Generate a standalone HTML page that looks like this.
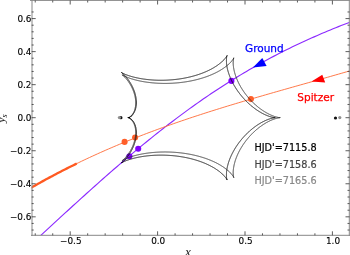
<!DOCTYPE html>
<html><head><meta charset="utf-8"><style>
html,body{margin:0;padding:0;background:#fff;width:350px;height:255px;overflow:hidden}
svg{display:block}
.tl{font-family:"DejaVu Sans","Liberation Sans",sans-serif;font-size:8.9px;fill:#000;stroke:#000;stroke-width:0.12px}
.lg{font-family:"DejaVu Sans","Liberation Sans",sans-serif;font-size:10.5px;stroke-width:0.25px}
.hj{font-family:"DejaVu Sans","Liberation Sans",sans-serif;font-size:9.7px;stroke-width:0.2px}
.ax{font-family:"Liberation Serif","DejaVu Serif",serif;font-style:italic;fill:#222;stroke:#222;stroke-width:0.05px}
</style></head><body>
<svg width="350" height="255" viewBox="0 0 350 255">
<defs><clipPath id="c"><rect x="31.7" y="0.5" width="317.8" height="234.8"/></clipPath></defs>
<g clip-path="url(#c)">
<path d="M30.00 245.26 L32.71 242.78 L35.41 240.29 L38.12 237.81 L40.82 235.32 L43.53 232.83 L46.24 230.34 L48.94 227.85 L51.65 225.36 L54.35 222.87 L57.06 220.39 L59.76 217.90 L62.47 215.42 L65.18 212.94 L67.88 210.46 L70.59 207.99 L73.29 205.52 L76.00 203.06 L78.71 200.60 L81.41 198.15 L84.12 195.70 L86.82 193.26 L89.53 190.83 L92.24 188.40 L94.94 185.99 L97.65 183.57 L100.35 181.17 L103.06 178.78 L105.76 176.40 L108.47 174.02 L111.18 171.66 L113.88 169.30 L116.59 166.96 L119.29 164.62 L122.00 162.30 L124.71 159.99 L127.41 157.69 L130.12 155.41 L132.82 153.13 L135.53 150.87 L138.24 148.62 L140.94 146.39 L143.65 144.16 L146.35 141.96 L149.06 139.76 L151.76 137.58 L154.47 135.41 L157.18 133.26 L159.88 131.13 L162.59 129.00 L165.29 126.90 L168.00 124.81 L170.71 122.73 L173.41 120.67 L176.12 118.63 L178.82 116.60 L181.53 114.59 L184.24 112.59 L186.94 110.61 L189.65 108.65 L192.35 106.71 L195.06 104.78 L197.76 102.87 L200.47 100.97 L203.18 99.09 L205.88 97.23 L208.59 95.39 L211.29 93.56 L214.00 91.76 L216.71 89.96 L219.41 88.19 L222.12 86.43 L224.82 84.70 L227.53 82.97 L230.24 81.27 L232.94 79.58 L235.65 77.92 L238.35 76.27 L241.06 74.63 L243.76 73.02 L246.47 71.42 L249.18 69.84 L251.88 68.27 L254.59 66.73 L257.29 65.20 L260.00 63.68 L262.71 62.19 L265.41 60.71 L268.12 59.25 L270.82 57.80 L273.53 56.38 L276.24 54.96 L278.94 53.57 L281.65 52.19 L284.35 50.83 L287.06 49.48 L289.76 48.15 L292.47 46.83 L295.18 45.53 L297.88 44.25 L300.59 42.98 L303.29 41.72 L306.00 40.48 L308.71 39.26 L311.41 38.04 L314.12 36.85 L316.82 35.66 L319.53 34.49 L322.24 33.33 L324.94 32.19 L327.65 31.06 L330.35 29.94 L333.06 28.83 L335.76 27.74 L338.47 26.65 L341.18 25.58 L343.88 24.52 L346.59 23.47 L349.29 22.43 L352.00 21.40" fill="none" stroke="#8c2aff" stroke-width="1.15"/><path d="M30.00 188.42 L32.71 186.86 L35.41 185.31 L38.12 183.79 L40.82 182.27 L43.53 180.78 L46.24 179.29 L48.94 177.82 L51.65 176.37 L54.35 174.93 L57.06 173.51 L59.76 172.10 L62.47 170.70 L65.18 169.32 L67.88 167.95 L70.59 166.60 L73.29 165.26 L76.00 163.93 L78.71 162.62 L81.41 161.32 L84.12 160.03 L86.82 158.75 L89.53 157.49 L92.24 156.24 L94.94 155.00 L97.65 153.78 L100.35 152.56 L103.06 151.36 L105.76 150.17 L108.47 148.99 L111.18 147.82 L113.88 146.67 L116.59 145.52 L119.29 144.38 L122.00 143.26 L124.71 142.15 L127.41 141.04 L130.12 139.95 L132.82 138.87 L135.53 137.80 L138.24 136.73 L140.94 135.68 L143.65 134.64 L146.35 133.60 L149.06 132.57 L151.76 131.56 L154.47 130.55 L157.18 129.55 L159.88 128.56 L162.59 127.58 L165.29 126.60 L168.00 125.64 L170.71 124.68 L173.41 123.73 L176.12 122.79 L178.82 121.85 L181.53 120.92 L184.24 120.00 L186.94 119.09 L189.65 118.18 L192.35 117.28 L195.06 116.39 L197.76 115.50 L200.47 114.62 L203.18 113.74 L205.88 112.87 L208.59 112.01 L211.29 111.15 L214.00 110.29 L216.71 109.45 L219.41 108.60 L222.12 107.76 L224.82 106.93 L227.53 106.10 L230.24 105.28 L232.94 104.46 L235.65 103.64 L238.35 102.83 L241.06 102.02 L243.76 101.22 L246.47 100.42 L249.18 99.62 L251.88 98.82 L254.59 98.03 L257.29 97.24 L260.00 96.46 L262.71 95.68 L265.41 94.89 L268.12 94.12 L270.82 93.34 L273.53 92.56 L276.24 91.79 L278.94 91.02 L281.65 90.25 L284.35 89.48 L287.06 88.72 L289.76 87.95 L292.47 87.18 L295.18 86.42 L297.88 85.65 L300.59 84.89 L303.29 84.13 L306.00 83.36 L308.71 82.60 L311.41 81.84 L314.12 81.07 L316.82 80.31 L319.53 79.54 L322.24 78.77 L324.94 78.01 L327.65 77.24 L330.35 76.47 L333.06 75.70 L335.76 74.92 L338.47 74.15 L341.18 73.37 L343.88 72.59 L346.59 71.81 L349.29 71.03 L352.00 70.24" fill="none" stroke="#ff6a35" stroke-width="0.9"/><path d="M30.00 188.42 L31.61 187.49 L33.22 186.56 L34.83 185.65 L36.44 184.73 L38.05 183.82 L39.66 182.92 L41.27 182.02 L42.88 181.13 L44.49 180.25 L46.10 179.36 L47.71 178.49 L49.32 177.62 L50.93 176.75 L52.54 175.89 L54.16 175.04 L55.77 174.19 L57.38 173.34 L58.99 172.50 L60.60 171.67 L62.21 170.84 L63.82 170.01 L65.43 169.19 L67.04 168.38 L68.65 167.57 L70.26 166.76 L71.87 165.96 L73.48 165.17 L75.09 164.38 L76.70 163.59" fill="none" stroke="#ff5a22" stroke-width="2.3"/>
<circle cx="124.6" cy="141.9" r="3.05" fill="#ff5f2a"/><circle cx="135.1" cy="137.5" r="3.05" fill="#ff5f2a"/><circle cx="250.9" cy="99.1" r="3.05" fill="#ff5f2a"/><circle cx="129.4" cy="156.3" r="3.05" fill="#8000ff"/><circle cx="138.2" cy="148.7" r="3.05" fill="#8000ff"/><circle cx="231.4" cy="80.9" r="3.05" fill="#8000ff"/>
<path d="M128.31 117.70 L128.31 117.70 L128.31 117.70 L128.31 117.70 L128.31 117.70 L128.31 117.70 L128.31 117.70 L128.31 117.70 L128.31 117.70 L128.31 117.70 L128.31 117.70 L128.31 117.70 L128.31 117.70 L128.31 117.70 L128.31 117.70 L128.31 117.70 L128.32 117.70 L128.32 117.70 L128.32 117.70 L128.32 117.70 L128.32 117.70 L128.32 117.70 L128.32 117.70 L128.32 117.70 L128.32 117.70 L128.33 117.70 L128.33 117.70 L128.33 117.70 L128.33 117.70 L128.33 117.70 L128.33 117.70 L128.33 117.70 L128.34 117.70 L128.34 117.70 L128.34 117.70 L128.34 117.70 L128.34 117.70 L128.35 117.70 L128.35 117.70 L128.35 117.70 L128.35 117.70 L128.35 117.70 L128.36 117.70 L128.36 117.70 L128.36 117.70 L128.36 117.70 L128.36 117.70 L128.37 117.70 L128.37 117.70 L128.37 117.70 L128.38 117.70 L128.38 117.70 L128.38 117.70 L128.38 117.71 L128.39 117.71 L128.39 117.71 L128.39 117.71 L128.39 117.71 L128.40 117.71 L128.40 117.71 L128.40 117.71 L128.41 117.71 L128.41 117.71 L128.41 117.71 L128.42 117.71 L128.42 117.71 L128.42 117.71 L128.43 117.71 L128.43 117.71 L128.43 117.71 L128.44 117.71 L128.44 117.71 L128.45 117.71 L128.45 117.71 L128.45 117.71 L128.46 117.71 L128.46 117.72 L128.47 117.72 L128.47 117.72 L128.47 117.72 L128.48 117.72 L128.48 117.72 L128.49 117.72 L128.49 117.72 L128.50 117.72 L128.50 117.72 L128.50 117.72 L128.51 117.72 L128.51 117.72 L128.52 117.72 L128.52 117.73 L128.53 117.73 L128.53 117.73 L128.54 117.73 L128.54 117.73 L128.55 117.73 L128.55 117.73 L128.56 117.73 L128.56 117.73 L128.57 117.73 L128.57 117.74 L128.58 117.74 L128.58 117.74 L128.59 117.74 L128.59 117.74 L128.60 117.74 L128.60 117.74 L128.61 117.74 L128.62 117.74 L128.62 117.75 L128.63 117.75 L128.63 117.75 L128.64 117.75 L128.64 117.75 L128.65 117.75 L128.66 117.75 L128.66 117.75 L128.67 117.76 L128.67 117.76 L128.68 117.76 L128.69 117.76 L128.69 117.76 L128.70 117.76 L128.71 117.77 L128.71 117.77 L128.72 117.77 L128.73 117.77 L128.73 117.77 L128.74 117.77 L128.75 117.78 L128.75 117.78 L128.76 117.78 L128.77 117.78 L128.77 117.78 L128.78 117.78 L128.79 117.79 L128.79 117.79 L128.80 117.79 L128.81 117.79 L128.81 117.79 L128.82 117.80 L128.83 117.80 L128.84 117.80 L128.84 117.80 L128.85 117.80 L128.86 117.81 L128.87 117.81 L128.87 117.81 L128.88 117.81 L128.89 117.82 L128.90 117.82 L128.90 117.82 L128.91 117.82 L128.92 117.83 L128.93 117.83 L128.94 117.83 L128.94 117.83 L128.95 117.84 L128.96 117.84 L128.97 117.84 L128.98 117.84 L128.98 117.85 L128.99 117.85 L129.00 117.85 L129.01 117.85 L129.02 117.86 L129.03 117.86 L129.03 117.86 L129.04 117.87 L129.05 117.87 L129.06 117.87 L129.07 117.88 L129.08 117.88 L129.09 117.88 L129.10 117.88 L129.10 117.89 L129.11 117.89 L129.12 117.89 L129.13 117.90 L129.14 117.90 L129.15 117.90 L129.16 117.91 L129.17 117.91 L129.18 117.91 L129.19 117.92 L129.20 117.92 L129.20 117.93 L129.21 117.93 L129.22 117.93 L129.23 117.94 L129.24 117.94 L129.25 117.94 L129.26 117.95 L129.27 117.95 L129.28 117.96 L129.29 117.96 L129.30 117.96 L129.31 117.97 L129.32 117.97 L129.33 117.98 L129.34 117.98 L129.35 117.98 L129.36 117.99 L129.37 117.99 L129.38 118.00 L129.39 118.00 L129.40 118.01 L129.41 118.01 L129.42 118.02 L129.43 118.02 L129.44 118.02 L129.45 118.03 L129.46 118.03 L129.47 118.04 L129.48 118.04 L129.50 118.05 L129.51 118.05 L129.52 118.06 L129.53 118.06 L129.54 118.07 L129.55 118.07 L129.56 118.08 L129.57 118.08 L129.58 118.09 L129.59 118.09 L129.60 118.10 L129.62 118.10 L129.63 118.11 L129.64 118.12 L129.65 118.12 L129.66 118.13 L129.67 118.13 L129.68 118.14 L129.69 118.14 L129.71 118.15 L129.72 118.16 L129.73 118.16 L129.74 118.17 L129.75 118.17 L129.76 118.18 L129.77 118.18 L129.79 118.19 L129.80 118.20 L129.81 118.20 L129.82 118.21 L129.83 118.22 L129.85 118.22 L129.86 118.23 L129.87 118.24 L129.88 118.24 L129.89 118.25 L129.91 118.25 L129.92 118.26 L129.93 118.27 L129.94 118.27 L129.95 118.28 L129.97 118.29 L129.98 118.30 L129.99 118.30 L130.00 118.31 L130.02 118.32 L130.03 118.32 L130.04 118.33 L130.05 118.34 L130.07 118.35 L130.08 118.35 L130.09 118.36 L130.10 118.37 L130.12 118.38 L130.13 118.38 L130.14 118.39 L130.15 118.40 L130.17 118.41 L130.18 118.41 L130.19 118.42 L130.21 118.43 L130.22 118.44 L130.23 118.45 L130.25 118.45 L130.26 118.46 L130.27 118.47 L130.29 118.48 L130.30 118.49 L130.31 118.50 L130.32 118.50 L130.34 118.51 L130.35 118.52 L130.36 118.53 L130.38 118.54 L130.39 118.55 L130.41 118.56 L130.42 118.56 L130.43 118.57 L130.45 118.58 L130.46 118.59 L130.47 118.60 L130.49 118.61 L130.50 118.62 L130.51 118.63 L130.53 118.64 L130.54 118.65 L130.56 118.66 L130.57 118.67 L130.58 118.68 L130.60 118.69 L130.61 118.70 L130.63 118.71 L130.64 118.72 L130.65 118.73 L130.67 118.74 L130.68 118.75 L130.70 118.76 L130.71 118.77 L130.72 118.78 L130.74 118.79 L130.75 118.80 L130.77 118.81 L130.78 118.82 L130.80 118.83 L130.81 118.84 L130.82 118.85 L130.84 118.86 L130.85 118.87 L130.87 118.88 L130.88 118.89 L130.90 118.91 L130.91 118.92 L130.93 118.93 L130.94 118.94 L130.96 118.95 L130.97 118.96 L130.98 118.97 L131.00 118.98 L131.01 119.00 L131.03 119.01 L131.04 119.02 L131.06 119.03 L131.07 119.04 L131.09 119.06 L131.10 119.07 L131.12 119.08 L131.13 119.09 L131.15 119.10 L131.16 119.12 L131.18 119.13 L131.19 119.14 L131.21 119.15 L131.22 119.17 L131.24 119.18 L131.25 119.19 L131.27 119.21 L131.28 119.22 L131.30 119.23 L131.31 119.24 L131.33 119.26 L131.34 119.27 L131.36 119.28 L131.38 119.30 L131.39 119.31 L131.41 119.33 L131.42 119.34 L131.44 119.35 L131.45 119.37 L131.47 119.38 L131.48 119.39 L131.50 119.41 L131.51 119.42 L131.53 119.44 L131.55 119.45 L131.56 119.47 L131.58 119.48 L131.59 119.49 L131.61 119.51 L131.62 119.52 L131.64 119.54 L131.66 119.55 L131.67 119.57 L131.69 119.58 L131.70 119.60 L131.72 119.61 L131.73 119.63 L131.75 119.64 L131.77 119.66 L131.78 119.67 L131.80 119.69 L131.81 119.71 L131.83 119.72 L131.85 119.74 L131.86 119.75 L131.88 119.77 L131.89 119.78 L131.91 119.80 L131.93 119.82 L131.94 119.83 L131.96 119.85 L131.97 119.87 L131.99 119.88 L132.01 119.90 L132.02 119.92 L132.04 119.93 L132.05 119.95 L132.07 119.97 L132.09 119.98 L132.10 120.00 L132.12 120.02 L132.13 120.04 L132.15 120.05 L132.17 120.07 L132.18 120.09 L132.20 120.11 L132.22 120.12 L132.23 120.14 L132.25 120.16 L132.26 120.18 L132.28 120.20 L132.30 120.21 L132.31 120.23 L132.33 120.25 L132.35 120.27 L132.36 120.29 L132.38 120.31 L132.40 120.32 L132.41 120.34 L132.43 120.36 L132.44 120.38 L132.46 120.40 L132.48 120.42 L132.49 120.44 L132.51 120.46 L132.53 120.48 L132.54 120.50 L132.56 120.52 L132.58 120.54 L132.59 120.56 L132.61 120.58 L132.62 120.60 L132.64 120.62 L132.66 120.64 L132.67 120.66 L132.69 120.68 L132.71 120.70 L132.72 120.72 L132.74 120.74 L132.76 120.76 L132.77 120.78 L132.79 120.80 L132.81 120.82 L132.82 120.84 L132.84 120.86 L132.86 120.89 L132.87 120.91 L132.89 120.93 L132.91 120.95 L132.92 120.97 L132.94 120.99 L132.95 121.02 L132.97 121.04 L132.99 121.06 L133.00 121.08 L133.02 121.10 L133.04 121.13 L133.05 121.15 L133.07 121.17 L133.09 121.20 L133.10 121.22 L133.12 121.24 L133.14 121.26 L133.15 121.29 L133.17 121.31 L133.19 121.33 L133.20 121.36 L133.22 121.38 L133.24 121.40 L133.25 121.43 L133.27 121.45 L133.28 121.48 L133.30 121.50 L133.32 121.52 L133.33 121.55 L133.35 121.57 L133.37 121.60 L133.38 121.62 L133.40 121.65 L133.42 121.67 L133.43 121.70 L133.45 121.72 L133.47 121.75 L133.48 121.77 L133.50 121.80 L133.51 121.82 L133.53 121.85 L133.55 121.87 L133.56 121.90 L133.58 121.92 L133.60 121.95 L133.61 121.98 L133.63 122.00 L133.65 122.03 L133.66 122.05 L133.68 122.08 L133.69 122.11 L133.71 122.13 L133.73 122.16 L133.74 122.19 L133.76 122.22 L133.78 122.24 L133.79 122.27 L133.81 122.30 L133.82 122.32 L133.84 122.35 L133.86 122.38 L133.87 122.41 L133.89 122.44 L133.90 122.46 L133.92 122.49 L133.94 122.52 L133.95 122.55 L133.97 122.58 L133.98 122.60 L134.00 122.63 L134.02 122.66 L134.03 122.69 L134.05 122.72 L134.06 122.75 L134.08 122.78 L134.10 122.81 L134.11 122.84 L134.13 122.87 L134.14 122.90 L134.16 122.93 L134.18 122.96 L134.19 122.99 L134.21 123.02 L134.22 123.05 L134.24 123.08 L134.25 123.11 L134.27 123.14 L134.29 123.17 L134.30 123.20 L134.32 123.23 L134.33 123.26 L134.35 123.29 L134.36 123.32 L134.38 123.36 L134.39 123.39 L134.41 123.42 L134.42 123.45 L134.44 123.48 L134.46 123.52 L134.47 123.55 L134.49 123.58 L134.50 123.61 L134.52 123.64 L134.53 123.68 L134.55 123.71 L134.56 123.74 L134.58 123.78 L134.59 123.81 L134.61 123.84 L134.62 123.88 L134.64 123.91 L134.65 123.94 L134.67 123.98 L134.68 124.01 L134.70 124.04 L134.71 124.08 L134.73 124.11 L134.74 124.15 L134.76 124.18 L134.77 124.22 L134.78 124.25 L134.80 124.29 L134.81 124.32 L134.83 124.36 L134.84 124.39 L134.86 124.43 L134.87 124.46 L134.89 124.50 L134.90 124.53 L134.91 124.57 L134.93 124.61 L134.94 124.64 L134.96 124.68 L134.97 124.72 L134.98 124.75 L135.00 124.79 L135.01 124.83 L135.03 124.86 L135.04 124.90 L135.05 124.94 L135.07 124.97 L135.08 125.01 L135.10 125.05 L135.11 125.09 L135.12 125.12 L135.14 125.16 L135.15 125.20 L135.16 125.24 L135.18 125.28 L135.19 125.32 L135.20 125.35 L135.22 125.39 L135.23 125.43 L135.24 125.47 L135.26 125.51 L135.27 125.55 L135.28 125.59 L135.30 125.63 L135.31 125.67 L135.32 125.71 L135.33 125.75 L135.35 125.79 L135.36 125.83 L135.37 125.87 L135.39 125.91 L135.40 125.95 L135.41 125.99 L135.42 126.03 L135.44 126.07 L135.45 126.12 L135.46 126.16 L135.47 126.20 L135.48 126.24 L135.50 126.28 L135.51 126.32 L135.52 126.37 L135.53 126.41 L135.54 126.45 L135.56 126.49 L135.57 126.54 L135.58 126.58 L135.59 126.62 L135.60 126.66 L135.61 126.71 L135.63 126.75 L135.64 126.79 L135.65 126.84 L135.66 126.88 L135.67 126.93 L135.68 126.97 L135.69 127.01 L135.70 127.06 L135.71 127.10 L135.73 127.15 L135.74 127.19 L135.75 127.24 L135.76 127.28 L135.77 127.33 L135.78 127.37 L135.79 127.42 L135.80 127.46 L135.81 127.51 L135.82 127.56 L135.83 127.60 L135.84 127.65 L135.85 127.70 L135.86 127.74 L135.87 127.79 L135.88 127.84 L135.89 127.88 L135.90 127.93 L135.91 127.98 L135.92 128.02 L135.93 128.07 L135.94 128.12 L135.95 128.17 L135.95 128.22 L135.96 128.26 L135.97 128.31 L135.98 128.36 L135.99 128.41 L136.00 128.46 L136.01 128.51 L136.02 128.56 L136.02 128.61 L136.03 128.66 L136.04 128.70 L136.05 128.75 L136.06 128.80 L136.06 128.85 L136.07 128.90 L136.08 128.96 L136.09 129.01 L136.10 129.06 L136.10 129.11 L136.11 129.16 L136.12 129.21 L136.13 129.26 L136.13 129.31 L136.14 129.36 L136.15 129.42 L136.15 129.47 L136.16 129.52 L136.17 129.57 L136.17 129.62 L136.18 129.68 L136.19 129.73 L136.19 129.78 L136.20 129.84 L136.21 129.89 L136.21 129.94 L136.22 130.00 L136.22 130.05 L136.23 130.10 L136.23 130.16 L136.24 130.21 L136.24 130.27 L136.25 130.32 L136.26 130.37 L136.26 130.43 L136.27 130.48 L136.27 130.54 L136.27 130.59 L136.28 130.65 L136.28 130.71 L136.29 130.76 L136.29 130.82 L136.30 130.87 L136.30 130.93 L136.30 130.99 L136.31 131.04 L136.31 131.10 L136.32 131.16 L136.32 131.21 L136.32 131.27 L136.33 131.33 L136.33 131.39 L136.33 131.44 L136.34 131.50 L136.34 131.56 L136.34 131.62 L136.34 131.68 L136.35 131.73 L136.35 131.79 L136.35 131.85 L136.35 131.91 L136.35 131.97 L136.36 132.03 L136.36 132.09 L136.36 132.15 L136.36 132.21 L136.36 132.27 L136.36 132.33 L136.36 132.39 L136.36 132.45 L136.37 132.51 L136.37 132.57 L136.37 132.63 L136.37 132.69 L136.37 132.75 L136.37 132.82 L136.37 132.88 L136.37 132.94 L136.37 133.00 L136.37 133.06 L136.37 133.13 L136.36 133.19 L136.36 133.25 L136.36 133.31 L136.36 133.38 L136.36 133.44 L136.36 133.50 L136.36 133.57 L136.36 133.63 L136.35 133.70 L136.35 133.76 L136.35 133.82 L136.35 133.89 L136.34 133.95 L136.34 134.02 L136.34 134.08 L136.34 134.15 L136.33 134.21 L136.33 134.28 L136.33 134.34 L136.32 134.41 L136.32 134.48 L136.31 134.54 L136.31 134.61 L136.31 134.67 L136.30 134.74 L136.30 134.81 L136.29 134.87 L136.29 134.94 L136.28 135.01 L136.28 135.08 L136.27 135.14 L136.27 135.21 L136.26 135.28 L136.26 135.35 L136.25 135.42 L136.24 135.49 L136.24 135.55 L136.23 135.62 L136.22 135.69 L136.22 135.76 L136.21 135.83 L136.20 135.90 L136.20 135.97 L136.19 136.04 L136.18 136.11 L136.17 136.18 L136.16 136.25 L136.16 136.32 L136.15 136.39 L136.14 136.46 L136.13 136.53 L136.12 136.60 L136.11 136.68 L136.10 136.75 L136.09 136.82 L136.08 136.89 L136.07 136.96 L136.06 137.04 L136.05 137.11 L136.04 137.18 L136.03 137.25 L136.02 137.33 L136.01 137.40 L136.00 137.47 L135.99 137.55 L135.98 137.62 L135.96 137.69 L135.95 137.77 L135.94 137.84 L135.93 137.92 L135.92 137.99 L135.90 138.06 L135.89 138.14 L135.88 138.21 L135.86 138.29 L135.85 138.36 L135.84 138.44 L135.82 138.52 L135.81 138.59 L135.79 138.67 L135.78 138.74 L135.76 138.82 L135.75 138.90 L135.73 138.97 L135.72 139.05 L135.70 139.13 L135.69 139.20 L135.67 139.28 L135.65 139.36 L135.64 139.43 L135.62 139.51 L135.61 139.59 L135.59 139.67 L135.57 139.75 L135.55 139.82 L135.54 139.90 L135.52 139.98 L135.50 140.06 L135.48 140.14 L135.46 140.22 L135.44 140.30 L135.42 140.38 L135.41 140.46 L135.39 140.54 L135.37 140.62 L135.35 140.70 L135.33 140.78 L135.31 140.86 L135.28 140.94 L135.26 141.02 L135.24 141.10 L135.22 141.18 L135.20 141.26 L135.18 141.34 L135.16 141.42 L135.13 141.50 L135.11 141.58 L135.09 141.67 L135.07 141.75 L135.04 141.83 L135.02 141.91 L135.00 141.99 L134.97 142.08 L134.95 142.16 L134.92 142.24 L134.90 142.32 L134.87 142.41 L134.85 142.49 L134.82 142.57 L134.80 142.66 L134.77 142.74 L134.75 142.82 L134.72 142.91 L134.69 142.99 L134.67 143.07 L134.64 143.16 L134.61 143.24 L134.59 143.33 L134.56 143.41 L134.53 143.50 L134.50 143.58 L134.47 143.66 L134.45 143.75 L134.42 143.83 L134.39 143.92 L134.36 144.00 L134.33 144.09 L134.30 144.17 L134.27 144.26 L134.24 144.35 L134.21 144.43 L134.18 144.52 L134.15 144.60 L134.11 144.69 L134.08 144.77 L134.05 144.86 L134.02 144.95 L133.99 145.03 L133.95 145.12 L133.92 145.21 L133.89 145.29 L133.85 145.38 L133.82 145.47 L133.79 145.55 L133.75 145.64 L133.72 145.73 L133.68 145.81 L133.65 145.90 L133.61 145.99 L133.58 146.08 L133.54 146.16 L133.51 146.25 L133.47 146.34 L133.44 146.42 L133.40 146.51 L133.36 146.60 L133.33 146.69 L133.29 146.78 L133.25 146.86 L133.21 146.95 L133.17 147.04 L133.14 147.13 L133.10 147.21 L133.06 147.30 L133.02 147.39 L132.98 147.48 L132.94 147.57 L132.90 147.66 L132.86 147.74 L132.82 147.83 L132.78 147.92 L132.74 148.01 L132.70 148.10 L132.66 148.18 L132.62 148.27 L132.57 148.36 L132.53 148.45 L132.49 148.54 L132.45 148.63 L132.40 148.71 L132.36 148.80 L132.32 148.89 L132.28 148.98 L132.23 149.07 L132.19 149.16 L132.14 149.24 L132.10 149.33 L132.06 149.42 L132.01 149.51 L131.97 149.60 L131.92 149.69 L131.87 149.77 L131.83 149.86 L131.78 149.95 L131.74 150.04 L131.69 150.13 L131.64 150.21 L131.60 150.30 L131.55 150.39 L131.50 150.48 L131.46 150.56 L131.41 150.65 L131.36 150.74 L131.31 150.83 L131.26 150.91 L131.22 151.00 L131.17 151.09 L131.12 151.18 L131.07 151.26 L131.02 151.35 L130.97 151.44 L130.92 151.52 L130.87 151.61 L130.82 151.70 L130.77 151.79 L130.72 151.87 L130.67 151.96 L130.62 152.04 L130.57 152.13 L130.52 152.22 L130.46 152.30 L130.41 152.39 L130.36 152.47 L130.31 152.56 L130.26 152.64 L130.21 152.73 L130.15 152.82 L130.10 152.90 L130.05 152.99 L129.99 153.07 L129.94 153.15 L129.89 153.24 L129.84 153.32 L129.78 153.41 L129.73 153.49 L129.67 153.57 L129.62 153.66 L129.57 153.74 L129.51 153.82 L129.46 153.91 L129.40 153.99 L129.35 154.07 L129.29 154.16 L129.24 154.24 L129.18 154.32 L129.13 154.40 L129.07 154.48 L129.02 154.56 L128.96 154.65 L128.91 154.73 L128.85 154.81 L128.80 154.89 L128.74 154.97 L128.69 155.05 L128.63 155.13 L128.57 155.21 L128.52 155.29 L128.46 155.37 L128.40 155.44 L128.35 155.52 L128.29 155.60 L128.24 155.68 L128.18 155.76 L128.12 155.83 L128.07 155.91 L128.01 155.99 L127.95 156.07 L127.90 156.14 L127.84 156.22 L127.78 156.29 L127.73 156.37 L127.67 156.44 L127.61 156.52 L127.55 156.59 L127.50 156.67 L127.44 156.74 L127.38 156.82 L127.33 156.89 L127.27 156.96 L127.21 157.03 L127.16 157.11 L127.10 157.18 L127.04 157.25 L126.98 157.32 L126.93 157.39 L126.87 157.46 L126.81 157.53 L126.76 157.60 L126.70 157.67 L126.64 157.74 L126.59 157.81 L126.53 157.88 L126.47 157.95 L126.42 158.01 L126.36 158.08 L126.31 158.15 L126.25 158.22 L126.19 158.28 L126.14 158.35 L126.08 158.41 L126.03 158.48 L125.97 158.54 L125.91 158.61 L125.86 158.67 L125.80 158.73 L125.75 158.80 L125.69 158.86 L125.64 158.92 L125.58 158.98 L125.53 159.05 L125.47 159.11 L125.42 159.17 L125.36 159.23 L125.31 159.29 L125.26 159.35 L125.20 159.40 L125.15 159.46 L125.10 159.52 L125.04 159.58 L124.99 159.64 L124.94 159.69 L124.88 159.75 L124.83 159.80 L124.78 159.86 L124.73 159.91 L124.67 159.97 L124.62 160.02 L124.57 160.08 L124.52 160.13 L124.47 160.18 L124.42 160.23 L124.37 160.28 L124.32 160.34 L124.27 160.39 L124.22 160.44 L124.17 160.49 L124.12 160.54 L124.07 160.58 L124.02 160.63 L123.97 160.68 L123.93 160.73 L123.88 160.77 L123.83 160.82 L123.78 160.87 L123.74 160.91 L123.69 160.96 L123.64 161.00 L123.60 161.04 L123.55 161.09 L123.51 161.13 L123.46 161.17 L123.42 161.21 L123.37 161.26 L123.33 161.30 L123.29 161.34 L123.24 161.38 L123.20 161.42 L123.16 161.46 L123.12 161.49 L123.07 161.53 L123.03 161.57 L122.99 161.61 L122.95 161.64 L122.91 161.68 L122.87 161.71 L122.83 161.75 L122.79 161.78 L122.76 161.82 L122.72 161.85 L122.68 161.88 L122.64 161.91 L122.61 161.95 L122.57 161.98 L122.53 162.01 L122.50 162.04 L122.46 162.07 L122.43 162.10 L122.40 162.12 L122.36 162.15 L122.33 162.18 L122.30 162.21 L122.26 162.23 L122.23 162.26 L122.20 162.28 L122.17 162.31 L122.14 162.33 L122.11 162.36 L122.08 162.38 L122.05 162.40 L122.03 162.43 L122.00 162.45 L121.97 162.47 L121.95 162.49 L121.92 162.51 L121.90 162.53 L121.87 162.55 L121.85 162.57 L121.82 162.59 L121.80 162.60 L121.78 162.62 L121.76 162.64 L121.73 162.65 L121.71 162.67 L121.69 162.69 L121.67 162.70 L121.66 162.71 L121.64 162.73 L121.62 162.74 L121.60 162.75 L121.59 162.77 L121.57 162.78 L121.55 162.79 L121.54 162.80 L121.53 162.81 L121.51 162.82 L121.50 162.83 L121.49 162.84 L121.48 162.84 L121.47 162.85 L121.46 162.86 L121.45 162.87 L121.44 162.87 L121.43 162.88 L121.42 162.88 L121.42 162.89 L121.41 162.89 L121.40 162.89 L121.40 162.90 L121.40 162.90 L121.39 162.90 L121.39 162.90 L121.39 162.90 L121.39 162.91 L121.39 162.91 L121.39 162.91 L121.39 162.90 L121.39 162.90 L121.39 162.90 L121.40 162.90 L121.40 162.90 L121.41 162.89 L121.41 162.89 L121.42 162.89 L121.42 162.88 L121.43 162.88 L121.44 162.87 L121.45 162.87 L121.46 162.86 L121.47 162.85 L121.48 162.85 L121.49 162.84 L121.51 162.83 L121.52 162.82 L121.54 162.81 L121.55 162.80 L121.57 162.79 L121.59 162.78 L121.60 162.77 L121.62 162.76 L121.64 162.75 L121.66 162.74 L121.68 162.73 L121.71 162.71 L121.73 162.70 L121.75 162.69 L121.78 162.67 L121.80 162.66 L121.83 162.64 L121.86 162.63 L121.88 162.61 L121.91 162.60 L121.94 162.58 L121.97 162.56 L122.01 162.55 L122.04 162.53 L122.07 162.51 L122.11 162.49 L122.14 162.47 L122.18 162.45 L122.21 162.43 L122.25 162.41 L122.29 162.39 L122.33 162.37 L122.37 162.35 L122.41 162.33 L122.45 162.31 L122.50 162.29 L122.54 162.26 L122.58 162.24 L122.63 162.22 L122.68 162.19 L122.72 162.17 L122.77 162.14 L122.82 162.12 L122.87 162.10 L122.92 162.07 L122.98 162.04 L123.03 162.02 L123.08 161.99 L123.14 161.97 L123.19 161.94 L123.25 161.91 L123.31 161.88 L123.37 161.86 L123.43 161.83 L123.49 161.80 L123.55 161.77 L123.61 161.74 L123.68 161.71 L123.74 161.68 L123.81 161.65 L123.88 161.62 L123.94 161.59 L124.01 161.56 L124.08 161.53 L124.15 161.50 L124.22 161.47 L124.30 161.43 L124.37 161.40 L124.44 161.37 L124.52 161.34 L124.60 161.30 L124.67 161.27 L124.75 161.24 L124.83 161.20 L124.91 161.17 L125.00 161.14 L125.08 161.10 L125.16 161.07 L125.25 161.03 L125.33 161.00 L125.42 160.96 L125.51 160.93 L125.60 160.89 L125.69 160.86 L125.78 160.82 L125.87 160.78 L125.96 160.75 L126.06 160.71 L126.15 160.67 L126.25 160.64 L126.35 160.60 L126.44 160.56 L126.54 160.52 L126.64 160.49 L126.75 160.45 L126.85 160.41 L126.95 160.37 L127.06 160.33 L127.16 160.30 L127.27 160.26 L127.38 160.22 L127.49 160.18 L127.60 160.14 L127.71 160.10 L127.82 160.06 L127.93 160.02 L128.05 159.98 L128.16 159.94 L128.28 159.90 L128.40 159.86 L128.52 159.82 L128.64 159.78 L128.76 159.74 L128.88 159.70 L129.00 159.66 L129.13 159.62 L129.25 159.58 L129.38 159.54 L129.50 159.50 L129.63 159.46 L129.76 159.42 L129.89 159.38 L130.02 159.34 L130.16 159.30 L130.29 159.25 L130.43 159.21 L130.56 159.17 L130.70 159.13 L130.84 159.09 L130.98 159.05 L131.12 159.01 L131.26 158.97 L131.40 158.93 L131.55 158.89 L131.69 158.84 L131.84 158.80 L131.98 158.76 L132.13 158.72 L132.28 158.68 L132.43 158.64 L132.58 158.60 L132.73 158.56 L132.89 158.52 L133.04 158.47 L133.20 158.43 L133.36 158.39 L133.51 158.35 L133.67 158.31 L133.83 158.27 L133.99 158.23 L134.16 158.19 L134.32 158.15 L134.48 158.11 L134.65 158.07 L134.81 158.03 L134.98 157.99 L135.15 157.95 L135.32 157.91 L135.49 157.87 L135.66 157.83 L135.84 157.79 L136.01 157.75 L136.19 157.71 L136.36 157.67 L136.54 157.63 L136.72 157.59 L136.90 157.55 L137.08 157.51 L137.26 157.48 L137.44 157.44 L137.62 157.40 L137.81 157.36 L137.99 157.32 L138.18 157.29 L138.37 157.25 L138.56 157.21 L138.74 157.17 L138.94 157.14 L139.13 157.10 L139.32 157.06 L139.51 157.03 L139.71 156.99 L139.90 156.96 L140.10 156.92 L140.30 156.89 L140.50 156.85 L140.70 156.82 L140.90 156.78 L141.10 156.75 L141.30 156.71 L141.50 156.68 L141.71 156.64 L141.91 156.61 L142.12 156.58 L142.33 156.54 L142.53 156.51 L142.74 156.48 L142.95 156.45 L143.16 156.42 L143.37 156.38 L143.59 156.35 L143.80 156.32 L144.02 156.29 L144.23 156.26 L144.45 156.23 L144.66 156.20 L144.88 156.17 L145.10 156.14 L145.32 156.12 L145.54 156.09 L145.76 156.06 L145.98 156.03 L146.21 156.00 L146.43 155.98 L146.65 155.95 L146.88 155.92 L147.11 155.90 L147.33 155.87 L147.56 155.85 L147.79 155.82 L148.02 155.80 L148.25 155.77 L148.48 155.75 L148.71 155.73 L148.94 155.70 L149.17 155.68 L149.41 155.66 L149.64 155.64 L149.88 155.62 L150.11 155.60 L150.35 155.58 L150.59 155.56 L150.82 155.54 L151.06 155.52 L151.30 155.50 L151.54 155.48 L151.78 155.46 L152.02 155.45 L152.26 155.43 L152.50 155.41 L152.75 155.40 L152.99 155.38 L153.23 155.36 L153.48 155.35 L153.72 155.34 L153.97 155.32 L154.21 155.31 L154.46 155.30 L154.70 155.28 L154.95 155.27 L155.20 155.26 L155.45 155.25 L155.70 155.24 L155.95 155.23 L156.19 155.22 L156.44 155.21 L156.69 155.20 L156.95 155.19 L157.20 155.18 L157.45 155.18 L157.70 155.17 L157.95 155.16 L158.20 155.16 L158.46 155.15 L158.71 155.15 L158.96 155.14 L159.22 155.14 L159.47 155.14 L159.72 155.13 L159.98 155.13 L160.23 155.13 L160.49 155.13 L160.74 155.13 L161.00 155.13 M275.27 117.70 L275.27 117.70 L275.27 117.70 L275.27 117.70 L275.27 117.70 L275.27 117.70 L275.27 117.70 L275.26 117.70 L275.26 117.70 L275.26 117.70 L275.25 117.70 L275.25 117.70 L275.24 117.70 L275.24 117.70 L275.23 117.70 L275.22 117.70 L275.22 117.70 L275.21 117.70 L275.20 117.70 L275.19 117.70 L275.18 117.70 L275.17 117.70 L275.16 117.70 L275.15 117.70 L275.14 117.70 L275.13 117.70 L275.12 117.69 L275.11 117.69 L275.10 117.69 L275.08 117.69 L275.07 117.69 L275.06 117.69 L275.04 117.69 L275.03 117.69 L275.01 117.69 L275.00 117.69 L274.98 117.69 L274.96 117.68 L274.95 117.68 L274.93 117.68 L274.91 117.68 L274.89 117.68 L274.87 117.68 L274.86 117.68 L274.84 117.67 L274.82 117.67 L274.80 117.67 L274.77 117.67 L274.75 117.67 L274.73 117.66 L274.71 117.66 L274.69 117.66 L274.66 117.66 L274.64 117.66 L274.62 117.65 L274.59 117.65 L274.57 117.65 L274.54 117.64 L274.51 117.64 L274.49 117.64 L274.46 117.64 L274.43 117.63 L274.41 117.63 L274.38 117.63 L274.35 117.62 L274.32 117.62 L274.29 117.61 L274.26 117.61 L274.23 117.61 L274.20 117.60 L274.17 117.60 L274.14 117.59 L274.11 117.59 L274.07 117.58 L274.04 117.58 L274.01 117.57 L273.97 117.57 L273.94 117.56 L273.90 117.56 L273.87 117.55 L273.83 117.55 L273.80 117.54 L273.76 117.54 L273.72 117.53 L273.69 117.52 L273.65 117.52 L273.61 117.51 L273.57 117.50 L273.53 117.50 L273.49 117.49 L273.45 117.48 L273.41 117.48 L273.37 117.47 L273.33 117.46 L273.29 117.45 L273.25 117.44 L273.20 117.44 L273.16 117.43 L273.12 117.42 L273.07 117.41 L273.03 117.40 L272.98 117.39 L272.94 117.38 L272.89 117.37 L272.85 117.36 L272.80 117.35 L272.75 117.34 L272.71 117.33 L272.66 117.32 L272.61 117.31 L272.56 117.30 L272.51 117.29 L272.46 117.28 L272.41 117.27 L272.36 117.26 L272.31 117.25 L272.26 117.23 L272.21 117.22 L272.16 117.21 L272.10 117.20 L272.05 117.18 L272.00 117.17 L271.94 117.16 L271.89 117.14 L271.84 117.13 L271.78 117.12 L271.73 117.10 L271.67 117.09 L271.61 117.07 L271.56 117.06 L271.50 117.04 L271.44 117.03 L271.38 117.01 L271.33 117.00 L271.27 116.98 L271.21 116.97 L271.15 116.95 L271.09 116.93 L271.03 116.92 L270.97 116.90 L270.91 116.88 L270.85 116.86 L270.78 116.85 L270.72 116.83 L270.66 116.81 L270.59 116.79 L270.53 116.77 L270.47 116.75 L270.40 116.73 L270.34 116.71 L270.27 116.69 L270.21 116.67 L270.14 116.65 L270.07 116.63 L270.01 116.61 L269.94 116.59 L269.87 116.57 L269.80 116.55 L269.74 116.52 L269.67 116.50 L269.60 116.48 L269.53 116.46 L269.46 116.43 L269.39 116.41 L269.32 116.39 L269.25 116.36 L269.18 116.34 L269.10 116.31 L269.03 116.29 L268.96 116.26 L268.89 116.24 L268.81 116.21 L268.74 116.18 L268.66 116.16 L268.59 116.13 L268.51 116.10 L268.44 116.08 L268.36 116.05 L268.29 116.02 L268.21 115.99 L268.13 115.96 L268.06 115.93 L267.98 115.91 L267.90 115.88 L267.82 115.85 L267.74 115.82 L267.66 115.78 L267.58 115.75 L267.50 115.72 L267.42 115.69 L267.34 115.66 L267.26 115.63 L267.18 115.59 L267.10 115.56 L267.02 115.53 L266.94 115.49 L266.85 115.46 L266.77 115.43 L266.69 115.39 L266.60 115.36 L266.52 115.32 L266.43 115.29 L266.35 115.25 L266.26 115.21 L266.18 115.18 L266.09 115.14 L266.01 115.10 L265.92 115.06 L265.83 115.03 L265.74 114.99 L265.66 114.95 L265.57 114.91 L265.48 114.87 L265.39 114.83 L265.30 114.79 L265.21 114.75 L265.12 114.71 L265.03 114.67 L264.94 114.62 L264.85 114.58 L264.76 114.54 L264.67 114.50 L264.58 114.45 L264.49 114.41 L264.40 114.37 L264.30 114.32 L264.21 114.28 L264.12 114.23 L264.02 114.19 L263.93 114.14 L263.83 114.09 L263.74 114.05 L263.65 114.00 L263.55 113.95 L263.45 113.90 L263.36 113.86 L263.26 113.81 L263.17 113.76 L263.07 113.71 L262.97 113.66 L262.88 113.61 L262.78 113.56 L262.68 113.51 L262.58 113.45 L262.48 113.40 L262.39 113.35 L262.29 113.30 L262.19 113.24 L262.09 113.19 L261.99 113.14 L261.89 113.08 L261.79 113.03 L261.69 112.97 L261.59 112.91 L261.48 112.86 L261.38 112.80 L261.28 112.74 L261.18 112.69 L261.08 112.63 L260.97 112.57 L260.87 112.51 L260.77 112.45 L260.66 112.39 L260.56 112.33 L260.46 112.27 L260.35 112.21 L260.25 112.15 L260.14 112.09 L260.04 112.03 L259.93 111.96 L259.83 111.90 L259.72 111.84 L259.62 111.77 L259.51 111.71 L259.41 111.65 L259.30 111.58 L259.19 111.51 L259.09 111.45 L258.98 111.38 L258.87 111.31 L258.76 111.25 L258.66 111.18 L258.55 111.11 L258.44 111.04 L258.33 110.97 L258.22 110.90 L258.11 110.83 L258.00 110.76 L257.89 110.69 L257.78 110.62 L257.68 110.55 L257.57 110.48 L257.46 110.40 L257.34 110.33 L257.23 110.26 L257.12 110.18 L257.01 110.11 L256.90 110.03 L256.79 109.96 L256.68 109.88 L256.57 109.80 L256.46 109.73 L256.34 109.65 L256.23 109.57 L256.12 109.49 L256.01 109.42 L255.90 109.34 L255.78 109.26 L255.67 109.18 L255.56 109.10 L255.44 109.02 L255.33 108.93 L255.22 108.85 L255.10 108.77 L254.99 108.69 L254.88 108.60 L254.76 108.52 L254.65 108.44 L254.53 108.35 L254.42 108.27 L254.31 108.18 L254.19 108.10 L254.08 108.01 L253.96 107.92 L253.85 107.83 L253.73 107.75 L253.62 107.66 L253.50 107.57 L253.39 107.48 L253.27 107.39 L253.16 107.30 L253.04 107.21 L252.92 107.12 L252.81 107.03 L252.69 106.94 L252.58 106.84 L252.46 106.75 L252.35 106.66 L252.23 106.56 L252.11 106.47 L252.00 106.38 L251.88 106.28 L251.76 106.19 L251.65 106.09 L251.53 105.99 L251.42 105.90 L251.30 105.80 L251.18 105.70 L251.07 105.60 L250.95 105.51 L250.83 105.41 L250.72 105.31 L250.60 105.21 L250.48 105.11 L250.37 105.01 L250.25 104.90 L250.13 104.80 L250.02 104.70 L249.90 104.60 L249.78 104.50 L249.67 104.39 L249.55 104.29 L249.43 104.19 L249.32 104.08 L249.20 103.98 L249.08 103.87 L248.97 103.76 L248.85 103.66 L248.74 103.55 L248.62 103.45 L248.50 103.34 L248.39 103.23 L248.27 103.12 L248.15 103.01 L248.04 102.90 L247.92 102.79 L247.81 102.68 L247.69 102.57 L247.57 102.46 L247.46 102.35 L247.34 102.24 L247.23 102.13 L247.11 102.02 L247.00 101.91 L246.88 101.79 L246.77 101.68 L246.65 101.57 L246.54 101.45 L246.42 101.34 L246.31 101.22 L246.19 101.11 L246.08 100.99 L245.96 100.88 L245.85 100.76 L245.73 100.64 L245.62 100.53 L245.51 100.41 L245.39 100.29 L245.28 100.17 L245.17 100.05 L245.05 99.94 L244.94 99.82 L244.83 99.70 L244.71 99.58 L244.60 99.46 L244.49 99.34 L244.38 99.22 L244.26 99.10 L244.15 98.97 L244.04 98.85 L243.93 98.73 L243.82 98.61 L243.71 98.49 L243.60 98.36 L243.48 98.24 L243.37 98.12 L243.26 97.99 L243.15 97.87 L243.04 97.74 L242.93 97.62 L242.82 97.50 L242.71 97.37 L242.61 97.24 L242.50 97.12 L242.39 96.99 L242.28 96.87 L242.17 96.74 L242.06 96.61 L241.96 96.49 L241.85 96.36 L241.74 96.23 L241.63 96.10 L241.53 95.98 L241.42 95.85 L241.32 95.72 L241.21 95.59 L241.10 95.46 L241.00 95.33 L240.89 95.20 L240.79 95.07 L240.68 94.94 L240.58 94.81 L240.48 94.68 L240.37 94.55 L240.27 94.42 L240.17 94.29 L240.06 94.16 L239.96 94.03 L239.86 93.90 L239.76 93.77 L239.66 93.64 L239.56 93.50 L239.45 93.37 L239.35 93.24 L239.25 93.11 L239.15 92.98 L239.05 92.84 L238.96 92.71 L238.86 92.58 L238.76 92.44 L238.66 92.31 L238.56 92.18 L238.46 92.04 L238.37 91.91 L238.27 91.78 L238.17 91.64 L238.08 91.51 L237.98 91.38 L237.89 91.24 L237.79 91.11 L237.70 90.97 L237.60 90.84 L237.51 90.70 L237.42 90.57 L237.32 90.44 L237.23 90.30 L237.14 90.17 L237.05 90.03 L236.95 89.90 L236.86 89.76 L236.77 89.63 L236.68 89.49 L236.59 89.36 L236.50 89.22 L236.41 89.09 L236.32 88.95 L236.24 88.82 L236.15 88.68 L236.06 88.55 L235.97 88.41 L235.89 88.28 L235.80 88.14 L235.71 88.00 L235.63 87.87 L235.54 87.73 L235.46 87.60 L235.37 87.46 L235.29 87.33 L235.21 87.19 L235.12 87.06 L235.04 86.92 L234.96 86.79 L234.88 86.65 L234.79 86.52 L234.71 86.38 L234.63 86.25 L234.55 86.11 L234.47 85.98 L234.39 85.84 L234.31 85.71 L234.24 85.57 L234.16 85.44 L234.08 85.30 L234.00 85.17 L233.93 85.04 L233.85 84.90 L233.77 84.77 L233.70 84.63 L233.62 84.50 L233.55 84.37 L233.47 84.23 L233.40 84.10 L233.33 83.96 L233.25 83.83 L233.18 83.70 L233.11 83.56 L233.04 83.43 L232.97 83.30 L232.90 83.17 L232.83 83.03 L232.76 82.90 L232.69 82.77 L232.62 82.63 L232.55 82.50 L232.48 82.37 L232.41 82.24 L232.35 82.11 L232.28 81.98 L232.21 81.84 L232.15 81.71 L232.08 81.58 L232.02 81.45 L231.95 81.32 L231.89 81.19 L231.82 81.06 L231.76 80.93 L231.70 80.80 L231.64 80.67 L231.57 80.54 L231.51 80.41 L231.45 80.28 L231.39 80.15 L231.33 80.02 L231.27 79.89 L231.21 79.76 L231.15 79.64 L231.09 79.51 L231.04 79.38 L230.98 79.25 L230.92 79.13 L230.86 79.00 L230.81 78.87 L230.75 78.74 L230.70 78.62 L230.64 78.49 L230.59 78.37 L230.53 78.24 L230.48 78.11 L230.43 77.99 L230.37 77.86 L230.32 77.74 L230.27 77.61 L230.22 77.49 L230.17 77.37 L230.11 77.24 L230.06 77.12 L230.01 76.99 L229.96 76.87 L229.92 76.75 L229.87 76.63 L229.82 76.50 L229.77 76.38 L229.72 76.26 L229.68 76.14 L229.63 76.02 L229.58 75.90 L229.54 75.78 L229.49 75.66 L229.45 75.54 L229.40 75.42 L229.36 75.30 L229.31 75.18 L229.27 75.06 L229.23 74.94 L229.19 74.82 L229.14 74.70 L229.10 74.59 L229.06 74.47 L229.02 74.35 L228.98 74.23 L228.94 74.12 L228.90 74.00 L228.86 73.89 L228.82 73.77 L228.78 73.65 L228.74 73.54 L228.71 73.42 L228.67 73.31 L228.63 73.20 L228.59 73.08 L228.56 72.97 L228.52 72.86 L228.49 72.74 L228.45 72.63 L228.42 72.52 L228.38 72.41 L228.35 72.30 L228.31 72.18 L228.28 72.07 L228.25 71.96 L228.21 71.85 L228.18 71.74 L228.15 71.63 L228.12 71.52 L228.09 71.42 L228.06 71.31 L228.03 71.20 L228.00 71.09 L227.97 70.98 L227.94 70.88 L227.91 70.77 L227.88 70.66 L227.85 70.56 L227.82 70.45 L227.79 70.35 L227.77 70.24 L227.74 70.14 L227.71 70.03 L227.69 69.93 L227.66 69.82 L227.63 69.72 L227.61 69.62 L227.58 69.52 L227.56 69.41 L227.53 69.31 L227.51 69.21 L227.49 69.11 L227.46 69.01 L227.44 68.91 L227.42 68.81 L227.39 68.71 L227.37 68.61 L227.35 68.51 L227.33 68.41 L227.31 68.31 L227.29 68.21 L227.27 68.12 L227.25 68.02 L227.23 67.92 L227.21 67.83 L227.19 67.73 L227.17 67.64 L227.15 67.54 L227.13 67.45 L227.11 67.35 L227.09 67.26 L227.08 67.16 L227.06 67.07 L227.04 66.98 L227.02 66.88 L227.01 66.79 L226.99 66.70 L226.97 66.61 L226.96 66.52 L226.94 66.43 L226.93 66.33 L226.91 66.24 L226.90 66.15 L226.88 66.07 L226.87 65.98 L226.86 65.89 L226.84 65.80 L226.83 65.71 L226.82 65.62 L226.80 65.54 L226.79 65.45 L226.78 65.36 L226.77 65.28 L226.75 65.19 L226.74 65.11 L226.73 65.02 L226.72 64.94 L226.71 64.85 L226.70 64.77 L226.69 64.69 L226.68 64.60 L226.67 64.52 L226.66 64.44 L226.65 64.36 L226.64 64.28 L226.63 64.20 L226.62 64.11 L226.61 64.03 L226.60 63.95 L226.59 63.88 L226.59 63.80 L226.58 63.72 L226.57 63.64 L226.56 63.56 L226.56 63.48 L226.55 63.41 L226.54 63.33 L226.54 63.25 L226.53 63.18 L226.52 63.10 L226.52 63.03 L226.51 62.95 L226.51 62.88 L226.50 62.80 L226.50 62.73 L226.49 62.66 L226.49 62.58 L226.48 62.51 L226.48 62.44 L226.47 62.37 L226.47 62.30 L226.47 62.22 L226.46 62.15 L226.46 62.08 L226.46 62.01 L226.45 61.94 L226.45 61.87 L226.45 61.81 L226.44 61.74 L226.44 61.67 L226.44 61.60 L226.44 61.53 L226.43 61.47 L226.43 61.40 L226.43 61.34 L226.43 61.27 L226.43 61.20 L226.43 61.14 L226.43 61.08 L226.43 61.01 L226.42 60.95 L226.42 60.88 L226.42 60.82 L226.42 60.76 L226.42 60.70 L226.42 60.63 L226.42 60.57 L226.42 60.51 L226.42 60.45 L226.42 60.39 L226.42 60.33 L226.42 60.27 L226.43 60.21 L226.43 60.15 L226.43 60.10 L226.43 60.04 L226.43 59.98 L226.43 59.92 L226.43 59.87 L226.44 59.81 L226.44 59.75 L226.44 59.70 L226.44 59.64 L226.44 59.59 L226.45 59.53 L226.45 59.48 L226.45 59.42 L226.45 59.37 L226.46 59.32 L226.46 59.27 L226.46 59.21 L226.46 59.16 L226.47 59.11 L226.47 59.06 L226.47 59.01 L226.48 58.96 L226.48 58.91 L226.48 58.86 L226.49 58.81 L226.49 58.76 L226.49 58.71 L226.50 58.66 L226.50 58.61 L226.51 58.57 L226.51 58.52 L226.51 58.47 L226.52 58.43 L226.52 58.38 L226.53 58.34 L226.53 58.29 L226.54 58.25 L226.54 58.20 L226.54 58.16 L226.55 58.11 L226.55 58.07 L226.56 58.03 L226.56 57.98 L226.57 57.94 L226.57 57.90 L226.58 57.86 L226.58 57.82 L226.59 57.78 L226.59 57.74 L226.60 57.70 L226.60 57.66 L226.61 57.62 L226.61 57.58 L226.62 57.54 L226.62 57.50 L226.63 57.47 L226.64 57.43 L226.64 57.39 L226.65 57.35 L226.65 57.32 L226.66 57.28 L226.66 57.25 L226.67 57.21 L226.67 57.18 L226.68 57.14 L226.68 57.11 L226.69 57.07 L226.70 57.04 L226.70 57.01 L226.71 56.98 L226.71 56.94 L226.72 56.91 L226.72 56.88 L226.73 56.85 L226.74 56.82 L226.74 56.79 L226.75 56.76 L226.75 56.73 L226.76 56.70 L226.76 56.67 L226.77 56.64 L226.78 56.61 L226.78 56.58 L226.79 56.56 L226.79 56.53 L226.80 56.50 L226.80 56.48 L226.81 56.45 L226.81 56.42 L226.82 56.40 L226.83 56.37 L226.83 56.35 L226.84 56.32 L226.84 56.30 L226.85 56.28 L226.85 56.25 L226.86 56.23 L226.86 56.21 L226.87 56.18 L226.87 56.16 L226.88 56.14 L226.89 56.12 L226.89 56.10 L226.90 56.08 L226.90 56.06 L226.91 56.04 L226.91 56.02 L226.92 56.00 L226.92 55.98 L226.93 55.96 L226.93 55.94 L226.94 55.93 L226.94 55.91 L226.95 55.89 L226.95 55.88 L226.95 55.86 L226.96 55.84 L226.96 55.83 L226.97 55.81 L226.97 55.80 L226.98 55.78 L226.98 55.77 L226.98 55.75 L226.99 55.74 L226.99 55.73 L227.00 55.71 L227.00 55.70 L227.00 55.69 L227.01 55.68 L227.01 55.67 L227.02 55.65 L227.02 55.64 L227.02 55.63 L227.03 55.62 L227.03 55.61 L227.03 55.60 L227.03 55.59 L227.04 55.59 L227.04 55.58 L227.04 55.57 L227.05 55.56 L227.05 55.55 L227.05 55.55 L227.05 55.54 L227.06 55.53 L227.06 55.53 L227.06 55.52 L227.06 55.51 L227.06 55.51 L227.07 55.50 L227.07 55.50 L227.07 55.50 L227.07 55.49 L227.07 55.49 L227.07 55.48 L227.07 55.48 L227.08 55.48 L227.08 55.48 L227.08 55.47 L227.08 55.47 L227.08 55.47 L227.08 55.47 L227.08 55.47 L227.08 55.47 L227.08 55.47 L227.08 55.47 L227.08 55.47 L227.08 55.47 L227.08 55.47 L227.08 55.47 L227.08 55.48 L227.08 55.48 L227.07 55.48 L227.07 55.48 L227.07 55.49 L227.07 55.49 L227.07 55.49 L227.07 55.50 L227.07 55.50 L227.06 55.51 L227.06 55.51 L227.06 55.52 L227.06 55.52 L227.05 55.53 L227.05 55.53 L227.05 55.54 L227.04 55.55 L227.04 55.56 L227.04 55.56 L227.03 55.57 L227.03 55.58 L227.03 55.59 L227.02 55.60 L227.02 55.60 L227.01 55.61 L227.01 55.62 L227.00 55.63 L227.00 55.64 L226.99 55.65 L226.99 55.67 L226.98 55.68 L226.98 55.69 L226.97 55.70 L226.97 55.71 L226.96 55.72 L226.95 55.74 L226.95 55.75 L226.94 55.76 L226.93 55.78 L226.93 55.79 L226.92 55.80 L226.91 55.82 L226.90 55.83 L226.89 55.85 L226.89 55.86 L226.88 55.88 L226.87 55.90 L226.86 55.91 L226.85 55.93 L226.84 55.94 L226.83 55.96 L226.82 55.98 L226.81 56.00 L226.80 56.01 L226.79 56.03 L226.78 56.05 L226.77 56.07 L226.76 56.09 L226.75 56.11 L226.74 56.13 L226.73 56.15 L226.72 56.17 L226.70 56.19 L226.69 56.21 L226.68 56.23 L226.67 56.25 L226.65 56.27 L226.64 56.30 L226.63 56.32 L226.61 56.34 L226.60 56.36 L226.59 56.39 L226.57 56.41 L226.56 56.43 L226.54 56.46 L226.53 56.48 L226.51 56.51 L226.50 56.53 L226.48 56.55 L226.47 56.58 L226.45 56.61 L226.43 56.63 L226.42 56.66 L226.40 56.68 L226.38 56.71 L226.36 56.74 L226.35 56.76 L226.33 56.79 L226.31 56.82 L226.29 56.85 L226.27 56.88 L226.25 56.90 L226.24 56.93 L226.22 56.96 L226.20 56.99 L226.18 57.02 L226.16 57.05 L226.13 57.08 L226.11 57.11 L226.09 57.14 L226.07 57.17 L226.05 57.20 L226.03 57.23 L226.00 57.27 L225.98 57.30 L225.96 57.33 L225.94 57.36 L225.91 57.39 L225.89 57.43 L225.86 57.46 L225.84 57.49 L225.82 57.53 L225.79 57.56 L225.77 57.59 L225.74 57.63 L225.71 57.66 L225.69 57.70 L225.66 57.73 L225.63 57.77 L225.61 57.80 L225.58 57.84 L225.55 57.88 L225.52 57.91 L225.50 57.95 L225.47 57.99 L225.44 58.02 L225.41 58.06 L225.38 58.10 L225.35 58.14 L225.32 58.17 L225.29 58.21 L225.26 58.25 L225.23 58.29 L225.20 58.33 L225.16 58.37 L225.13 58.41 L225.10 58.45 L225.07 58.49 L225.03 58.53 L225.00 58.57 L224.97 58.61 L224.93 58.65 L224.90 58.69 L224.86 58.73 L224.83 58.77 L224.79 58.81 L224.76 58.85 L224.72 58.90 L224.68 58.94 L224.65 58.98 L224.61 59.02 L224.57 59.07 L224.54 59.11 L224.50 59.15 L224.46 59.20 L224.42 59.24 L224.38 59.29 L224.34 59.33 L224.30 59.37 L224.26 59.42 L224.22 59.46 L224.18 59.51 L224.14 59.55 L224.09 59.60 L224.05 59.65 L224.01 59.69 L223.97 59.74 L223.92 59.78 L223.88 59.83 L223.84 59.88 L223.79 59.92 L223.75 59.97 L223.70 60.02 L223.65 60.07 L223.61 60.11 L223.56 60.16 L223.52 60.21 L223.47 60.26 L223.42 60.31 L223.37 60.36 L223.32 60.41 L223.28 60.46 L223.23 60.50 L223.18 60.55 L223.13 60.60 L223.08 60.65 L223.03 60.70 L222.97 60.75 L222.92 60.81 L222.87 60.86 L222.82 60.91 L222.76 60.96 L222.71 61.01 L222.66 61.06 L222.60 61.11 L222.55 61.16 L222.49 61.22 L222.44 61.27 L222.38 61.32 L222.33 61.37 L222.27 61.43 L222.21 61.48 L222.16 61.53 L222.10 61.59 L222.04 61.64 L221.98 61.69 L221.92 61.75 L221.86 61.80 L221.80 61.86 L221.74 61.91 L221.68 61.96 L221.62 62.02 L221.56 62.07 L221.49 62.13 L221.43 62.18 L221.37 62.24 L221.30 62.29 L221.24 62.35 L221.18 62.41 L221.11 62.46 L221.04 62.52 L220.98 62.57 L220.91 62.63 L220.84 62.69 L220.78 62.74 L220.71 62.80 L220.64 62.86 L220.57 62.92 L220.50 62.97 L220.43 63.03 L220.36 63.09 L220.29 63.15 L220.22 63.20 L220.15 63.26 L220.08 63.32 L220.00 63.38 L219.93 63.44 L219.86 63.50 L219.78 63.55 L219.71 63.61 L219.63 63.67 L219.56 63.73 L219.48 63.79 L219.41 63.85 L219.33 63.91 L219.25 63.97 L219.17 64.03 L219.09 64.09 L219.02 64.15 L218.94 64.21 L218.86 64.27 L218.78 64.33 L218.69 64.39 L218.61 64.45 L218.53 64.51 L218.45 64.57 L218.36 64.64 L218.28 64.70 L218.20 64.76 L218.11 64.82 L218.03 64.88 L217.94 64.94 L217.85 65.00 L217.77 65.07 L217.68 65.13 L217.59 65.19 L217.50 65.25 L217.41 65.32 L217.33 65.38 L217.23 65.44 L217.14 65.50 L217.05 65.57 L216.96 65.63 L216.87 65.69 L216.78 65.75 L216.68 65.82 L216.59 65.88 L216.49 65.94 L216.40 66.01 L216.30 66.07 L216.21 66.14 L216.11 66.20 L216.01 66.26 L215.92 66.33 L215.82 66.39 L215.72 66.45 L215.62 66.52 L215.52 66.58 L215.42 66.65 L215.32 66.71 L215.21 66.78 L215.11 66.84 L215.01 66.90 L214.91 66.97 L214.80 67.03 L214.70 67.10 L214.59 67.16 L214.49 67.23 L214.38 67.29 L214.27 67.36 L214.16 67.42 L214.06 67.49 L213.95 67.55 L213.84 67.62 L213.73 67.68 L213.62 67.75 L213.50 67.82 L213.39 67.88 L213.28 67.95 L213.17 68.01 L213.05 68.08 L212.94 68.14 L212.82 68.21 L212.71 68.27 L212.59 68.34 L212.47 68.41 L212.36 68.47 L212.24 68.54 L212.12 68.60 L212.00 68.67 L211.88 68.74 L211.76 68.80 L211.64 68.87 L211.52 68.93 L211.39 69.00 L211.27 69.07 L211.15 69.13 L211.02 69.20 L210.90 69.26 L210.77 69.33 L210.65 69.40 L210.52 69.46 L210.39 69.53 L210.26 69.59 L210.13 69.66 L210.00 69.73 L209.87 69.79 L209.74 69.86 L209.61 69.93 L209.48 69.99 L209.35 70.06 L209.21 70.12 L209.08 70.19 L208.94 70.26 L208.81 70.32 L208.67 70.39 L208.53 70.46 L208.40 70.52 L208.26 70.59 L208.12 70.65 L207.98 70.72 L207.84 70.79 L207.70 70.85 L207.56 70.92 L207.41 70.98 L207.27 71.05 L207.13 71.12 L206.98 71.18 L206.84 71.25 L206.69 71.31 L206.54 71.38 L206.40 71.44 L206.25 71.51 L206.10 71.58 L205.95 71.64 L205.80 71.71 L205.65 71.77 L205.50 71.84 L205.35 71.90 L205.19 71.97 L205.04 72.03 L204.89 72.10 L204.73 72.16 L204.58 72.23 L204.42 72.29 L204.26 72.36 L204.11 72.42 L203.95 72.49 L203.79 72.55 L203.63 72.62 L203.47 72.68 L203.31 72.74 L203.14 72.81 L202.98 72.87 L202.82 72.94 L202.65 73.00 L202.49 73.06 L202.32 73.13 L202.16 73.19 L201.99 73.26 L201.82 73.32 L201.65 73.38 L201.48 73.45 L201.31 73.51 L201.14 73.57 L200.97 73.63 L200.80 73.70 L200.62 73.76 L200.45 73.82 L200.28 73.88 L200.10 73.95 L199.93 74.01 L199.75 74.07 L199.57 74.13 L199.39 74.19 L199.21 74.25 L199.03 74.32 L198.85 74.38 L198.67 74.44 L198.49 74.50 L198.31 74.56 L198.13 74.62 L197.94 74.68 L197.76 74.74 L197.57 74.80 L197.38 74.86 L197.20 74.92 L197.01 74.98 L196.82 75.04 L196.63 75.10 L196.44 75.16 L196.25 75.22 L196.06 75.27 L195.87 75.33 L195.68 75.39 L195.48 75.45 L195.29 75.51 L195.09 75.56 L194.90 75.62 L194.70 75.68 L194.50 75.74 L194.30 75.79 L194.11 75.85 L193.91 75.91 L193.71 75.96 L193.50 76.02 L193.30 76.07 L193.10 76.13 L192.90 76.18 L192.69 76.24 L192.49 76.29 L192.28 76.35 L192.08 76.40 L191.87 76.46 L191.66 76.51 L191.46 76.56 L191.25 76.62 L191.04 76.67 L190.83 76.72 L190.62 76.77 L190.40 76.83 L190.19 76.88 L189.98 76.93 L189.76 76.98 L189.55 77.03 L189.33 77.08 L189.12 77.13 L188.90 77.18 L188.68 77.23 L188.47 77.28 L188.25 77.33 L188.03 77.38 L187.81 77.43 L187.59 77.48 L187.37 77.52 L187.14 77.57 L186.92 77.62 L186.70 77.67 L186.47 77.71 L186.25 77.76 L186.02 77.80 L185.80 77.85 L185.57 77.90 L185.34 77.94 L185.12 77.99 L184.89 78.03 L184.66 78.07 L184.43 78.12 L184.20 78.16 L183.97 78.20 L183.74 78.25 L183.50 78.29 L183.27 78.33 L183.04 78.37 L182.80 78.41 L182.57 78.45 L182.33 78.49 L182.10 78.53 L181.86 78.57 L181.63 78.61 L181.39 78.65 L181.15 78.69 L180.91 78.73 L180.67 78.76 L180.43 78.80 L180.19 78.84 L179.95 78.87 L179.71 78.91 L179.47 78.94 L179.23 78.98 L178.98 79.01 L178.74 79.05 L178.50 79.08 L178.25 79.12 L178.01 79.15 L177.76 79.18 L177.52 79.21 L177.27 79.24 L177.03 79.28 L176.78 79.31 L176.53 79.34 L176.28 79.37 L176.04 79.40 L175.79 79.42 L175.54 79.45 L175.29 79.48 L175.04 79.51 L174.79 79.54 L174.54 79.56 L174.29 79.59 L174.04 79.61 L173.79 79.64 L173.53 79.66 L173.28 79.69 L173.03 79.71 L172.78 79.74 L172.52 79.76 L172.27 79.78 L172.02 79.80 L171.76 79.82 L171.51 79.84 L171.25 79.87 L171.00 79.89 L170.74 79.90 L170.49 79.92 L170.23 79.94 L169.98 79.96 L169.72 79.98 L169.47 79.99 L169.21 80.01 L168.96 80.03 L168.70 80.04 L168.44 80.06 L168.19 80.07 L167.93 80.09 L167.67 80.10 L167.42 80.11 L167.16 80.13 L166.90 80.14 L166.65 80.15 L166.39 80.16 L166.13 80.17 L165.87 80.18 L165.62 80.19 L165.36 80.20 L165.10 80.21 L164.85 80.21 L164.59 80.22 L164.33 80.23 L164.07 80.24 L163.82 80.24 L163.56 80.25 L163.30 80.25 L163.05 80.26 L162.79 80.26 L162.53 80.26 L162.28 80.27 L162.02 80.27 L161.77 80.27 L161.51 80.27 L161.25 80.27 L161.00 80.27 M161.00 155.13 L161.25 155.13 L161.51 155.13 L161.77 155.13 L162.02 155.13 L162.28 155.13 L162.53 155.14 L162.79 155.14 L163.05 155.14 L163.30 155.15 L163.56 155.15 L163.82 155.16 L164.07 155.16 L164.33 155.17 L164.59 155.18 L164.85 155.19 L165.10 155.19 L165.36 155.20 L165.62 155.21 L165.87 155.22 L166.13 155.23 L166.39 155.24 L166.65 155.25 L166.90 155.26 L167.16 155.27 L167.42 155.29 L167.67 155.30 L167.93 155.31 L168.19 155.33 L168.44 155.34 L168.70 155.36 L168.96 155.37 L169.21 155.39 L169.47 155.41 L169.72 155.42 L169.98 155.44 L170.23 155.46 L170.49 155.48 L170.74 155.50 L171.00 155.51 L171.25 155.53 L171.51 155.56 L171.76 155.58 L172.02 155.60 L172.27 155.62 L172.52 155.64 L172.78 155.66 L173.03 155.69 L173.28 155.71 L173.53 155.74 L173.79 155.76 L174.04 155.79 L174.29 155.81 L174.54 155.84 L174.79 155.86 L175.04 155.89 L175.29 155.92 L175.54 155.95 L175.79 155.98 L176.04 156.00 L176.28 156.03 L176.53 156.06 L176.78 156.09 L177.03 156.12 L177.27 156.16 L177.52 156.19 L177.76 156.22 L178.01 156.25 L178.25 156.28 L178.50 156.32 L178.74 156.35 L178.98 156.39 L179.23 156.42 L179.47 156.46 L179.71 156.49 L179.95 156.53 L180.19 156.56 L180.43 156.60 L180.67 156.64 L180.91 156.67 L181.15 156.71 L181.39 156.75 L181.63 156.79 L181.86 156.83 L182.10 156.87 L182.33 156.91 L182.57 156.95 L182.80 156.99 L183.04 157.03 L183.27 157.07 L183.50 157.11 L183.74 157.15 L183.97 157.20 L184.20 157.24 L184.43 157.28 L184.66 157.33 L184.89 157.37 L185.12 157.41 L185.34 157.46 L185.57 157.50 L185.80 157.55 L186.02 157.60 L186.25 157.64 L186.47 157.69 L186.70 157.73 L186.92 157.78 L187.14 157.83 L187.37 157.88 L187.59 157.92 L187.81 157.97 L188.03 158.02 L188.25 158.07 L188.47 158.12 L188.68 158.17 L188.90 158.22 L189.12 158.27 L189.33 158.32 L189.55 158.37 L189.76 158.42 L189.98 158.47 L190.19 158.52 L190.40 158.57 L190.62 158.63 L190.83 158.68 L191.04 158.73 L191.25 158.78 L191.46 158.84 L191.66 158.89 L191.87 158.94 L192.08 159.00 L192.28 159.05 L192.49 159.11 L192.69 159.16 L192.90 159.22 L193.10 159.27 L193.30 159.33 L193.50 159.38 L193.71 159.44 L193.91 159.49 L194.11 159.55 L194.30 159.61 L194.50 159.66 L194.70 159.72 L194.90 159.78 L195.09 159.84 L195.29 159.89 L195.48 159.95 L195.68 160.01 L195.87 160.07 L196.06 160.13 L196.25 160.18 L196.44 160.24 L196.63 160.30 L196.82 160.36 L197.01 160.42 L197.20 160.48 L197.38 160.54 L197.57 160.60 L197.76 160.66 L197.94 160.72 L198.13 160.78 L198.31 160.84 L198.49 160.90 L198.67 160.96 L198.85 161.02 L199.03 161.08 L199.21 161.15 L199.39 161.21 L199.57 161.27 L199.75 161.33 L199.93 161.39 L200.10 161.45 L200.28 161.52 L200.45 161.58 L200.62 161.64 L200.80 161.70 L200.97 161.77 L201.14 161.83 L201.31 161.89 L201.48 161.95 L201.65 162.02 L201.82 162.08 L201.99 162.14 L202.16 162.21 L202.32 162.27 L202.49 162.34 L202.65 162.40 L202.82 162.46 L202.98 162.53 L203.14 162.59 L203.31 162.66 L203.47 162.72 L203.63 162.78 L203.79 162.85 L203.95 162.91 L204.11 162.98 L204.26 163.04 L204.42 163.11 L204.58 163.17 L204.73 163.24 L204.89 163.30 L205.04 163.37 L205.19 163.43 L205.35 163.50 L205.50 163.56 L205.65 163.63 L205.80 163.69 L205.95 163.76 L206.10 163.82 L206.25 163.89 L206.40 163.96 L206.54 164.02 L206.69 164.09 L206.84 164.15 L206.98 164.22 L207.13 164.28 L207.27 164.35 L207.41 164.42 L207.56 164.48 L207.70 164.55 L207.84 164.61 L207.98 164.68 L208.12 164.75 L208.26 164.81 L208.40 164.88 L208.53 164.94 L208.67 165.01 L208.81 165.08 L208.94 165.14 L209.08 165.21 L209.21 165.28 L209.35 165.34 L209.48 165.41 L209.61 165.47 L209.74 165.54 L209.87 165.61 L210.00 165.67 L210.13 165.74 L210.26 165.81 L210.39 165.87 L210.52 165.94 L210.65 166.00 L210.77 166.07 L210.90 166.14 L211.02 166.20 L211.15 166.27 L211.27 166.33 L211.39 166.40 L211.52 166.47 L211.64 166.53 L211.76 166.60 L211.88 166.66 L212.00 166.73 L212.12 166.80 L212.24 166.86 L212.36 166.93 L212.47 166.99 L212.59 167.06 L212.71 167.13 L212.82 167.19 L212.94 167.26 L213.05 167.32 L213.17 167.39 L213.28 167.45 L213.39 167.52 L213.50 167.58 L213.62 167.65 L213.73 167.72 L213.84 167.78 L213.95 167.85 L214.06 167.91 L214.16 167.98 L214.27 168.04 L214.38 168.11 L214.49 168.17 L214.59 168.24 L214.70 168.30 L214.80 168.37 L214.91 168.43 L215.01 168.50 L215.11 168.56 L215.21 168.62 L215.32 168.69 L215.42 168.75 L215.52 168.82 L215.62 168.88 L215.72 168.95 L215.82 169.01 L215.92 169.07 L216.01 169.14 L216.11 169.20 L216.21 169.26 L216.30 169.33 L216.40 169.39 L216.49 169.46 L216.59 169.52 L216.68 169.58 L216.78 169.65 L216.87 169.71 L216.96 169.77 L217.05 169.83 L217.14 169.90 L217.23 169.96 L217.33 170.02 L217.41 170.08 L217.50 170.15 L217.59 170.21 L217.68 170.27 L217.77 170.33 L217.85 170.40 L217.94 170.46 L218.03 170.52 L218.11 170.58 L218.20 170.64 L218.28 170.70 L218.36 170.76 L218.45 170.83 L218.53 170.89 L218.61 170.95 L218.69 171.01 L218.78 171.07 L218.86 171.13 L218.94 171.19 L219.02 171.25 L219.09 171.31 L219.17 171.37 L219.25 171.43 L219.33 171.49 L219.41 171.55 L219.48 171.61 L219.56 171.67 L219.63 171.73 L219.71 171.79 L219.78 171.85 L219.86 171.90 L219.93 171.96 L220.00 172.02 L220.08 172.08 L220.15 172.14 L220.22 172.20 L220.29 172.25 L220.36 172.31 L220.43 172.37 L220.50 172.43 L220.57 172.48 L220.64 172.54 L220.71 172.60 L220.78 172.66 L220.84 172.71 L220.91 172.77 L220.98 172.83 L221.04 172.88 L221.11 172.94 L221.18 172.99 L221.24 173.05 L221.30 173.11 L221.37 173.16 L221.43 173.22 L221.49 173.27 L221.56 173.33 L221.62 173.38 L221.68 173.44 L221.74 173.49 L221.80 173.54 L221.86 173.60 L221.92 173.65 L221.98 173.71 L222.04 173.76 L222.10 173.81 L222.16 173.87 L222.21 173.92 L222.27 173.97 L222.33 174.03 L222.38 174.08 L222.44 174.13 L222.49 174.18 L222.55 174.24 L222.60 174.29 L222.66 174.34 L222.71 174.39 L222.76 174.44 L222.82 174.49 L222.87 174.54 L222.92 174.59 L222.97 174.65 L223.03 174.70 L223.08 174.75 L223.13 174.80 L223.18 174.85 L223.23 174.90 L223.28 174.94 L223.32 174.99 L223.37 175.04 L223.42 175.09 L223.47 175.14 L223.52 175.19 L223.56 175.24 L223.61 175.29 L223.65 175.33 L223.70 175.38 L223.75 175.43 L223.79 175.48 L223.84 175.52 L223.88 175.57 L223.92 175.62 L223.97 175.66 L224.01 175.71 L224.05 175.75 L224.09 175.80 L224.14 175.85 L224.18 175.89 L224.22 175.94 L224.26 175.98 L224.30 176.03 L224.34 176.07 L224.38 176.11 L224.42 176.16 L224.46 176.20 L224.50 176.25 L224.54 176.29 L224.57 176.33 L224.61 176.38 L224.65 176.42 L224.68 176.46 L224.72 176.50 L224.76 176.55 L224.79 176.59 L224.83 176.63 L224.86 176.67 L224.90 176.71 L224.93 176.75 L224.97 176.79 L225.00 176.83 L225.03 176.87 L225.07 176.91 L225.10 176.95 L225.13 176.99 L225.16 177.03 L225.20 177.07 L225.23 177.11 L225.26 177.15 L225.29 177.19 L225.32 177.23 L225.35 177.26 L225.38 177.30 L225.41 177.34 L225.44 177.38 L225.47 177.41 L225.50 177.45 L225.52 177.49 L225.55 177.52 L225.58 177.56 L225.61 177.60 L225.63 177.63 L225.66 177.67 L225.69 177.70 L225.71 177.74 L225.74 177.77 L225.77 177.81 L225.79 177.84 L225.82 177.87 L225.84 177.91 L225.86 177.94 L225.89 177.97 L225.91 178.01 L225.94 178.04 L225.96 178.07 L225.98 178.10 L226.00 178.13 L226.03 178.17 L226.05 178.20 L226.07 178.23 L226.09 178.26 L226.11 178.29 L226.13 178.32 L226.16 178.35 L226.18 178.38 L226.20 178.41 L226.22 178.44 L226.24 178.47 L226.25 178.50 L226.27 178.52 L226.29 178.55 L226.31 178.58 L226.33 178.61 L226.35 178.64 L226.36 178.66 L226.38 178.69 L226.40 178.72 L226.42 178.74 L226.43 178.77 L226.45 178.79 L226.47 178.82 L226.48 178.85 L226.50 178.87 L226.51 178.89 L226.53 178.92 L226.54 178.94 L226.56 178.97 L226.57 178.99 L226.59 179.01 L226.60 179.04 L226.61 179.06 L226.63 179.08 L226.64 179.10 L226.65 179.13 L226.67 179.15 L226.68 179.17 L226.69 179.19 L226.70 179.21 L226.72 179.23 L226.73 179.25 L226.74 179.27 L226.75 179.29 L226.76 179.31 L226.77 179.33 L226.78 179.35 L226.79 179.37 L226.80 179.39 L226.81 179.40 L226.82 179.42 L226.83 179.44 L226.84 179.46 L226.85 179.47 L226.86 179.49 L226.87 179.50 L226.88 179.52 L226.89 179.54 L226.89 179.55 L226.90 179.57 L226.91 179.58 L226.92 179.60 L226.93 179.61 L226.93 179.62 L226.94 179.64 L226.95 179.65 L226.95 179.66 L226.96 179.68 L226.97 179.69 L226.97 179.70 L226.98 179.71 L226.98 179.72 L226.99 179.73 L226.99 179.75 L227.00 179.76 L227.00 179.77 L227.01 179.78 L227.01 179.79 L227.02 179.80 L227.02 179.80 L227.03 179.81 L227.03 179.82 L227.03 179.83 L227.04 179.84 L227.04 179.84 L227.04 179.85 L227.05 179.86 L227.05 179.87 L227.05 179.87 L227.06 179.88 L227.06 179.88 L227.06 179.89 L227.06 179.89 L227.07 179.90 L227.07 179.90 L227.07 179.91 L227.07 179.91 L227.07 179.91 L227.07 179.92 L227.07 179.92 L227.08 179.92 L227.08 179.92 L227.08 179.93 L227.08 179.93 L227.08 179.93 L227.08 179.93 L227.08 179.93 L227.08 179.93 L227.08 179.93 L227.08 179.93 L227.08 179.93 L227.08 179.93 L227.08 179.93 L227.08 179.93 L227.08 179.92 L227.08 179.92 L227.07 179.92 L227.07 179.92 L227.07 179.91 L227.07 179.91 L227.07 179.90 L227.07 179.90 L227.07 179.90 L227.06 179.89 L227.06 179.89 L227.06 179.88 L227.06 179.87 L227.06 179.87 L227.05 179.86 L227.05 179.85 L227.05 179.85 L227.05 179.84 L227.04 179.83 L227.04 179.82 L227.04 179.81 L227.03 179.81 L227.03 179.80 L227.03 179.79 L227.03 179.78 L227.02 179.77 L227.02 179.76 L227.02 179.75 L227.01 179.73 L227.01 179.72 L227.00 179.71 L227.00 179.70 L227.00 179.69 L226.99 179.67 L226.99 179.66 L226.98 179.65 L226.98 179.63 L226.98 179.62 L226.97 179.60 L226.97 179.59 L226.96 179.57 L226.96 179.56 L226.95 179.54 L226.95 179.52 L226.95 179.51 L226.94 179.49 L226.94 179.47 L226.93 179.46 L226.93 179.44 L226.92 179.42 L226.92 179.40 L226.91 179.38 L226.91 179.36 L226.90 179.34 L226.90 179.32 L226.89 179.30 L226.89 179.28 L226.88 179.26 L226.87 179.24 L226.87 179.22 L226.86 179.19 L226.86 179.17 L226.85 179.15 L226.85 179.12 L226.84 179.10 L226.84 179.08 L226.83 179.05 L226.83 179.03 L226.82 179.00 L226.81 178.98 L226.81 178.95 L226.80 178.92 L226.80 178.90 L226.79 178.87 L226.79 178.84 L226.78 178.82 L226.78 178.79 L226.77 178.76 L226.76 178.73 L226.76 178.70 L226.75 178.67 L226.75 178.64 L226.74 178.61 L226.74 178.58 L226.73 178.55 L226.72 178.52 L226.72 178.49 L226.71 178.46 L226.71 178.42 L226.70 178.39 L226.70 178.36 L226.69 178.33 L226.68 178.29 L226.68 178.26 L226.67 178.22 L226.67 178.19 L226.66 178.15 L226.66 178.12 L226.65 178.08 L226.65 178.05 L226.64 178.01 L226.64 177.97 L226.63 177.93 L226.62 177.90 L226.62 177.86 L226.61 177.82 L226.61 177.78 L226.60 177.74 L226.60 177.70 L226.59 177.66 L226.59 177.62 L226.58 177.58 L226.58 177.54 L226.57 177.50 L226.57 177.46 L226.56 177.42 L226.56 177.37 L226.55 177.33 L226.55 177.29 L226.54 177.24 L226.54 177.20 L226.54 177.15 L226.53 177.11 L226.53 177.06 L226.52 177.02 L226.52 176.97 L226.51 176.93 L226.51 176.88 L226.51 176.83 L226.50 176.79 L226.50 176.74 L226.49 176.69 L226.49 176.64 L226.49 176.59 L226.48 176.54 L226.48 176.49 L226.48 176.44 L226.47 176.39 L226.47 176.34 L226.47 176.29 L226.46 176.24 L226.46 176.19 L226.46 176.13 L226.46 176.08 L226.45 176.03 L226.45 175.98 L226.45 175.92 L226.45 175.87 L226.44 175.81 L226.44 175.76 L226.44 175.70 L226.44 175.65 L226.44 175.59 L226.43 175.53 L226.43 175.48 L226.43 175.42 L226.43 175.36 L226.43 175.30 L226.43 175.25 L226.43 175.19 L226.42 175.13 L226.42 175.07 L226.42 175.01 L226.42 174.95 L226.42 174.89 L226.42 174.83 L226.42 174.77 L226.42 174.70 L226.42 174.64 L226.42 174.58 L226.42 174.52 L226.42 174.45 L226.43 174.39 L226.43 174.32 L226.43 174.26 L226.43 174.20 L226.43 174.13 L226.43 174.06 L226.43 174.00 L226.43 173.93 L226.44 173.87 L226.44 173.80 L226.44 173.73 L226.44 173.66 L226.45 173.59 L226.45 173.53 L226.45 173.46 L226.46 173.39 L226.46 173.32 L226.46 173.25 L226.47 173.18 L226.47 173.10 L226.47 173.03 L226.48 172.96 L226.48 172.89 L226.49 172.82 L226.49 172.74 L226.50 172.67 L226.50 172.60 L226.51 172.52 L226.51 172.45 L226.52 172.37 L226.52 172.30 L226.53 172.22 L226.54 172.15 L226.54 172.07 L226.55 171.99 L226.56 171.92 L226.56 171.84 L226.57 171.76 L226.58 171.68 L226.59 171.60 L226.59 171.52 L226.60 171.45 L226.61 171.37 L226.62 171.29 L226.63 171.20 L226.64 171.12 L226.65 171.04 L226.66 170.96 L226.67 170.88 L226.68 170.80 L226.69 170.71 L226.70 170.63 L226.71 170.55 L226.72 170.46 L226.73 170.38 L226.74 170.29 L226.75 170.21 L226.77 170.12 L226.78 170.04 L226.79 169.95 L226.80 169.86 L226.82 169.78 L226.83 169.69 L226.84 169.60 L226.86 169.51 L226.87 169.42 L226.88 169.33 L226.90 169.25 L226.91 169.16 L226.93 169.07 L226.94 168.97 L226.96 168.88 L226.97 168.79 L226.99 168.70 L227.01 168.61 L227.02 168.52 L227.04 168.42 L227.06 168.33 L227.08 168.24 L227.09 168.14 L227.11 168.05 L227.13 167.95 L227.15 167.86 L227.17 167.76 L227.19 167.67 L227.21 167.57 L227.23 167.48 L227.25 167.38 L227.27 167.28 L227.29 167.19 L227.31 167.09 L227.33 166.99 L227.35 166.89 L227.37 166.79 L227.39 166.69 L227.42 166.59 L227.44 166.49 L227.46 166.39 L227.49 166.29 L227.51 166.19 L227.53 166.09 L227.56 165.99 L227.58 165.88 L227.61 165.78 L227.63 165.68 L227.66 165.58 L227.69 165.47 L227.71 165.37 L227.74 165.26 L227.77 165.16 L227.79 165.05 L227.82 164.95 L227.85 164.84 L227.88 164.74 L227.91 164.63 L227.94 164.52 L227.97 164.42 L228.00 164.31 L228.03 164.20 L228.06 164.09 L228.09 163.98 L228.12 163.88 L228.15 163.77 L228.18 163.66 L228.21 163.55 L228.25 163.44 L228.28 163.33 L228.31 163.22 L228.35 163.10 L228.38 162.99 L228.42 162.88 L228.45 162.77 L228.49 162.66 L228.52 162.54 L228.56 162.43 L228.59 162.32 L228.63 162.20 L228.67 162.09 L228.71 161.98 L228.74 161.86 L228.78 161.75 L228.82 161.63 L228.86 161.51 L228.90 161.40 L228.94 161.28 L228.98 161.17 L229.02 161.05 L229.06 160.93 L229.10 160.81 L229.14 160.70 L229.19 160.58 L229.23 160.46 L229.27 160.34 L229.31 160.22 L229.36 160.10 L229.40 159.98 L229.45 159.86 L229.49 159.74 L229.54 159.62 L229.58 159.50 L229.63 159.38 L229.68 159.26 L229.72 159.14 L229.77 159.02 L229.82 158.90 L229.87 158.77 L229.92 158.65 L229.96 158.53 L230.01 158.41 L230.06 158.28 L230.11 158.16 L230.17 158.03 L230.22 157.91 L230.27 157.79 L230.32 157.66 L230.37 157.54 L230.43 157.41 L230.48 157.29 L230.53 157.16 L230.59 157.03 L230.64 156.91 L230.70 156.78 L230.75 156.66 L230.81 156.53 L230.86 156.40 L230.92 156.27 L230.98 156.15 L231.04 156.02 L231.09 155.89 L231.15 155.76 L231.21 155.64 L231.27 155.51 L231.33 155.38 L231.39 155.25 L231.45 155.12 L231.51 154.99 L231.57 154.86 L231.64 154.73 L231.70 154.60 L231.76 154.47 L231.82 154.34 L231.89 154.21 L231.95 154.08 L232.02 153.95 L232.08 153.82 L232.15 153.69 L232.21 153.56 L232.28 153.42 L232.35 153.29 L232.41 153.16 L232.48 153.03 L232.55 152.90 L232.62 152.77 L232.69 152.63 L232.76 152.50 L232.83 152.37 L232.90 152.23 L232.97 152.10 L233.04 151.97 L233.11 151.84 L233.18 151.70 L233.25 151.57 L233.33 151.44 L233.40 151.30 L233.47 151.17 L233.55 151.03 L233.62 150.90 L233.70 150.77 L233.77 150.63 L233.85 150.50 L233.93 150.36 L234.00 150.23 L234.08 150.10 L234.16 149.96 L234.24 149.83 L234.31 149.69 L234.39 149.56 L234.47 149.42 L234.55 149.29 L234.63 149.15 L234.71 149.02 L234.79 148.88 L234.88 148.75 L234.96 148.61 L235.04 148.48 L235.12 148.34 L235.21 148.21 L235.29 148.07 L235.37 147.94 L235.46 147.80 L235.54 147.67 L235.63 147.53 L235.71 147.40 L235.80 147.26 L235.89 147.12 L235.97 146.99 L236.06 146.85 L236.15 146.72 L236.24 146.58 L236.32 146.45 L236.41 146.31 L236.50 146.18 L236.59 146.04 L236.68 145.91 L236.77 145.77 L236.86 145.64 L236.95 145.50 L237.05 145.37 L237.14 145.23 L237.23 145.10 L237.32 144.96 L237.42 144.83 L237.51 144.70 L237.60 144.56 L237.70 144.43 L237.79 144.29 L237.89 144.16 L237.98 144.02 L238.08 143.89 L238.17 143.76 L238.27 143.62 L238.37 143.49 L238.46 143.36 L238.56 143.22 L238.66 143.09 L238.76 142.96 L238.86 142.82 L238.96 142.69 L239.05 142.56 L239.15 142.42 L239.25 142.29 L239.35 142.16 L239.45 142.03 L239.56 141.90 L239.66 141.76 L239.76 141.63 L239.86 141.50 L239.96 141.37 L240.06 141.24 L240.17 141.11 L240.27 140.98 L240.37 140.85 L240.48 140.72 L240.58 140.59 L240.68 140.46 L240.79 140.33 L240.89 140.20 L241.00 140.07 L241.10 139.94 L241.21 139.81 L241.32 139.68 L241.42 139.55 L241.53 139.42 L241.63 139.30 L241.74 139.17 L241.85 139.04 L241.96 138.91 L242.06 138.79 L242.17 138.66 L242.28 138.53 L242.39 138.41 L242.50 138.28 L242.61 138.16 L242.71 138.03 L242.82 137.90 L242.93 137.78 L243.04 137.66 L243.15 137.53 L243.26 137.41 L243.37 137.28 L243.48 137.16 L243.60 137.04 L243.71 136.91 L243.82 136.79 L243.93 136.67 L244.04 136.55 L244.15 136.43 L244.26 136.30 L244.38 136.18 L244.49 136.06 L244.60 135.94 L244.71 135.82 L244.83 135.70 L244.94 135.58 L245.05 135.46 L245.17 135.35 L245.28 135.23 L245.39 135.11 L245.51 134.99 L245.62 134.87 L245.73 134.76 L245.85 134.64 L245.96 134.52 L246.08 134.41 L246.19 134.29 L246.31 134.18 L246.42 134.06 L246.54 133.95 L246.65 133.83 L246.77 133.72 L246.88 133.61 L247.00 133.49 L247.11 133.38 L247.23 133.27 L247.34 133.16 L247.46 133.05 L247.57 132.94 L247.69 132.83 L247.81 132.72 L247.92 132.61 L248.04 132.50 L248.15 132.39 L248.27 132.28 L248.39 132.17 L248.50 132.06 L248.62 131.95 L248.74 131.85 L248.85 131.74 L248.97 131.64 L249.08 131.53 L249.20 131.42 L249.32 131.32 L249.43 131.21 L249.55 131.11 L249.67 131.01 L249.78 130.90 L249.90 130.80 L250.02 130.70 L250.13 130.60 L250.25 130.50 L250.37 130.39 L250.48 130.29 L250.60 130.19 L250.72 130.09 L250.83 129.99 L250.95 129.89 L251.07 129.80 L251.18 129.70 L251.30 129.60 L251.42 129.50 L251.53 129.41 L251.65 129.31 L251.76 129.21 L251.88 129.12 L252.00 129.02 L252.11 128.93 L252.23 128.84 L252.35 128.74 L252.46 128.65 L252.58 128.56 L252.69 128.46 L252.81 128.37 L252.92 128.28 L253.04 128.19 L253.16 128.10 L253.27 128.01 L253.39 127.92 L253.50 127.83 L253.62 127.74 L253.73 127.65 L253.85 127.57 L253.96 127.48 L254.08 127.39 L254.19 127.30 L254.31 127.22 L254.42 127.13 L254.53 127.05 L254.65 126.96 L254.76 126.88 L254.88 126.80 L254.99 126.71 L255.10 126.63 L255.22 126.55 L255.33 126.47 L255.44 126.38 L255.56 126.30 L255.67 126.22 L255.78 126.14 L255.90 126.06 L256.01 125.98 L256.12 125.91 L256.23 125.83 L256.34 125.75 L256.46 125.67 L256.57 125.60 L256.68 125.52 L256.79 125.44 L256.90 125.37 L257.01 125.29 L257.12 125.22 L257.23 125.14 L257.34 125.07 L257.46 125.00 L257.57 124.92 L257.68 124.85 L257.78 124.78 L257.89 124.71 L258.00 124.64 L258.11 124.57 L258.22 124.50 L258.33 124.43 L258.44 124.36 L258.55 124.29 L258.66 124.22 L258.76 124.15 L258.87 124.09 L258.98 124.02 L259.09 123.95 L259.19 123.89 L259.30 123.82 L259.41 123.75 L259.51 123.69 L259.62 123.63 L259.72 123.56 L259.83 123.50 L259.93 123.44 L260.04 123.37 L260.14 123.31 L260.25 123.25 L260.35 123.19 L260.46 123.13 L260.56 123.07 L260.66 123.01 L260.77 122.95 L260.87 122.89 L260.97 122.83 L261.08 122.77 L261.18 122.71 L261.28 122.66 L261.38 122.60 L261.48 122.54 L261.59 122.49 L261.69 122.43 L261.79 122.37 L261.89 122.32 L261.99 122.26 L262.09 122.21 L262.19 122.16 L262.29 122.10 L262.39 122.05 L262.48 122.00 L262.58 121.95 L262.68 121.89 L262.78 121.84 L262.88 121.79 L262.97 121.74 L263.07 121.69 L263.17 121.64 L263.26 121.59 L263.36 121.54 L263.45 121.50 L263.55 121.45 L263.65 121.40 L263.74 121.35 L263.83 121.31 L263.93 121.26 L264.02 121.21 L264.12 121.17 L264.21 121.12 L264.30 121.08 L264.40 121.03 L264.49 120.99 L264.58 120.95 L264.67 120.90 L264.76 120.86 L264.85 120.82 L264.94 120.78 L265.03 120.73 L265.12 120.69 L265.21 120.65 L265.30 120.61 L265.39 120.57 L265.48 120.53 L265.57 120.49 L265.66 120.45 L265.74 120.41 L265.83 120.37 L265.92 120.34 L266.01 120.30 L266.09 120.26 L266.18 120.22 L266.26 120.19 L266.35 120.15 L266.43 120.11 L266.52 120.08 L266.60 120.04 L266.69 120.01 L266.77 119.97 L266.85 119.94 L266.94 119.91 L267.02 119.87 L267.10 119.84 L267.18 119.81 L267.26 119.77 L267.34 119.74 L267.42 119.71 L267.50 119.68 L267.58 119.65 L267.66 119.62 L267.74 119.58 L267.82 119.55 L267.90 119.52 L267.98 119.49 L268.06 119.47 L268.13 119.44 L268.21 119.41 L268.29 119.38 L268.36 119.35 L268.44 119.32 L268.51 119.30 L268.59 119.27 L268.66 119.24 L268.74 119.22 L268.81 119.19 L268.89 119.16 L268.96 119.14 L269.03 119.11 L269.10 119.09 L269.18 119.06 L269.25 119.04 L269.32 119.01 L269.39 118.99 L269.46 118.97 L269.53 118.94 L269.60 118.92 L269.67 118.90 L269.74 118.88 L269.80 118.85 L269.87 118.83 L269.94 118.81 L270.01 118.79 L270.07 118.77 L270.14 118.75 L270.21 118.73 L270.27 118.71 L270.34 118.69 L270.40 118.67 L270.47 118.65 L270.53 118.63 L270.59 118.61 L270.66 118.59 L270.72 118.57 L270.78 118.55 L270.85 118.54 L270.91 118.52 L270.97 118.50 L271.03 118.48 L271.09 118.47 L271.15 118.45 L271.21 118.43 L271.27 118.42 L271.33 118.40 L271.38 118.39 L271.44 118.37 L271.50 118.36 L271.56 118.34 L271.61 118.33 L271.67 118.31 L271.73 118.30 L271.78 118.28 L271.84 118.27 L271.89 118.26 L271.94 118.24 L272.00 118.23 L272.05 118.22 L272.10 118.20 L272.16 118.19 L272.21 118.18 L272.26 118.17 L272.31 118.15 L272.36 118.14 L272.41 118.13 L272.46 118.12 L272.51 118.11 L272.56 118.10 L272.61 118.09 L272.66 118.08 L272.71 118.07 L272.75 118.06 L272.80 118.05 L272.85 118.04 L272.89 118.03 L272.94 118.02 L272.98 118.01 L273.03 118.00 L273.07 117.99 L273.12 117.98 L273.16 117.97 L273.20 117.96 L273.25 117.96 L273.29 117.95 L273.33 117.94 L273.37 117.93 L273.41 117.92 L273.45 117.92 L273.49 117.91 L273.53 117.90 L273.57 117.90 L273.61 117.89 L273.65 117.88 L273.69 117.88 L273.72 117.87 L273.76 117.86 L273.80 117.86 L273.83 117.85 L273.87 117.85 L273.90 117.84 L273.94 117.84 L273.97 117.83 L274.01 117.83 L274.04 117.82 L274.07 117.82 L274.11 117.81 L274.14 117.81 L274.17 117.80 L274.20 117.80 L274.23 117.79 L274.26 117.79 L274.29 117.79 L274.32 117.78 L274.35 117.78 L274.38 117.77 L274.41 117.77 L274.43 117.77 L274.46 117.76 L274.49 117.76 L274.51 117.76 L274.54 117.76 L274.57 117.75 L274.59 117.75 L274.62 117.75 L274.64 117.74 L274.66 117.74 L274.69 117.74 L274.71 117.74 L274.73 117.74 L274.75 117.73 L274.77 117.73 L274.80 117.73 L274.82 117.73 L274.84 117.73 L274.86 117.72 L274.87 117.72 L274.89 117.72 L274.91 117.72 L274.93 117.72 L274.95 117.72 L274.96 117.72 L274.98 117.71 L275.00 117.71 L275.01 117.71 L275.03 117.71 L275.04 117.71 L275.06 117.71 L275.07 117.71 L275.08 117.71 L275.10 117.71 L275.11 117.71 L275.12 117.71 L275.13 117.70 L275.14 117.70 L275.15 117.70 L275.16 117.70 L275.17 117.70 L275.18 117.70 L275.19 117.70 L275.20 117.70 L275.21 117.70 L275.22 117.70 L275.22 117.70 L275.23 117.70 L275.24 117.70 L275.24 117.70 L275.25 117.70 L275.25 117.70 L275.26 117.70 L275.26 117.70 L275.26 117.70 L275.27 117.70 L275.27 117.70 L275.27 117.70 L275.27 117.70 L275.27 117.70 L275.27 117.70 L275.27 117.70 M161.00 80.27 L160.74 80.27 L160.49 80.27 L160.23 80.27 L159.98 80.27 L159.72 80.27 L159.47 80.26 L159.22 80.26 L158.96 80.26 L158.71 80.25 L158.46 80.25 L158.20 80.24 L157.95 80.24 L157.70 80.23 L157.45 80.22 L157.20 80.22 L156.95 80.21 L156.69 80.20 L156.44 80.19 L156.19 80.18 L155.95 80.17 L155.70 80.16 L155.45 80.15 L155.20 80.14 L154.95 80.13 L154.70 80.12 L154.46 80.10 L154.21 80.09 L153.97 80.08 L153.72 80.06 L153.48 80.05 L153.23 80.04 L152.99 80.02 L152.75 80.00 L152.50 79.99 L152.26 79.97 L152.02 79.95 L151.78 79.94 L151.54 79.92 L151.30 79.90 L151.06 79.88 L150.82 79.86 L150.59 79.84 L150.35 79.82 L150.11 79.80 L149.88 79.78 L149.64 79.76 L149.41 79.74 L149.17 79.72 L148.94 79.70 L148.71 79.67 L148.48 79.65 L148.25 79.63 L148.02 79.60 L147.79 79.58 L147.56 79.55 L147.33 79.53 L147.11 79.50 L146.88 79.48 L146.65 79.45 L146.43 79.42 L146.21 79.40 L145.98 79.37 L145.76 79.34 L145.54 79.31 L145.32 79.28 L145.10 79.26 L144.88 79.23 L144.66 79.20 L144.45 79.17 L144.23 79.14 L144.02 79.11 L143.80 79.08 L143.59 79.05 L143.37 79.02 L143.16 78.98 L142.95 78.95 L142.74 78.92 L142.53 78.89 L142.33 78.86 L142.12 78.82 L141.91 78.79 L141.71 78.76 L141.50 78.72 L141.30 78.69 L141.10 78.65 L140.90 78.62 L140.70 78.58 L140.50 78.55 L140.30 78.51 L140.10 78.48 L139.90 78.44 L139.71 78.41 L139.51 78.37 L139.32 78.34 L139.13 78.30 L138.94 78.26 L138.74 78.23 L138.56 78.19 L138.37 78.15 L138.18 78.11 L137.99 78.08 L137.81 78.04 L137.62 78.00 L137.44 77.96 L137.26 77.92 L137.08 77.89 L136.90 77.85 L136.72 77.81 L136.54 77.77 L136.36 77.73 L136.19 77.69 L136.01 77.65 L135.84 77.61 L135.66 77.57 L135.49 77.53 L135.32 77.49 L135.15 77.45 L134.98 77.41 L134.81 77.37 L134.65 77.33 L134.48 77.29 L134.32 77.25 L134.16 77.21 L133.99 77.17 L133.83 77.13 L133.67 77.09 L133.51 77.05 L133.36 77.01 L133.20 76.97 L133.04 76.93 L132.89 76.88 L132.73 76.84 L132.58 76.80 L132.43 76.76 L132.28 76.72 L132.13 76.68 L131.98 76.64 L131.84 76.60 L131.69 76.56 L131.55 76.51 L131.40 76.47 L131.26 76.43 L131.12 76.39 L130.98 76.35 L130.84 76.31 L130.70 76.27 L130.56 76.23 L130.43 76.19 L130.29 76.15 L130.16 76.10 L130.02 76.06 L129.89 76.02 L129.76 75.98 L129.63 75.94 L129.50 75.90 L129.38 75.86 L129.25 75.82 L129.13 75.78 L129.00 75.74 L128.88 75.70 L128.76 75.66 L128.64 75.62 L128.52 75.58 L128.40 75.54 L128.28 75.50 L128.16 75.46 L128.05 75.42 L127.93 75.38 L127.82 75.34 L127.71 75.30 L127.60 75.26 L127.49 75.22 L127.38 75.18 L127.27 75.14 L127.16 75.10 L127.06 75.07 L126.95 75.03 L126.85 74.99 L126.75 74.95 L126.64 74.91 L126.54 74.88 L126.44 74.84 L126.35 74.80 L126.25 74.76 L126.15 74.73 L126.06 74.69 L125.96 74.65 L125.87 74.62 L125.78 74.58 L125.69 74.54 L125.60 74.51 L125.51 74.47 L125.42 74.44 L125.33 74.40 L125.25 74.37 L125.16 74.33 L125.08 74.30 L125.00 74.26 L124.91 74.23 L124.83 74.20 L124.75 74.16 L124.67 74.13 L124.60 74.10 L124.52 74.06 L124.44 74.03 L124.37 74.00 L124.30 73.97 L124.22 73.93 L124.15 73.90 L124.08 73.87 L124.01 73.84 L123.94 73.81 L123.88 73.78 L123.81 73.75 L123.74 73.72 L123.68 73.69 L123.61 73.66 L123.55 73.63 L123.49 73.60 L123.43 73.57 L123.37 73.54 L123.31 73.52 L123.25 73.49 L123.19 73.46 L123.14 73.43 L123.08 73.41 L123.03 73.38 L122.98 73.36 L122.92 73.33 L122.87 73.30 L122.82 73.28 L122.77 73.26 L122.72 73.23 L122.68 73.21 L122.63 73.18 L122.58 73.16 L122.54 73.14 L122.50 73.11 L122.45 73.09 L122.41 73.07 L122.37 73.05 L122.33 73.03 L122.29 73.01 L122.25 72.99 L122.21 72.97 L122.18 72.95 L122.14 72.93 L122.11 72.91 L122.07 72.89 L122.04 72.87 L122.01 72.85 L121.97 72.84 L121.94 72.82 L121.91 72.80 L121.88 72.79 L121.86 72.77 L121.83 72.76 L121.80 72.74 L121.78 72.73 L121.75 72.71 L121.73 72.70 L121.71 72.69 L121.68 72.67 L121.66 72.66 L121.64 72.65 L121.62 72.64 L121.60 72.63 L121.59 72.62 L121.57 72.61 L121.55 72.60 L121.54 72.59 L121.52 72.58 L121.51 72.57 L121.49 72.56 L121.48 72.55 L121.47 72.55 L121.46 72.54 L121.45 72.53 L121.44 72.53 L121.43 72.52 L121.42 72.52 L121.42 72.51 L121.41 72.51 L121.41 72.51 L121.40 72.50 L121.40 72.50 L121.39 72.50 L121.39 72.50 L121.39 72.50 L121.39 72.49 L121.39 72.49 L121.39 72.49 L121.39 72.50 L121.39 72.50 L121.39 72.50 L121.40 72.50 L121.40 72.50 L121.40 72.51 L121.41 72.51 L121.42 72.51 L121.42 72.52 L121.43 72.52 L121.44 72.53 L121.45 72.53 L121.46 72.54 L121.47 72.55 L121.48 72.56 L121.49 72.56 L121.50 72.57 L121.51 72.58 L121.53 72.59 L121.54 72.60 L121.55 72.61 L121.57 72.62 L121.59 72.63 L121.60 72.65 L121.62 72.66 L121.64 72.67 L121.66 72.69 L121.67 72.70 L121.69 72.71 L121.71 72.73 L121.73 72.75 L121.76 72.76 L121.78 72.78 L121.80 72.80 L121.82 72.81 L121.85 72.83 L121.87 72.85 L121.90 72.87 L121.92 72.89 L121.95 72.91 L121.97 72.93 L122.00 72.95 L122.03 72.97 L122.05 73.00 L122.08 73.02 L122.11 73.04 L122.14 73.07 L122.17 73.09 L122.20 73.12 L122.23 73.14 L122.26 73.17 L122.30 73.19 L122.33 73.22 L122.36 73.25 L122.40 73.28 L122.43 73.30 L122.46 73.33 L122.50 73.36 L122.53 73.39 L122.57 73.42 L122.61 73.45 L122.64 73.49 L122.68 73.52 L122.72 73.55 L122.76 73.58 L122.79 73.62 L122.83 73.65 L122.87 73.69 L122.91 73.72 L122.95 73.76 L122.99 73.79 L123.03 73.83 L123.07 73.87 L123.12 73.91 L123.16 73.94 L123.20 73.98 L123.24 74.02 L123.29 74.06 L123.33 74.10 L123.37 74.14 L123.42 74.19 L123.46 74.23 L123.51 74.27 L123.55 74.31 L123.60 74.36 L123.64 74.40 L123.69 74.44 L123.74 74.49 L123.78 74.53 L123.83 74.58 L123.88 74.63 L123.93 74.67 L123.97 74.72 L124.02 74.77 L124.07 74.82 L124.12 74.86 L124.17 74.91 L124.22 74.96 L124.27 75.01 L124.32 75.06 L124.37 75.12 L124.42 75.17 L124.47 75.22 L124.52 75.27 L124.57 75.32 L124.62 75.38 L124.67 75.43 L124.73 75.49 L124.78 75.54 L124.83 75.60 L124.88 75.65 L124.94 75.71 L124.99 75.76 L125.04 75.82 L125.10 75.88 L125.15 75.94 L125.20 76.00 L125.26 76.05 L125.31 76.11 L125.36 76.17 L125.42 76.23 L125.47 76.29 L125.53 76.35 L125.58 76.42 L125.64 76.48 L125.69 76.54 L125.75 76.60 L125.80 76.67 L125.86 76.73 L125.91 76.79 L125.97 76.86 L126.03 76.92 L126.08 76.99 L126.14 77.05 L126.19 77.12 L126.25 77.18 L126.31 77.25 L126.36 77.32 L126.42 77.39 L126.47 77.45 L126.53 77.52 L126.59 77.59 L126.64 77.66 L126.70 77.73 L126.76 77.80 L126.81 77.87 L126.87 77.94 L126.93 78.01 L126.98 78.08 L127.04 78.15 L127.10 78.22 L127.16 78.29 L127.21 78.37 L127.27 78.44 L127.33 78.51 L127.38 78.58 L127.44 78.66 L127.50 78.73 L127.55 78.81 L127.61 78.88 L127.67 78.96 L127.73 79.03 L127.78 79.11 L127.84 79.18 L127.90 79.26 L127.95 79.33 L128.01 79.41 L128.07 79.49 L128.12 79.57 L128.18 79.64 L128.24 79.72 L128.29 79.80 L128.35 79.88 L128.40 79.96 L128.46 80.03 L128.52 80.11 L128.57 80.19 L128.63 80.27 L128.69 80.35 L128.74 80.43 L128.80 80.51 L128.85 80.59 L128.91 80.67 L128.96 80.75 L129.02 80.84 L129.07 80.92 L129.13 81.00 L129.18 81.08 L129.24 81.16 L129.29 81.24 L129.35 81.33 L129.40 81.41 L129.46 81.49 L129.51 81.58 L129.57 81.66 L129.62 81.74 L129.67 81.83 L129.73 81.91 L129.78 81.99 L129.84 82.08 L129.89 82.16 L129.94 82.25 L129.99 82.33 L130.05 82.41 L130.10 82.50 L130.15 82.58 L130.21 82.67 L130.26 82.76 L130.31 82.84 L130.36 82.93 L130.41 83.01 L130.46 83.10 L130.52 83.18 L130.57 83.27 L130.62 83.36 L130.67 83.44 L130.72 83.53 L130.77 83.61 L130.82 83.70 L130.87 83.79 L130.92 83.88 L130.97 83.96 L131.02 84.05 L131.07 84.14 L131.12 84.22 L131.17 84.31 L131.22 84.40 L131.26 84.49 L131.31 84.57 L131.36 84.66 L131.41 84.75 L131.46 84.84 L131.50 84.92 L131.55 85.01 L131.60 85.10 L131.64 85.19 L131.69 85.27 L131.74 85.36 L131.78 85.45 L131.83 85.54 L131.87 85.63 L131.92 85.71 L131.97 85.80 L132.01 85.89 L132.06 85.98 L132.10 86.07 L132.14 86.16 L132.19 86.24 L132.23 86.33 L132.28 86.42 L132.32 86.51 L132.36 86.60 L132.40 86.69 L132.45 86.77 L132.49 86.86 L132.53 86.95 L132.57 87.04 L132.62 87.13 L132.66 87.22 L132.70 87.30 L132.74 87.39 L132.78 87.48 L132.82 87.57 L132.86 87.66 L132.90 87.74 L132.94 87.83 L132.98 87.92 L133.02 88.01 L133.06 88.10 L133.10 88.19 L133.14 88.27 L133.17 88.36 L133.21 88.45 L133.25 88.54 L133.29 88.62 L133.33 88.71 L133.36 88.80 L133.40 88.89 L133.44 88.98 L133.47 89.06 L133.51 89.15 L133.54 89.24 L133.58 89.32 L133.61 89.41 L133.65 89.50 L133.68 89.59 L133.72 89.67 L133.75 89.76 L133.79 89.85 L133.82 89.93 L133.85 90.02 L133.89 90.11 L133.92 90.19 L133.95 90.28 L133.99 90.37 L134.02 90.45 L134.05 90.54 L134.08 90.63 L134.11 90.71 L134.15 90.80 L134.18 90.88 L134.21 90.97 L134.24 91.05 L134.27 91.14 L134.30 91.23 L134.33 91.31 L134.36 91.40 L134.39 91.48 L134.42 91.57 L134.45 91.65 L134.47 91.74 L134.50 91.82 L134.53 91.90 L134.56 91.99 L134.59 92.07 L134.61 92.16 L134.64 92.24 L134.67 92.33 L134.69 92.41 L134.72 92.49 L134.75 92.58 L134.77 92.66 L134.80 92.74 L134.82 92.83 L134.85 92.91 L134.87 92.99 L134.90 93.08 L134.92 93.16 L134.95 93.24 L134.97 93.32 L135.00 93.41 L135.02 93.49 L135.04 93.57 L135.07 93.65 L135.09 93.73 L135.11 93.82 L135.13 93.90 L135.16 93.98 L135.18 94.06 L135.20 94.14 L135.22 94.22 L135.24 94.30 L135.26 94.38 L135.28 94.46 L135.31 94.54 L135.33 94.62 L135.35 94.70 L135.37 94.78 L135.39 94.86 L135.41 94.94 L135.42 95.02 L135.44 95.10 L135.46 95.18 L135.48 95.26 L135.50 95.34 L135.52 95.42 L135.54 95.50 L135.55 95.58 L135.57 95.65 L135.59 95.73 L135.61 95.81 L135.62 95.89 L135.64 95.97 L135.65 96.04 L135.67 96.12 L135.69 96.20 L135.70 96.27 L135.72 96.35 L135.73 96.43 L135.75 96.50 L135.76 96.58 L135.78 96.66 L135.79 96.73 L135.81 96.81 L135.82 96.88 L135.84 96.96 L135.85 97.04 L135.86 97.11 L135.88 97.19 L135.89 97.26 L135.90 97.34 L135.92 97.41 L135.93 97.48 L135.94 97.56 L135.95 97.63 L135.96 97.71 L135.98 97.78 L135.99 97.85 L136.00 97.93 L136.01 98.00 L136.02 98.07 L136.03 98.15 L136.04 98.22 L136.05 98.29 L136.06 98.36 L136.07 98.44 L136.08 98.51 L136.09 98.58 L136.10 98.65 L136.11 98.72 L136.12 98.80 L136.13 98.87 L136.14 98.94 L136.15 99.01 L136.16 99.08 L136.16 99.15 L136.17 99.22 L136.18 99.29 L136.19 99.36 L136.20 99.43 L136.20 99.50 L136.21 99.57 L136.22 99.64 L136.22 99.71 L136.23 99.78 L136.24 99.85 L136.24 99.91 L136.25 99.98 L136.26 100.05 L136.26 100.12 L136.27 100.19 L136.27 100.26 L136.28 100.32 L136.28 100.39 L136.29 100.46 L136.29 100.53 L136.30 100.59 L136.30 100.66 L136.31 100.73 L136.31 100.79 L136.31 100.86 L136.32 100.92 L136.32 100.99 L136.33 101.06 L136.33 101.12 L136.33 101.19 L136.34 101.25 L136.34 101.32 L136.34 101.38 L136.34 101.45 L136.35 101.51 L136.35 101.58 L136.35 101.64 L136.35 101.70 L136.36 101.77 L136.36 101.83 L136.36 101.90 L136.36 101.96 L136.36 102.02 L136.36 102.09 L136.36 102.15 L136.36 102.21 L136.37 102.27 L136.37 102.34 L136.37 102.40 L136.37 102.46 L136.37 102.52 L136.37 102.58 L136.37 102.65 L136.37 102.71 L136.37 102.77 L136.37 102.83 L136.37 102.89 L136.36 102.95 L136.36 103.01 L136.36 103.07 L136.36 103.13 L136.36 103.19 L136.36 103.25 L136.36 103.31 L136.36 103.37 L136.35 103.43 L136.35 103.49 L136.35 103.55 L136.35 103.61 L136.35 103.67 L136.34 103.72 L136.34 103.78 L136.34 103.84 L136.34 103.90 L136.33 103.96 L136.33 104.01 L136.33 104.07 L136.32 104.13 L136.32 104.19 L136.32 104.24 L136.31 104.30 L136.31 104.36 L136.30 104.41 L136.30 104.47 L136.30 104.53 L136.29 104.58 L136.29 104.64 L136.28 104.69 L136.28 104.75 L136.27 104.81 L136.27 104.86 L136.27 104.92 L136.26 104.97 L136.26 105.03 L136.25 105.08 L136.24 105.13 L136.24 105.19 L136.23 105.24 L136.23 105.30 L136.22 105.35 L136.22 105.40 L136.21 105.46 L136.21 105.51 L136.20 105.56 L136.19 105.62 L136.19 105.67 L136.18 105.72 L136.17 105.78 L136.17 105.83 L136.16 105.88 L136.15 105.93 L136.15 105.98 L136.14 106.04 L136.13 106.09 L136.13 106.14 L136.12 106.19 L136.11 106.24 L136.10 106.29 L136.10 106.34 L136.09 106.39 L136.08 106.44 L136.07 106.50 L136.06 106.55 L136.06 106.60 L136.05 106.65 L136.04 106.70 L136.03 106.74 L136.02 106.79 L136.02 106.84 L136.01 106.89 L136.00 106.94 L135.99 106.99 L135.98 107.04 L135.97 107.09 L135.96 107.14 L135.95 107.18 L135.95 107.23 L135.94 107.28 L135.93 107.33 L135.92 107.38 L135.91 107.42 L135.90 107.47 L135.89 107.52 L135.88 107.56 L135.87 107.61 L135.86 107.66 L135.85 107.70 L135.84 107.75 L135.83 107.80 L135.82 107.84 L135.81 107.89 L135.80 107.94 L135.79 107.98 L135.78 108.03 L135.77 108.07 L135.76 108.12 L135.75 108.16 L135.74 108.21 L135.73 108.25 L135.71 108.30 L135.70 108.34 L135.69 108.39 L135.68 108.43 L135.67 108.47 L135.66 108.52 L135.65 108.56 L135.64 108.61 L135.63 108.65 L135.61 108.69 L135.60 108.74 L135.59 108.78 L135.58 108.82 L135.57 108.86 L135.56 108.91 L135.54 108.95 L135.53 108.99 L135.52 109.03 L135.51 109.08 L135.50 109.12 L135.48 109.16 L135.47 109.20 L135.46 109.24 L135.45 109.28 L135.44 109.33 L135.42 109.37 L135.41 109.41 L135.40 109.45 L135.39 109.49 L135.37 109.53 L135.36 109.57 L135.35 109.61 L135.33 109.65 L135.32 109.69 L135.31 109.73 L135.30 109.77 L135.28 109.81 L135.27 109.85 L135.26 109.89 L135.24 109.93 L135.23 109.97 L135.22 110.01 L135.20 110.05 L135.19 110.08 L135.18 110.12 L135.16 110.16 L135.15 110.20 L135.14 110.24 L135.12 110.28 L135.11 110.31 L135.10 110.35 L135.08 110.39 L135.07 110.43 L135.05 110.46 L135.04 110.50 L135.03 110.54 L135.01 110.57 L135.00 110.61 L134.98 110.65 L134.97 110.68 L134.96 110.72 L134.94 110.76 L134.93 110.79 L134.91 110.83 L134.90 110.87 L134.89 110.90 L134.87 110.94 L134.86 110.97 L134.84 111.01 L134.83 111.04 L134.81 111.08 L134.80 111.11 L134.78 111.15 L134.77 111.18 L134.76 111.22 L134.74 111.25 L134.73 111.29 L134.71 111.32 L134.70 111.36 L134.68 111.39 L134.67 111.42 L134.65 111.46 L134.64 111.49 L134.62 111.52 L134.61 111.56 L134.59 111.59 L134.58 111.62 L134.56 111.66 L134.55 111.69 L134.53 111.72 L134.52 111.76 L134.50 111.79 L134.49 111.82 L134.47 111.85 L134.46 111.88 L134.44 111.92 L134.42 111.95 L134.41 111.98 L134.39 112.01 L134.38 112.04 L134.36 112.08 L134.35 112.11 L134.33 112.14 L134.32 112.17 L134.30 112.20 L134.29 112.23 L134.27 112.26 L134.25 112.29 L134.24 112.32 L134.22 112.35 L134.21 112.38 L134.19 112.41 L134.18 112.44 L134.16 112.47 L134.14 112.50 L134.13 112.53 L134.11 112.56 L134.10 112.59 L134.08 112.62 L134.06 112.65 L134.05 112.68 L134.03 112.71 L134.02 112.74 L134.00 112.77 L133.98 112.80 L133.97 112.82 L133.95 112.85 L133.94 112.88 L133.92 112.91 L133.90 112.94 L133.89 112.96 L133.87 112.99 L133.86 113.02 L133.84 113.05 L133.82 113.08 L133.81 113.10 L133.79 113.13 L133.78 113.16 L133.76 113.18 L133.74 113.21 L133.73 113.24 L133.71 113.27 L133.69 113.29 L133.68 113.32 L133.66 113.35 L133.65 113.37 L133.63 113.40 L133.61 113.42 L133.60 113.45 L133.58 113.48 L133.56 113.50 L133.55 113.53 L133.53 113.55 L133.51 113.58 L133.50 113.60 L133.48 113.63 L133.47 113.65 L133.45 113.68 L133.43 113.70 L133.42 113.73 L133.40 113.75 L133.38 113.78 L133.37 113.80 L133.35 113.83 L133.33 113.85 L133.32 113.88 L133.30 113.90 L133.28 113.92 L133.27 113.95 L133.25 113.97 L133.24 114.00 L133.22 114.02 L133.20 114.04 L133.19 114.07 L133.17 114.09 L133.15 114.11 L133.14 114.14 L133.12 114.16 L133.10 114.18 L133.09 114.20 L133.07 114.23 L133.05 114.25 L133.04 114.27 L133.02 114.30 L133.00 114.32 L132.99 114.34 L132.97 114.36 L132.95 114.38 L132.94 114.41 L132.92 114.43 L132.91 114.45 L132.89 114.47 L132.87 114.49 L132.86 114.51 L132.84 114.54 L132.82 114.56 L132.81 114.58 L132.79 114.60 L132.77 114.62 L132.76 114.64 L132.74 114.66 L132.72 114.68 L132.71 114.70 L132.69 114.72 L132.67 114.74 L132.66 114.76 L132.64 114.78 L132.62 114.80 L132.61 114.82 L132.59 114.84 L132.58 114.86 L132.56 114.88 L132.54 114.90 L132.53 114.92 L132.51 114.94 L132.49 114.96 L132.48 114.98 L132.46 115.00 L132.44 115.02 L132.43 115.04 L132.41 115.06 L132.40 115.08 L132.38 115.09 L132.36 115.11 L132.35 115.13 L132.33 115.15 L132.31 115.17 L132.30 115.19 L132.28 115.20 L132.26 115.22 L132.25 115.24 L132.23 115.26 L132.22 115.28 L132.20 115.29 L132.18 115.31 L132.17 115.33 L132.15 115.35 L132.13 115.36 L132.12 115.38 L132.10 115.40 L132.09 115.42 L132.07 115.43 L132.05 115.45 L132.04 115.47 L132.02 115.48 L132.01 115.50 L131.99 115.52 L131.97 115.53 L131.96 115.55 L131.94 115.57 L131.93 115.58 L131.91 115.60 L131.89 115.62 L131.88 115.63 L131.86 115.65 L131.85 115.66 L131.83 115.68 L131.81 115.69 L131.80 115.71 L131.78 115.73 L131.77 115.74 L131.75 115.76 L131.73 115.77 L131.72 115.79 L131.70 115.80 L131.69 115.82 L131.67 115.83 L131.66 115.85 L131.64 115.86 L131.62 115.88 L131.61 115.89 L131.59 115.91 L131.58 115.92 L131.56 115.93 L131.55 115.95 L131.53 115.96 L131.51 115.98 L131.50 115.99 L131.48 116.01 L131.47 116.02 L131.45 116.03 L131.44 116.05 L131.42 116.06 L131.41 116.07 L131.39 116.09 L131.38 116.10 L131.36 116.12 L131.34 116.13 L131.33 116.14 L131.31 116.16 L131.30 116.17 L131.28 116.18 L131.27 116.19 L131.25 116.21 L131.24 116.22 L131.22 116.23 L131.21 116.25 L131.19 116.26 L131.18 116.27 L131.16 116.28 L131.15 116.30 L131.13 116.31 L131.12 116.32 L131.10 116.33 L131.09 116.34 L131.07 116.36 L131.06 116.37 L131.04 116.38 L131.03 116.39 L131.01 116.40 L131.00 116.42 L130.98 116.43 L130.97 116.44 L130.96 116.45 L130.94 116.46 L130.93 116.47 L130.91 116.48 L130.90 116.49 L130.88 116.51 L130.87 116.52 L130.85 116.53 L130.84 116.54 L130.82 116.55 L130.81 116.56 L130.80 116.57 L130.78 116.58 L130.77 116.59 L130.75 116.60 L130.74 116.61 L130.72 116.62 L130.71 116.63 L130.70 116.64 L130.68 116.65 L130.67 116.66 L130.65 116.67 L130.64 116.68 L130.63 116.69 L130.61 116.70 L130.60 116.71 L130.58 116.72 L130.57 116.73 L130.56 116.74 L130.54 116.75 L130.53 116.76 L130.51 116.77 L130.50 116.78 L130.49 116.79 L130.47 116.80 L130.46 116.81 L130.45 116.82 L130.43 116.83 L130.42 116.84 L130.41 116.84 L130.39 116.85 L130.38 116.86 L130.36 116.87 L130.35 116.88 L130.34 116.89 L130.32 116.90 L130.31 116.90 L130.30 116.91 L130.29 116.92 L130.27 116.93 L130.26 116.94 L130.25 116.95 L130.23 116.95 L130.22 116.96 L130.21 116.97 L130.19 116.98 L130.18 116.99 L130.17 116.99 L130.15 117.00 L130.14 117.01 L130.13 117.02 L130.12 117.02 L130.10 117.03 L130.09 117.04 L130.08 117.05 L130.07 117.05 L130.05 117.06 L130.04 117.07 L130.03 117.08 L130.02 117.08 L130.00 117.09 L129.99 117.10 L129.98 117.10 L129.97 117.11 L129.95 117.12 L129.94 117.13 L129.93 117.13 L129.92 117.14 L129.91 117.15 L129.89 117.15 L129.88 117.16 L129.87 117.16 L129.86 117.17 L129.85 117.18 L129.83 117.18 L129.82 117.19 L129.81 117.20 L129.80 117.20 L129.79 117.21 L129.77 117.22 L129.76 117.22 L129.75 117.23 L129.74 117.23 L129.73 117.24 L129.72 117.24 L129.71 117.25 L129.69 117.26 L129.68 117.26 L129.67 117.27 L129.66 117.27 L129.65 117.28 L129.64 117.28 L129.63 117.29 L129.62 117.30 L129.60 117.30 L129.59 117.31 L129.58 117.31 L129.57 117.32 L129.56 117.32 L129.55 117.33 L129.54 117.33 L129.53 117.34 L129.52 117.34 L129.51 117.35 L129.50 117.35 L129.48 117.36 L129.47 117.36 L129.46 117.37 L129.45 117.37 L129.44 117.38 L129.43 117.38 L129.42 117.38 L129.41 117.39 L129.40 117.39 L129.39 117.40 L129.38 117.40 L129.37 117.41 L129.36 117.41 L129.35 117.42 L129.34 117.42 L129.33 117.42 L129.32 117.43 L129.31 117.43 L129.30 117.44 L129.29 117.44 L129.28 117.44 L129.27 117.45 L129.26 117.45 L129.25 117.46 L129.24 117.46 L129.23 117.46 L129.22 117.47 L129.21 117.47 L129.20 117.47 L129.20 117.48 L129.19 117.48 L129.18 117.49 L129.17 117.49 L129.16 117.49 L129.15 117.50 L129.14 117.50 L129.13 117.50 L129.12 117.51 L129.11 117.51 L129.10 117.51 L129.10 117.52 L129.09 117.52 L129.08 117.52 L129.07 117.52 L129.06 117.53 L129.05 117.53 L129.04 117.53 L129.03 117.54 L129.03 117.54 L129.02 117.54 L129.01 117.55 L129.00 117.55 L128.99 117.55 L128.98 117.55 L128.98 117.56 L128.97 117.56 L128.96 117.56 L128.95 117.56 L128.94 117.57 L128.94 117.57 L128.93 117.57 L128.92 117.57 L128.91 117.58 L128.90 117.58 L128.90 117.58 L128.89 117.58 L128.88 117.59 L128.87 117.59 L128.87 117.59 L128.86 117.59 L128.85 117.60 L128.84 117.60 L128.84 117.60 L128.83 117.60 L128.82 117.60 L128.81 117.61 L128.81 117.61 L128.80 117.61 L128.79 117.61 L128.79 117.61 L128.78 117.62 L128.77 117.62 L128.77 117.62 L128.76 117.62 L128.75 117.62 L128.75 117.62 L128.74 117.63 L128.73 117.63 L128.73 117.63 L128.72 117.63 L128.71 117.63 L128.71 117.63 L128.70 117.64 L128.69 117.64 L128.69 117.64 L128.68 117.64 L128.67 117.64 L128.67 117.64 L128.66 117.65 L128.66 117.65 L128.65 117.65 L128.64 117.65 L128.64 117.65 L128.63 117.65 L128.63 117.65 L128.62 117.65 L128.62 117.66 L128.61 117.66 L128.60 117.66 L128.60 117.66 L128.59 117.66 L128.59 117.66 L128.58 117.66 L128.58 117.66 L128.57 117.66 L128.57 117.67 L128.56 117.67 L128.56 117.67 L128.55 117.67 L128.55 117.67 L128.54 117.67 L128.54 117.67 L128.53 117.67 L128.53 117.67 L128.52 117.67 L128.52 117.68 L128.51 117.68 L128.51 117.68 L128.50 117.68 L128.50 117.68 L128.50 117.68 L128.49 117.68 L128.49 117.68 L128.48 117.68 L128.48 117.68 L128.47 117.68 L128.47 117.68 L128.47 117.68 L128.46 117.68 L128.46 117.69 L128.45 117.69 L128.45 117.69 L128.45 117.69 L128.44 117.69 L128.44 117.69 L128.43 117.69 L128.43 117.69 L128.43 117.69 L128.42 117.69 L128.42 117.69 L128.42 117.69 L128.41 117.69 L128.41 117.69 L128.41 117.69 L128.40 117.69 L128.40 117.69 L128.40 117.69 L128.39 117.69 L128.39 117.69 L128.39 117.69 L128.39 117.69 L128.38 117.69 L128.38 117.70 L128.38 117.70 L128.38 117.70 L128.37 117.70 L128.37 117.70 L128.37 117.70 L128.36 117.70 L128.36 117.70 L128.36 117.70 L128.36 117.70 L128.36 117.70 L128.35 117.70 L128.35 117.70 L128.35 117.70 L128.35 117.70 L128.35 117.70 L128.34 117.70 L128.34 117.70 L128.34 117.70 L128.34 117.70 L128.34 117.70 L128.33 117.70 L128.33 117.70 L128.33 117.70 L128.33 117.70 L128.33 117.70 L128.33 117.70 L128.33 117.70 L128.32 117.70 L128.32 117.70 L128.32 117.70 L128.32 117.70 L128.32 117.70 L128.32 117.70 L128.32 117.70 L128.32 117.70 L128.32 117.70 L128.31 117.70 L128.31 117.70 L128.31 117.70 L128.31 117.70 L128.31 117.70 L128.31 117.70 L128.31 117.70 L128.31 117.70 L128.31 117.70 L128.31 117.70 L128.31 117.70 L128.31 117.70 L128.31 117.70 L128.31 117.70 L128.31 117.70 L128.31 117.70 " fill="none" stroke="#111111" stroke-width="0.95" stroke-linejoin="round"/><path d="M127.75 117.70 L127.75 117.70 L127.75 117.70 L127.75 117.70 L127.76 117.70 L127.76 117.70 L127.76 117.70 L127.76 117.70 L127.76 117.70 L127.76 117.70 L127.76 117.70 L127.76 117.70 L127.76 117.70 L127.76 117.70 L127.76 117.70 L127.76 117.70 L127.76 117.70 L127.76 117.70 L127.76 117.70 L127.76 117.70 L127.77 117.70 L127.77 117.70 L127.77 117.70 L127.77 117.70 L127.77 117.70 L127.77 117.70 L127.77 117.70 L127.77 117.70 L127.78 117.70 L127.78 117.70 L127.78 117.70 L127.78 117.70 L127.78 117.70 L127.78 117.70 L127.79 117.70 L127.79 117.70 L127.79 117.70 L127.79 117.70 L127.79 117.70 L127.79 117.70 L127.80 117.70 L127.80 117.70 L127.80 117.70 L127.80 117.70 L127.81 117.70 L127.81 117.70 L127.81 117.70 L127.81 117.70 L127.82 117.70 L127.82 117.70 L127.82 117.70 L127.82 117.70 L127.83 117.70 L127.83 117.71 L127.83 117.71 L127.83 117.71 L127.84 117.71 L127.84 117.71 L127.84 117.71 L127.85 117.71 L127.85 117.71 L127.85 117.71 L127.86 117.71 L127.86 117.71 L127.86 117.71 L127.87 117.71 L127.87 117.71 L127.87 117.71 L127.88 117.71 L127.88 117.71 L127.88 117.71 L127.89 117.71 L127.89 117.71 L127.89 117.71 L127.90 117.71 L127.90 117.71 L127.91 117.72 L127.91 117.72 L127.91 117.72 L127.92 117.72 L127.92 117.72 L127.93 117.72 L127.93 117.72 L127.94 117.72 L127.94 117.72 L127.94 117.72 L127.95 117.72 L127.95 117.72 L127.96 117.72 L127.96 117.72 L127.97 117.73 L127.97 117.73 L127.98 117.73 L127.98 117.73 L127.99 117.73 L127.99 117.73 L128.00 117.73 L128.00 117.73 L128.01 117.73 L128.01 117.73 L128.02 117.73 L128.02 117.74 L128.03 117.74 L128.03 117.74 L128.04 117.74 L128.04 117.74 L128.05 117.74 L128.05 117.74 L128.06 117.74 L128.07 117.75 L128.07 117.75 L128.08 117.75 L128.08 117.75 L128.09 117.75 L128.09 117.75 L128.10 117.75 L128.11 117.75 L128.11 117.76 L128.12 117.76 L128.12 117.76 L128.13 117.76 L128.14 117.76 L128.14 117.76 L128.15 117.76 L128.16 117.77 L128.16 117.77 L128.17 117.77 L128.18 117.77 L128.18 117.77 L128.19 117.77 L128.20 117.78 L128.20 117.78 L128.21 117.78 L128.22 117.78 L128.22 117.78 L128.23 117.79 L128.24 117.79 L128.24 117.79 L128.25 117.79 L128.26 117.79 L128.26 117.80 L128.27 117.80 L128.28 117.80 L128.29 117.80 L128.29 117.80 L128.30 117.81 L128.31 117.81 L128.32 117.81 L128.32 117.81 L128.33 117.82 L128.34 117.82 L128.35 117.82 L128.35 117.82 L128.36 117.82 L128.37 117.83 L128.38 117.83 L128.39 117.83 L128.39 117.83 L128.40 117.84 L128.41 117.84 L128.42 117.84 L128.43 117.85 L128.43 117.85 L128.44 117.85 L128.45 117.85 L128.46 117.86 L128.47 117.86 L128.48 117.86 L128.48 117.87 L128.49 117.87 L128.50 117.87 L128.51 117.87 L128.52 117.88 L128.53 117.88 L128.54 117.88 L128.54 117.89 L128.55 117.89 L128.56 117.89 L128.57 117.90 L128.58 117.90 L128.59 117.90 L128.60 117.91 L128.61 117.91 L128.62 117.91 L128.63 117.92 L128.64 117.92 L128.64 117.92 L128.65 117.93 L128.66 117.93 L128.67 117.94 L128.68 117.94 L128.69 117.94 L128.70 117.95 L128.71 117.95 L128.72 117.95 L128.73 117.96 L128.74 117.96 L128.75 117.97 L128.76 117.97 L128.77 117.97 L128.78 117.98 L128.79 117.98 L128.80 117.99 L128.81 117.99 L128.82 118.00 L128.83 118.00 L128.84 118.00 L128.85 118.01 L128.86 118.01 L128.87 118.02 L128.88 118.02 L128.89 118.03 L128.90 118.03 L128.91 118.04 L128.92 118.04 L128.93 118.05 L128.94 118.05 L128.95 118.06 L128.97 118.06 L128.98 118.07 L128.99 118.07 L129.00 118.08 L129.01 118.08 L129.02 118.09 L129.03 118.09 L129.04 118.10 L129.05 118.10 L129.06 118.11 L129.07 118.11 L129.09 118.12 L129.10 118.12 L129.11 118.13 L129.12 118.13 L129.13 118.14 L129.14 118.15 L129.15 118.15 L129.16 118.16 L129.18 118.16 L129.19 118.17 L129.20 118.18 L129.21 118.18 L129.22 118.19 L129.23 118.19 L129.25 118.20 L129.26 118.21 L129.27 118.21 L129.28 118.22 L129.29 118.22 L129.30 118.23 L129.32 118.24 L129.33 118.24 L129.34 118.25 L129.35 118.26 L129.36 118.26 L129.38 118.27 L129.39 118.28 L129.40 118.28 L129.41 118.29 L129.43 118.30 L129.44 118.31 L129.45 118.31 L129.46 118.32 L129.47 118.33 L129.49 118.33 L129.50 118.34 L129.51 118.35 L129.52 118.36 L129.54 118.36 L129.55 118.37 L129.56 118.38 L129.58 118.39 L129.59 118.39 L129.60 118.40 L129.61 118.41 L129.63 118.42 L129.64 118.42 L129.65 118.43 L129.66 118.44 L129.68 118.45 L129.69 118.46 L129.70 118.46 L129.72 118.47 L129.73 118.48 L129.74 118.49 L129.76 118.50 L129.77 118.51 L129.78 118.51 L129.80 118.52 L129.81 118.53 L129.82 118.54 L129.84 118.55 L129.85 118.56 L129.86 118.57 L129.88 118.58 L129.89 118.59 L129.90 118.59 L129.92 118.60 L129.93 118.61 L129.94 118.62 L129.96 118.63 L129.97 118.64 L129.99 118.65 L130.00 118.66 L130.01 118.67 L130.03 118.68 L130.04 118.69 L130.05 118.70 L130.07 118.71 L130.08 118.72 L130.10 118.73 L130.11 118.74 L130.12 118.75 L130.14 118.76 L130.15 118.77 L130.17 118.78 L130.18 118.79 L130.19 118.80 L130.21 118.81 L130.22 118.82 L130.24 118.83 L130.25 118.84 L130.27 118.85 L130.28 118.86 L130.29 118.87 L130.31 118.89 L130.32 118.90 L130.34 118.91 L130.35 118.92 L130.37 118.93 L130.38 118.94 L130.40 118.95 L130.41 118.96 L130.43 118.98 L130.44 118.99 L130.45 119.00 L130.47 119.01 L130.48 119.02 L130.50 119.03 L130.51 119.05 L130.53 119.06 L130.54 119.07 L130.56 119.08 L130.57 119.09 L130.59 119.11 L130.60 119.12 L130.62 119.13 L130.63 119.14 L130.65 119.16 L130.66 119.17 L130.68 119.18 L130.69 119.19 L130.71 119.21 L130.72 119.22 L130.74 119.23 L130.75 119.25 L130.77 119.26 L130.78 119.27 L130.80 119.29 L130.81 119.30 L130.83 119.31 L130.84 119.33 L130.86 119.34 L130.87 119.35 L130.89 119.37 L130.91 119.38 L130.92 119.39 L130.94 119.41 L130.95 119.42 L130.97 119.44 L130.98 119.45 L131.00 119.47 L131.01 119.48 L131.03 119.49 L131.04 119.51 L131.06 119.52 L131.08 119.54 L131.09 119.55 L131.11 119.57 L131.12 119.58 L131.14 119.60 L131.15 119.61 L131.17 119.63 L131.19 119.64 L131.20 119.66 L131.22 119.67 L131.23 119.69 L131.25 119.70 L131.26 119.72 L131.28 119.74 L131.30 119.75 L131.31 119.77 L131.33 119.78 L131.34 119.80 L131.36 119.82 L131.37 119.83 L131.39 119.85 L131.41 119.87 L131.42 119.88 L131.44 119.90 L131.45 119.91 L131.47 119.93 L131.49 119.95 L131.50 119.97 L131.52 119.98 L131.53 120.00 L131.55 120.02 L131.57 120.03 L131.58 120.05 L131.60 120.07 L131.61 120.09 L131.63 120.10 L131.65 120.12 L131.66 120.14 L131.68 120.16 L131.70 120.17 L131.71 120.19 L131.73 120.21 L131.74 120.23 L131.76 120.25 L131.78 120.27 L131.79 120.28 L131.81 120.30 L131.82 120.32 L131.84 120.34 L131.86 120.36 L131.87 120.38 L131.89 120.40 L131.91 120.42 L131.92 120.43 L131.94 120.45 L131.95 120.47 L131.97 120.49 L131.99 120.51 L132.00 120.53 L132.02 120.55 L132.04 120.57 L132.05 120.59 L132.07 120.61 L132.08 120.63 L132.10 120.65 L132.12 120.67 L132.13 120.69 L132.15 120.71 L132.17 120.73 L132.18 120.75 L132.20 120.77 L132.22 120.80 L132.23 120.82 L132.25 120.84 L132.26 120.86 L132.28 120.88 L132.30 120.90 L132.31 120.92 L132.33 120.94 L132.35 120.97 L132.36 120.99 L132.38 121.01 L132.40 121.03 L132.41 121.05 L132.43 121.07 L132.44 121.10 L132.46 121.12 L132.48 121.14 L132.49 121.16 L132.51 121.19 L132.53 121.21 L132.54 121.23 L132.56 121.26 L132.57 121.28 L132.59 121.30 L132.61 121.32 L132.62 121.35 L132.64 121.37 L132.66 121.39 L132.67 121.42 L132.69 121.44 L132.71 121.47 L132.72 121.49 L132.74 121.51 L132.75 121.54 L132.77 121.56 L132.79 121.59 L132.80 121.61 L132.82 121.63 L132.84 121.66 L132.85 121.68 L132.87 121.71 L132.88 121.73 L132.90 121.76 L132.92 121.78 L132.93 121.81 L132.95 121.83 L132.96 121.86 L132.98 121.88 L133.00 121.91 L133.01 121.94 L133.03 121.96 L133.05 121.99 L133.06 122.01 L133.08 122.04 L133.09 122.07 L133.11 122.09 L133.13 122.12 L133.14 122.15 L133.16 122.17 L133.17 122.20 L133.19 122.23 L133.21 122.25 L133.22 122.28 L133.24 122.31 L133.25 122.33 L133.27 122.36 L133.29 122.39 L133.30 122.42 L133.32 122.45 L133.33 122.47 L133.35 122.50 L133.36 122.53 L133.38 122.56 L133.40 122.59 L133.41 122.61 L133.43 122.64 L133.44 122.67 L133.46 122.70 L133.48 122.73 L133.49 122.76 L133.51 122.79 L133.52 122.82 L133.54 122.85 L133.55 122.88 L133.57 122.90 L133.58 122.93 L133.60 122.96 L133.62 122.99 L133.63 123.02 L133.65 123.05 L133.66 123.08 L133.68 123.11 L133.69 123.15 L133.71 123.18 L133.72 123.21 L133.74 123.24 L133.75 123.27 L133.77 123.30 L133.78 123.33 L133.80 123.36 L133.81 123.39 L133.83 123.42 L133.84 123.46 L133.86 123.49 L133.88 123.52 L133.89 123.55 L133.91 123.58 L133.92 123.62 L133.93 123.65 L133.95 123.68 L133.96 123.71 L133.98 123.75 L133.99 123.78 L134.01 123.81 L134.02 123.84 L134.04 123.88 L134.05 123.91 L134.07 123.94 L134.08 123.98 L134.10 124.01 L134.11 124.05 L134.13 124.08 L134.14 124.11 L134.16 124.15 L134.17 124.18 L134.18 124.22 L134.20 124.25 L134.21 124.29 L134.23 124.32 L134.24 124.36 L134.26 124.39 L134.27 124.43 L134.28 124.46 L134.30 124.50 L134.31 124.53 L134.33 124.57 L134.34 124.60 L134.35 124.64 L134.37 124.68 L134.38 124.71 L134.39 124.75 L134.41 124.78 L134.42 124.82 L134.44 124.86 L134.45 124.89 L134.46 124.93 L134.48 124.97 L134.49 125.01 L134.50 125.04 L134.52 125.08 L134.53 125.12 L134.54 125.16 L134.56 125.19 L134.57 125.23 L134.58 125.27 L134.60 125.31 L134.61 125.35 L134.62 125.38 L134.63 125.42 L134.65 125.46 L134.66 125.50 L134.67 125.54 L134.69 125.58 L134.70 125.62 L134.71 125.66 L134.72 125.70 L134.74 125.74 L134.75 125.78 L134.76 125.82 L134.77 125.86 L134.79 125.90 L134.80 125.94 L134.81 125.98 L134.82 126.02 L134.83 126.06 L134.85 126.10 L134.86 126.14 L134.87 126.18 L134.88 126.22 L134.89 126.26 L134.91 126.30 L134.92 126.35 L134.93 126.39 L134.94 126.43 L134.95 126.47 L134.96 126.51 L134.98 126.56 L134.99 126.60 L135.00 126.64 L135.01 126.68 L135.02 126.73 L135.03 126.77 L135.04 126.81 L135.05 126.86 L135.06 126.90 L135.07 126.94 L135.09 126.99 L135.10 127.03 L135.11 127.08 L135.12 127.12 L135.13 127.16 L135.14 127.21 L135.15 127.25 L135.16 127.30 L135.17 127.34 L135.18 127.39 L135.19 127.43 L135.20 127.48 L135.21 127.52 L135.22 127.57 L135.23 127.61 L135.24 127.66 L135.25 127.71 L135.26 127.75 L135.27 127.80 L135.27 127.85 L135.28 127.89 L135.29 127.94 L135.30 127.99 L135.31 128.03 L135.32 128.08 L135.33 128.13 L135.34 128.17 L135.35 128.22 L135.36 128.27 L135.36 128.32 L135.37 128.37 L135.38 128.41 L135.39 128.46 L135.40 128.51 L135.40 128.56 L135.41 128.61 L135.42 128.66 L135.43 128.71 L135.44 128.75 L135.44 128.80 L135.45 128.85 L135.46 128.90 L135.47 128.95 L135.47 129.00 L135.48 129.05 L135.49 129.10 L135.50 129.15 L135.50 129.20 L135.51 129.25 L135.52 129.31 L135.52 129.36 L135.53 129.41 L135.54 129.46 L135.54 129.51 L135.55 129.56 L135.55 129.61 L135.56 129.67 L135.57 129.72 L135.57 129.77 L135.58 129.82 L135.58 129.87 L135.59 129.93 L135.59 129.98 L135.60 130.03 L135.60 130.09 L135.61 130.14 L135.61 130.19 L135.62 130.25 L135.62 130.30 L135.63 130.35 L135.63 130.41 L135.64 130.46 L135.64 130.52 L135.65 130.57 L135.65 130.63 L135.66 130.68 L135.66 130.73 L135.66 130.79 L135.67 130.85 L135.67 130.90 L135.67 130.96 L135.68 131.01 L135.68 131.07 L135.68 131.12 L135.69 131.18 L135.69 131.24 L135.69 131.29 L135.70 131.35 L135.70 131.41 L135.70 131.46 L135.70 131.52 L135.71 131.58 L135.71 131.63 L135.71 131.69 L135.71 131.75 L135.71 131.81 L135.71 131.87 L135.72 131.92 L135.72 131.98 L135.72 132.04 L135.72 132.10 L135.72 132.16 L135.72 132.22 L135.72 132.28 L135.72 132.34 L135.72 132.39 L135.72 132.45 L135.72 132.51 L135.72 132.57 L135.72 132.63 L135.72 132.69 L135.72 132.75 L135.72 132.82 L135.72 132.88 L135.72 132.94 L135.72 133.00 L135.72 133.06 L135.72 133.12 L135.72 133.18 L135.72 133.24 L135.71 133.31 L135.71 133.37 L135.71 133.43 L135.71 133.49 L135.71 133.55 L135.70 133.62 L135.70 133.68 L135.70 133.74 L135.70 133.81 L135.69 133.87 L135.69 133.93 L135.69 134.00 L135.68 134.06 L135.68 134.12 L135.68 134.19 L135.67 134.25 L135.67 134.32 L135.67 134.38 L135.66 134.44 L135.66 134.51 L135.65 134.57 L135.65 134.64 L135.64 134.70 L135.64 134.77 L135.63 134.84 L135.63 134.90 L135.62 134.97 L135.62 135.03 L135.61 135.10 L135.60 135.17 L135.60 135.23 L135.59 135.30 L135.59 135.37 L135.58 135.43 L135.57 135.50 L135.56 135.57 L135.56 135.63 L135.55 135.70 L135.54 135.77 L135.54 135.84 L135.53 135.91 L135.52 135.97 L135.51 136.04 L135.50 136.11 L135.49 136.18 L135.49 136.25 L135.48 136.32 L135.47 136.39 L135.46 136.46 L135.45 136.53 L135.44 136.59 L135.43 136.66 L135.42 136.73 L135.41 136.80 L135.40 136.87 L135.39 136.94 L135.38 137.02 L135.37 137.09 L135.36 137.16 L135.35 137.23 L135.33 137.30 L135.32 137.37 L135.31 137.44 L135.30 137.51 L135.29 137.58 L135.28 137.66 L135.26 137.73 L135.25 137.80 L135.24 137.87 L135.22 137.95 L135.21 138.02 L135.20 138.09 L135.18 138.16 L135.17 138.24 L135.16 138.31 L135.14 138.38 L135.13 138.46 L135.11 138.53 L135.10 138.60 L135.08 138.68 L135.07 138.75 L135.05 138.83 L135.04 138.90 L135.02 138.97 L135.01 139.05 L134.99 139.12 L134.97 139.20 L134.96 139.27 L134.94 139.35 L134.92 139.42 L134.90 139.50 L134.89 139.57 L134.87 139.65 L134.85 139.73 L134.83 139.80 L134.82 139.88 L134.80 139.95 L134.78 140.03 L134.76 140.11 L134.74 140.18 L134.72 140.26 L134.70 140.34 L134.68 140.41 L134.66 140.49 L134.64 140.57 L134.62 140.64 L134.60 140.72 L134.58 140.80 L134.56 140.88 L134.54 140.95 L134.52 141.03 L134.50 141.11 L134.47 141.19 L134.45 141.27 L134.43 141.35 L134.41 141.42 L134.38 141.50 L134.36 141.58 L134.34 141.66 L134.31 141.74 L134.29 141.82 L134.27 141.90 L134.24 141.98 L134.22 142.06 L134.19 142.13 L134.17 142.21 L134.14 142.29 L134.12 142.37 L134.09 142.45 L134.07 142.53 L134.04 142.61 L134.02 142.69 L133.99 142.77 L133.96 142.85 L133.94 142.93 L133.91 143.01 L133.88 143.10 L133.85 143.18 L133.83 143.26 L133.80 143.34 L133.77 143.42 L133.74 143.50 L133.71 143.58 L133.69 143.66 L133.66 143.74 L133.63 143.82 L133.60 143.91 L133.57 143.99 L133.54 144.07 L133.51 144.15 L133.48 144.23 L133.45 144.31 L133.42 144.40 L133.38 144.48 L133.35 144.56 L133.32 144.64 L133.29 144.72 L133.26 144.80 L133.23 144.89 L133.19 144.97 L133.16 145.05 L133.13 145.13 L133.09 145.22 L133.06 145.30 L133.03 145.38 L132.99 145.46 L132.96 145.55 L132.93 145.63 L132.89 145.71 L132.86 145.79 L132.82 145.88 L132.79 145.96 L132.75 146.04 L132.72 146.12 L132.68 146.21 L132.64 146.29 L132.61 146.37 L132.57 146.46 L132.53 146.54 L132.50 146.62 L132.46 146.70 L132.42 146.79 L132.39 146.87 L132.35 146.95 L132.31 147.03 L132.27 147.12 L132.23 147.20 L132.19 147.28 L132.15 147.37 L132.12 147.45 L132.08 147.53 L132.04 147.61 L132.00 147.70 L131.96 147.78 L131.92 147.86 L131.88 147.95 L131.84 148.03 L131.80 148.11 L131.75 148.19 L131.71 148.28 L131.67 148.36 L131.63 148.44 L131.59 148.52 L131.55 148.61 L131.50 148.69 L131.46 148.77 L131.42 148.85 L131.38 148.94 L131.33 149.02 L131.29 149.10 L131.25 149.18 L131.20 149.26 L131.16 149.35 L131.11 149.43 L131.07 149.51 L131.03 149.59 L130.98 149.67 L130.94 149.75 L130.89 149.84 L130.85 149.92 L130.80 150.00 L130.76 150.08 L130.71 150.16 L130.66 150.24 L130.62 150.32 L130.57 150.40 L130.53 150.48 L130.48 150.56 L130.43 150.64 L130.39 150.72 L130.34 150.80 L130.29 150.88 L130.25 150.96 L130.20 151.04 L130.15 151.12 L130.10 151.20 L130.05 151.28 L130.01 151.36 L129.96 151.44 L129.91 151.52 L129.86 151.60 L129.81 151.68 L129.76 151.75 L129.72 151.83 L129.67 151.91 L129.62 151.99 L129.57 152.07 L129.52 152.14 L129.47 152.22 L129.42 152.30 L129.37 152.38 L129.32 152.45 L129.27 152.53 L129.22 152.61 L129.17 152.68 L129.12 152.76 L129.07 152.83 L129.02 152.91 L128.97 152.99 L128.92 153.06 L128.87 153.14 L128.82 153.21 L128.77 153.28 L128.71 153.36 L128.66 153.43 L128.61 153.51 L128.56 153.58 L128.51 153.65 L128.46 153.73 L128.41 153.80 L128.36 153.87 L128.30 153.95 L128.25 154.02 L128.20 154.09 L128.15 154.16 L128.10 154.23 L128.05 154.30 L127.99 154.37 L127.94 154.44 L127.89 154.51 L127.84 154.58 L127.79 154.65 L127.74 154.72 L127.68 154.79 L127.63 154.86 L127.58 154.93 L127.53 155.00 L127.48 155.07 L127.42 155.13 L127.37 155.20 L127.32 155.27 L127.27 155.33 L127.22 155.40 L127.17 155.47 L127.11 155.53 L127.06 155.60 L127.01 155.66 L126.96 155.73 L126.91 155.79 L126.86 155.86 L126.80 155.92 L126.75 155.98 L126.70 156.05 L126.65 156.11 L126.60 156.17 L126.55 156.23 L126.50 156.29 L126.45 156.36 L126.40 156.42 L126.34 156.48 L126.29 156.54 L126.24 156.60 L126.19 156.66 L126.14 156.71 L126.09 156.77 L126.04 156.83 L125.99 156.89 L125.94 156.95 L125.89 157.00 L125.84 157.06 L125.79 157.12 L125.74 157.17 L125.69 157.23 L125.65 157.28 L125.60 157.34 L125.55 157.39 L125.50 157.44 L125.45 157.50 L125.40 157.55 L125.35 157.60 L125.31 157.66 L125.26 157.71 L125.21 157.76 L125.16 157.81 L125.12 157.86 L125.07 157.91 L125.02 157.96 L124.98 158.01 L124.93 158.06 L124.88 158.11 L124.84 158.15 L124.79 158.20 L124.75 158.25 L124.70 158.29 L124.66 158.34 L124.61 158.39 L124.57 158.43 L124.52 158.48 L124.48 158.52 L124.44 158.56 L124.39 158.61 L124.35 158.65 L124.31 158.69 L124.27 158.73 L124.22 158.77 L124.18 158.82 L124.14 158.86 L124.10 158.90 L124.06 158.94 L124.02 158.97 L123.98 159.01 L123.94 159.05 L123.90 159.09 L123.86 159.13 L123.82 159.16 L123.78 159.20 L123.74 159.24 L123.71 159.27 L123.67 159.31 L123.63 159.34 L123.59 159.37 L123.56 159.41 L123.52 159.44 L123.49 159.47 L123.45 159.50 L123.42 159.53 L123.38 159.57 L123.35 159.60 L123.31 159.63 L123.28 159.66 L123.25 159.68 L123.22 159.71 L123.18 159.74 L123.15 159.77 L123.12 159.79 L123.09 159.82 L123.06 159.85 L123.03 159.87 L123.00 159.90 L122.97 159.92 L122.94 159.95 L122.92 159.97 L122.89 159.99 L122.86 160.02 L122.84 160.04 L122.81 160.06 L122.78 160.08 L122.76 160.10 L122.73 160.12 L122.71 160.14 L122.69 160.16 L122.66 160.18 L122.64 160.19 L122.62 160.21 L122.60 160.23 L122.58 160.25 L122.56 160.26 L122.54 160.28 L122.52 160.29 L122.50 160.31 L122.48 160.32 L122.46 160.33 L122.45 160.35 L122.43 160.36 L122.42 160.37 L122.40 160.38 L122.39 160.39 L122.37 160.41 L122.36 160.42 L122.35 160.43 L122.33 160.43 L122.32 160.44 L122.31 160.45 L122.30 160.46 L122.29 160.47 L122.28 160.47 L122.27 160.48 L122.27 160.48 L122.26 160.49 L122.25 160.49 L122.25 160.50 L122.24 160.50 L122.24 160.51 L122.23 160.51 L122.23 160.51 L122.23 160.51 L122.22 160.51 L122.22 160.51 L122.22 160.52 L122.22 160.52 L122.22 160.51 L122.22 160.51 L122.23 160.51 L122.23 160.51 L122.23 160.51 L122.24 160.51 L122.24 160.50 L122.25 160.50 L122.25 160.49 L122.26 160.49 L122.27 160.48 L122.28 160.48 L122.29 160.47 L122.30 160.47 L122.31 160.46 L122.32 160.45 L122.33 160.44 L122.34 160.44 L122.36 160.43 L122.37 160.42 L122.39 160.41 L122.40 160.40 L122.42 160.39 L122.44 160.38 L122.46 160.37 L122.48 160.35 L122.50 160.34 L122.52 160.33 L122.54 160.32 L122.56 160.30 L122.59 160.29 L122.61 160.27 L122.63 160.26 L122.66 160.24 L122.69 160.23 L122.71 160.21 L122.74 160.20 L122.77 160.18 L122.80 160.16 L122.83 160.14 L122.86 160.13 L122.90 160.11 L122.93 160.09 L122.96 160.07 L123.00 160.05 L123.04 160.03 L123.07 160.01 L123.11 159.99 L123.15 159.97 L123.19 159.95 L123.23 159.92 L123.27 159.90 L123.31 159.88 L123.36 159.86 L123.40 159.83 L123.44 159.81 L123.49 159.79 L123.54 159.76 L123.58 159.74 L123.63 159.71 L123.68 159.69 L123.73 159.66 L123.78 159.63 L123.84 159.61 L123.89 159.58 L123.94 159.55 L124.00 159.53 L124.05 159.50 L124.11 159.47 L124.17 159.44 L124.23 159.41 L124.29 159.38 L124.35 159.35 L124.41 159.32 L124.47 159.29 L124.54 159.26 L124.60 159.23 L124.67 159.20 L124.73 159.17 L124.80 159.14 L124.87 159.11 L124.94 159.07 L125.01 159.04 L125.08 159.01 L125.15 158.98 L125.23 158.94 L125.30 158.91 L125.38 158.88 L125.45 158.84 L125.53 158.81 L125.61 158.77 L125.69 158.74 L125.77 158.70 L125.85 158.67 L125.94 158.63 L126.02 158.59 L126.10 158.56 L126.19 158.52 L126.28 158.49 L126.37 158.45 L126.45 158.41 L126.54 158.37 L126.64 158.34 L126.73 158.30 L126.82 158.26 L126.92 158.22 L127.01 158.18 L127.11 158.15 L127.20 158.11 L127.30 158.07 L127.40 158.03 L127.50 157.99 L127.61 157.95 L127.71 157.91 L127.81 157.87 L127.92 157.83 L128.02 157.79 L128.13 157.75 L128.24 157.71 L128.35 157.67 L128.46 157.63 L128.57 157.58 L128.68 157.54 L128.80 157.50 L128.91 157.46 L129.03 157.42 L129.15 157.38 L129.26 157.33 L129.38 157.29 L129.50 157.25 L129.63 157.21 L129.75 157.17 L129.87 157.12 L130.00 157.08 L130.12 157.04 L130.25 156.99 L130.38 156.95 L130.51 156.91 L130.64 156.87 L130.77 156.82 L130.90 156.78 L131.04 156.74 L131.17 156.69 L131.31 156.65 L131.45 156.61 L131.58 156.56 L131.72 156.52 L131.86 156.47 L132.01 156.43 L132.15 156.39 L132.29 156.34 L132.44 156.30 L132.59 156.26 L132.73 156.21 L132.88 156.17 L133.03 156.12 L133.18 156.08 L133.34 156.04 L133.49 155.99 L133.64 155.95 L133.80 155.90 L133.96 155.86 L134.11 155.82 L134.27 155.77 L134.43 155.73 L134.60 155.68 L134.76 155.64 L134.92 155.60 L135.09 155.55 L135.25 155.51 L135.42 155.47 L135.59 155.42 L135.76 155.38 L135.93 155.34 L136.10 155.29 L136.27 155.25 L136.45 155.21 L136.62 155.16 L136.80 155.12 L136.98 155.08 L137.16 155.03 L137.34 154.99 L137.52 154.95 L137.70 154.91 L137.88 154.86 L138.07 154.82 L138.25 154.78 L138.44 154.74 L138.63 154.70 L138.81 154.65 L139.00 154.61 L139.20 154.57 L139.39 154.53 L139.58 154.49 L139.78 154.45 L139.97 154.41 L140.17 154.37 L140.37 154.33 L140.56 154.29 L140.76 154.25 L140.97 154.21 L141.17 154.17 L141.37 154.13 L141.57 154.09 L141.78 154.05 L141.99 154.01 L142.19 153.97 L142.40 153.93 L142.61 153.90 L142.82 153.86 L143.03 153.82 L143.25 153.78 L143.46 153.75 L143.68 153.71 L143.89 153.67 L144.11 153.64 L144.33 153.60 L144.55 153.57 L144.77 153.53 L144.99 153.50 L145.21 153.46 L145.43 153.43 L145.66 153.39 L145.88 153.36 L146.11 153.32 L146.33 153.29 L146.56 153.26 L146.79 153.23 L147.02 153.19 L147.25 153.16 L147.48 153.13 L147.72 153.10 L147.95 153.07 L148.18 153.04 L148.42 153.01 L148.66 152.98 L148.89 152.95 L149.13 152.92 L149.37 152.89 L149.61 152.86 L149.85 152.83 L150.09 152.81 L150.33 152.78 L150.58 152.75 L150.82 152.72 L151.07 152.70 L151.31 152.67 L151.56 152.65 L151.81 152.62 L152.05 152.60 L152.30 152.57 L152.55 152.55 L152.80 152.53 L153.05 152.51 L153.31 152.48 L153.56 152.46 L153.81 152.44 L154.07 152.42 L154.32 152.40 L154.58 152.38 L154.83 152.36 L155.09 152.34 L155.35 152.32 L155.60 152.30 L155.86 152.29 L156.12 152.27 L156.38 152.25 L156.64 152.23 L156.90 152.22 L157.17 152.20 L157.43 152.19 L157.69 152.17 L157.95 152.16 L158.22 152.15 L158.48 152.13 L158.75 152.12 L159.01 152.11 L159.28 152.10 L159.54 152.09 L159.81 152.08 L160.08 152.07 L160.34 152.06 L160.61 152.05 L160.88 152.04 L161.15 152.03 L161.42 152.03 L161.69 152.02 L161.96 152.01 L162.23 152.01 L162.50 152.00 L162.77 152.00 L163.04 152.00 L163.31 151.99 L163.58 151.99 L163.86 151.99 L164.13 151.98 L164.40 151.98 L164.67 151.98 L164.95 151.98 M280.23 117.70 L280.23 117.70 L280.23 117.70 L280.22 117.70 L280.22 117.70 L280.22 117.70 L280.22 117.70 L280.22 117.70 L280.21 117.70 L280.21 117.70 L280.20 117.70 L280.20 117.70 L280.19 117.70 L280.19 117.70 L280.18 117.70 L280.18 117.70 L280.17 117.70 L280.16 117.70 L280.15 117.70 L280.15 117.70 L280.14 117.70 L280.13 117.70 L280.12 117.70 L280.11 117.70 L280.10 117.70 L280.09 117.70 L280.08 117.69 L280.07 117.69 L280.05 117.69 L280.04 117.69 L280.03 117.69 L280.01 117.69 L280.00 117.69 L279.99 117.69 L279.97 117.69 L279.96 117.69 L279.94 117.69 L279.92 117.69 L279.91 117.68 L279.89 117.68 L279.87 117.68 L279.86 117.68 L279.84 117.68 L279.82 117.68 L279.80 117.68 L279.78 117.67 L279.76 117.67 L279.74 117.67 L279.72 117.67 L279.70 117.67 L279.68 117.66 L279.65 117.66 L279.63 117.66 L279.61 117.66 L279.58 117.65 L279.56 117.65 L279.54 117.65 L279.51 117.65 L279.49 117.64 L279.46 117.64 L279.43 117.64 L279.41 117.63 L279.38 117.63 L279.35 117.63 L279.32 117.62 L279.30 117.62 L279.27 117.62 L279.24 117.61 L279.21 117.61 L279.18 117.60 L279.15 117.60 L279.12 117.60 L279.09 117.59 L279.05 117.59 L279.02 117.58 L278.99 117.58 L278.96 117.57 L278.92 117.57 L278.89 117.56 L278.86 117.56 L278.82 117.55 L278.79 117.55 L278.75 117.54 L278.71 117.53 L278.68 117.53 L278.64 117.52 L278.60 117.51 L278.57 117.51 L278.53 117.50 L278.49 117.49 L278.45 117.49 L278.41 117.48 L278.37 117.47 L278.33 117.47 L278.29 117.46 L278.25 117.45 L278.21 117.44 L278.16 117.43 L278.12 117.43 L278.08 117.42 L278.04 117.41 L277.99 117.40 L277.95 117.39 L277.90 117.38 L277.86 117.37 L277.81 117.36 L277.77 117.35 L277.72 117.34 L277.68 117.33 L277.63 117.32 L277.58 117.31 L277.53 117.30 L277.49 117.29 L277.44 117.28 L277.39 117.27 L277.34 117.26 L277.29 117.25 L277.24 117.23 L277.19 117.22 L277.14 117.21 L277.09 117.20 L277.03 117.18 L276.98 117.17 L276.93 117.16 L276.88 117.15 L276.82 117.13 L276.77 117.12 L276.71 117.10 L276.66 117.09 L276.60 117.08 L276.55 117.06 L276.49 117.05 L276.44 117.03 L276.38 117.02 L276.32 117.00 L276.26 116.98 L276.21 116.97 L276.15 116.95 L276.09 116.94 L276.03 116.92 L275.97 116.90 L275.91 116.89 L275.85 116.87 L275.79 116.85 L275.73 116.83 L275.67 116.81 L275.61 116.80 L275.54 116.78 L275.48 116.76 L275.42 116.74 L275.35 116.72 L275.29 116.70 L275.23 116.68 L275.16 116.66 L275.10 116.64 L275.03 116.62 L274.96 116.60 L274.90 116.58 L274.83 116.56 L274.77 116.53 L274.70 116.51 L274.63 116.49 L274.56 116.47 L274.49 116.44 L274.43 116.42 L274.36 116.40 L274.29 116.37 L274.22 116.35 L274.15 116.32 L274.08 116.30 L274.00 116.28 L273.93 116.25 L273.86 116.22 L273.79 116.20 L273.72 116.17 L273.64 116.15 L273.57 116.12 L273.50 116.09 L273.42 116.07 L273.35 116.04 L273.27 116.01 L273.20 115.98 L273.12 115.95 L273.05 115.93 L272.97 115.90 L272.90 115.87 L272.82 115.84 L272.74 115.81 L272.66 115.78 L272.59 115.75 L272.51 115.71 L272.43 115.68 L272.35 115.65 L272.27 115.62 L272.19 115.59 L272.11 115.56 L272.03 115.52 L271.95 115.49 L271.87 115.46 L271.79 115.42 L271.71 115.39 L271.63 115.35 L271.54 115.32 L271.46 115.28 L271.38 115.25 L271.29 115.21 L271.21 115.17 L271.13 115.14 L271.04 115.10 L270.96 115.06 L270.87 115.03 L270.79 114.99 L270.70 114.95 L270.62 114.91 L270.53 114.87 L270.44 114.83 L270.36 114.79 L270.27 114.75 L270.18 114.71 L270.09 114.67 L270.01 114.63 L269.92 114.59 L269.83 114.55 L269.74 114.50 L269.65 114.46 L269.56 114.42 L269.47 114.37 L269.38 114.33 L269.29 114.29 L269.20 114.24 L269.11 114.20 L269.02 114.15 L268.92 114.11 L268.83 114.06 L268.74 114.01 L268.65 113.97 L268.55 113.92 L268.46 113.87 L268.37 113.82 L268.27 113.78 L268.18 113.73 L268.08 113.68 L267.99 113.63 L267.90 113.58 L267.80 113.53 L267.70 113.48 L267.61 113.43 L267.51 113.37 L267.42 113.32 L267.32 113.27 L267.22 113.22 L267.13 113.16 L267.03 113.11 L266.93 113.06 L266.83 113.00 L266.74 112.95 L266.64 112.89 L266.54 112.84 L266.44 112.78 L266.34 112.73 L266.24 112.67 L266.14 112.61 L266.04 112.55 L265.94 112.50 L265.84 112.44 L265.74 112.38 L265.64 112.32 L265.54 112.26 L265.44 112.20 L265.34 112.14 L265.24 112.08 L265.13 112.02 L265.03 111.96 L264.93 111.89 L264.83 111.83 L264.72 111.77 L264.62 111.71 L264.52 111.64 L264.42 111.58 L264.31 111.51 L264.21 111.45 L264.10 111.38 L264.00 111.32 L263.90 111.25 L263.79 111.18 L263.69 111.12 L263.58 111.05 L263.48 110.98 L263.37 110.91 L263.27 110.84 L263.16 110.78 L263.05 110.71 L262.95 110.64 L262.84 110.57 L262.74 110.49 L262.63 110.42 L262.52 110.35 L262.42 110.28 L262.31 110.21 L262.20 110.13 L262.09 110.06 L261.99 109.99 L261.88 109.91 L261.77 109.84 L261.66 109.76 L261.56 109.69 L261.45 109.61 L261.34 109.53 L261.23 109.46 L261.12 109.38 L261.01 109.30 L260.90 109.22 L260.80 109.14 L260.69 109.06 L260.58 108.98 L260.47 108.90 L260.36 108.82 L260.25 108.74 L260.14 108.66 L260.03 108.58 L259.92 108.50 L259.81 108.42 L259.70 108.33 L259.59 108.25 L259.48 108.17 L259.37 108.08 L259.26 108.00 L259.15 107.91 L259.04 107.83 L258.93 107.74 L258.82 107.65 L258.70 107.57 L258.59 107.48 L258.48 107.39 L258.37 107.30 L258.26 107.22 L258.15 107.13 L258.04 107.04 L257.93 106.95 L257.82 106.86 L257.70 106.77 L257.59 106.68 L257.48 106.58 L257.37 106.49 L257.26 106.40 L257.15 106.31 L257.04 106.21 L256.92 106.12 L256.81 106.03 L256.70 105.93 L256.59 105.84 L256.48 105.74 L256.37 105.65 L256.25 105.55 L256.14 105.45 L256.03 105.36 L255.92 105.26 L255.81 105.16 L255.70 105.06 L255.58 104.97 L255.47 104.87 L255.36 104.77 L255.25 104.67 L255.14 104.57 L255.03 104.47 L254.92 104.37 L254.80 104.27 L254.69 104.16 L254.58 104.06 L254.47 103.96 L254.36 103.86 L254.25 103.75 L254.14 103.65 L254.03 103.55 L253.91 103.44 L253.80 103.34 L253.69 103.23 L253.58 103.13 L253.47 103.02 L253.36 102.92 L253.25 102.81 L253.14 102.70 L253.03 102.60 L252.92 102.49 L252.81 102.38 L252.70 102.27 L252.59 102.16 L252.48 102.05 L252.37 101.94 L252.26 101.84 L252.15 101.73 L252.04 101.61 L251.93 101.50 L251.82 101.39 L251.71 101.28 L251.60 101.17 L251.50 101.06 L251.39 100.95 L251.28 100.83 L251.17 100.72 L251.06 100.61 L250.95 100.49 L250.85 100.38 L250.74 100.26 L250.63 100.15 L250.52 100.04 L250.42 99.92 L250.31 99.80 L250.20 99.69 L250.10 99.57 L249.99 99.46 L249.88 99.34 L249.78 99.22 L249.67 99.11 L249.56 98.99 L249.46 98.87 L249.35 98.75 L249.25 98.63 L249.14 98.52 L249.04 98.40 L248.93 98.28 L248.83 98.16 L248.73 98.04 L248.62 97.92 L248.52 97.80 L248.42 97.68 L248.31 97.56 L248.21 97.44 L248.11 97.32 L248.00 97.19 L247.90 97.07 L247.80 96.95 L247.70 96.83 L247.60 96.71 L247.50 96.58 L247.39 96.46 L247.29 96.34 L247.19 96.21 L247.09 96.09 L246.99 95.97 L246.89 95.84 L246.79 95.72 L246.70 95.60 L246.60 95.47 L246.50 95.35 L246.40 95.22 L246.30 95.10 L246.20 94.97 L246.11 94.85 L246.01 94.72 L245.91 94.60 L245.82 94.47 L245.72 94.34 L245.62 94.22 L245.53 94.09 L245.43 93.97 L245.34 93.84 L245.24 93.71 L245.15 93.59 L245.06 93.46 L244.96 93.33 L244.87 93.20 L244.78 93.08 L244.68 92.95 L244.59 92.82 L244.50 92.69 L244.41 92.57 L244.32 92.44 L244.23 92.31 L244.13 92.18 L244.04 92.06 L243.95 91.93 L243.87 91.80 L243.78 91.67 L243.69 91.54 L243.60 91.41 L243.51 91.28 L243.42 91.16 L243.34 91.03 L243.25 90.90 L243.16 90.77 L243.08 90.64 L242.99 90.51 L242.90 90.38 L242.82 90.25 L242.73 90.12 L242.65 90.00 L242.56 89.87 L242.48 89.74 L242.40 89.61 L242.31 89.48 L242.23 89.35 L242.15 89.22 L242.07 89.09 L241.99 88.96 L241.91 88.83 L241.82 88.70 L241.74 88.57 L241.66 88.45 L241.58 88.32 L241.51 88.19 L241.43 88.06 L241.35 87.93 L241.27 87.80 L241.19 87.67 L241.12 87.54 L241.04 87.41 L240.96 87.28 L240.89 87.15 L240.81 87.03 L240.74 86.90 L240.66 86.77 L240.59 86.64 L240.51 86.51 L240.44 86.38 L240.37 86.25 L240.29 86.12 L240.22 86.00 L240.15 85.87 L240.08 85.74 L240.01 85.61 L239.94 85.48 L239.87 85.36 L239.80 85.23 L239.73 85.10 L239.66 84.97 L239.59 84.84 L239.52 84.72 L239.45 84.59 L239.39 84.46 L239.32 84.34 L239.25 84.21 L239.19 84.08 L239.12 83.95 L239.06 83.83 L238.99 83.70 L238.93 83.58 L238.86 83.45 L238.80 83.32 L238.74 83.20 L238.67 83.07 L238.61 82.95 L238.55 82.82 L238.49 82.69 L238.43 82.57 L238.37 82.44 L238.30 82.32 L238.24 82.20 L238.19 82.07 L238.13 81.95 L238.07 81.82 L238.01 81.70 L237.95 81.57 L237.89 81.45 L237.84 81.33 L237.78 81.20 L237.72 81.08 L237.67 80.96 L237.61 80.84 L237.56 80.71 L237.50 80.59 L237.45 80.47 L237.40 80.35 L237.34 80.23 L237.29 80.10 L237.24 79.98 L237.18 79.86 L237.13 79.74 L237.08 79.62 L237.03 79.50 L236.98 79.38 L236.93 79.26 L236.88 79.14 L236.83 79.02 L236.78 78.90 L236.73 78.78 L236.69 78.66 L236.64 78.54 L236.59 78.43 L236.54 78.31 L236.50 78.19 L236.45 78.07 L236.41 77.96 L236.36 77.84 L236.32 77.72 L236.27 77.61 L236.23 77.49 L236.18 77.37 L236.14 77.26 L236.10 77.14 L236.05 77.03 L236.01 76.91 L235.97 76.80 L235.93 76.68 L235.89 76.57 L235.85 76.45 L235.81 76.34 L235.77 76.23 L235.73 76.11 L235.69 76.00 L235.65 75.89 L235.61 75.78 L235.57 75.67 L235.53 75.55 L235.50 75.44 L235.46 75.33 L235.42 75.22 L235.39 75.11 L235.35 75.00 L235.32 74.89 L235.28 74.78 L235.25 74.67 L235.21 74.56 L235.18 74.45 L235.14 74.35 L235.11 74.24 L235.08 74.13 L235.05 74.02 L235.01 73.91 L234.98 73.81 L234.95 73.70 L234.92 73.60 L234.89 73.49 L234.86 73.38 L234.83 73.28 L234.80 73.17 L234.77 73.07 L234.74 72.96 L234.71 72.86 L234.68 72.76 L234.65 72.65 L234.62 72.55 L234.60 72.45 L234.57 72.35 L234.54 72.24 L234.52 72.14 L234.49 72.04 L234.46 71.94 L234.44 71.84 L234.41 71.74 L234.39 71.64 L234.36 71.54 L234.34 71.44 L234.32 71.34 L234.29 71.24 L234.27 71.14 L234.25 71.05 L234.22 70.95 L234.20 70.85 L234.18 70.75 L234.16 70.66 L234.13 70.56 L234.11 70.46 L234.09 70.37 L234.07 70.27 L234.05 70.18 L234.03 70.08 L234.01 69.99 L233.99 69.90 L233.97 69.80 L233.95 69.71 L233.94 69.62 L233.92 69.52 L233.90 69.43 L233.88 69.34 L233.86 69.25 L233.85 69.16 L233.83 69.07 L233.81 68.98 L233.80 68.89 L233.78 68.80 L233.76 68.71 L233.75 68.62 L233.73 68.53 L233.72 68.44 L233.70 68.35 L233.69 68.27 L233.67 68.18 L233.66 68.09 L233.65 68.01 L233.63 67.92 L233.62 67.83 L233.61 67.75 L233.59 67.66 L233.58 67.58 L233.57 67.49 L233.56 67.41 L233.55 67.33 L233.53 67.24 L233.52 67.16 L233.51 67.08 L233.50 67.00 L233.49 66.92 L233.48 66.83 L233.47 66.75 L233.46 66.67 L233.45 66.59 L233.44 66.51 L233.43 66.43 L233.42 66.35 L233.41 66.27 L233.40 66.20 L233.40 66.12 L233.39 66.04 L233.38 65.96 L233.37 65.89 L233.36 65.81 L233.36 65.73 L233.35 65.66 L233.34 65.58 L233.34 65.51 L233.33 65.43 L233.32 65.36 L233.32 65.28 L233.31 65.21 L233.31 65.14 L233.30 65.06 L233.29 64.99 L233.29 64.92 L233.28 64.85 L233.28 64.78 L233.27 64.71 L233.27 64.64 L233.27 64.57 L233.26 64.50 L233.26 64.43 L233.25 64.36 L233.25 64.29 L233.25 64.22 L233.24 64.15 L233.24 64.08 L233.24 64.02 L233.23 63.95 L233.23 63.88 L233.23 63.82 L233.23 63.75 L233.23 63.69 L233.22 63.62 L233.22 63.56 L233.22 63.49 L233.22 63.43 L233.22 63.36 L233.22 63.30 L233.22 63.24 L233.21 63.18 L233.21 63.11 L233.21 63.05 L233.21 62.99 L233.21 62.93 L233.21 62.87 L233.21 62.81 L233.21 62.75 L233.21 62.69 L233.21 62.63 L233.21 62.57 L233.21 62.51 L233.21 62.46 L233.21 62.40 L233.22 62.34 L233.22 62.29 L233.22 62.23 L233.22 62.17 L233.22 62.12 L233.22 62.06 L233.22 62.01 L233.23 61.95 L233.23 61.90 L233.23 61.84 L233.23 61.79 L233.23 61.74 L233.24 61.68 L233.24 61.63 L233.24 61.58 L233.24 61.53 L233.25 61.48 L233.25 61.43 L233.25 61.38 L233.25 61.33 L233.26 61.28 L233.26 61.23 L233.26 61.18 L233.27 61.13 L233.27 61.08 L233.27 61.03 L233.28 60.99 L233.28 60.94 L233.29 60.89 L233.29 60.85 L233.29 60.80 L233.30 60.75 L233.30 60.71 L233.30 60.66 L233.31 60.62 L233.31 60.57 L233.32 60.53 L233.32 60.49 L233.33 60.44 L233.33 60.40 L233.33 60.36 L233.34 60.32 L233.34 60.27 L233.35 60.23 L233.35 60.19 L233.36 60.15 L233.36 60.11 L233.37 60.07 L233.37 60.03 L233.38 59.99 L233.38 59.95 L233.39 59.92 L233.39 59.88 L233.40 59.84 L233.40 59.80 L233.41 59.77 L233.41 59.73 L233.42 59.69 L233.42 59.66 L233.43 59.62 L233.43 59.59 L233.44 59.55 L233.44 59.52 L233.45 59.48 L233.46 59.45 L233.46 59.42 L233.47 59.38 L233.47 59.35 L233.48 59.32 L233.48 59.29 L233.49 59.26 L233.49 59.22 L233.50 59.19 L233.50 59.16 L233.51 59.13 L233.52 59.10 L233.52 59.07 L233.53 59.04 L233.53 59.02 L233.54 58.99 L233.54 58.96 L233.55 58.93 L233.55 58.90 L233.56 58.88 L233.56 58.85 L233.57 58.82 L233.58 58.80 L233.58 58.77 L233.59 58.75 L233.59 58.72 L233.60 58.70 L233.60 58.67 L233.61 58.65 L233.61 58.63 L233.62 58.60 L233.62 58.58 L233.63 58.56 L233.63 58.54 L233.64 58.52 L233.64 58.49 L233.65 58.47 L233.65 58.45 L233.66 58.43 L233.66 58.41 L233.67 58.39 L233.67 58.37 L233.68 58.36 L233.68 58.34 L233.69 58.32 L233.69 58.30 L233.70 58.28 L233.70 58.27 L233.71 58.25 L233.71 58.23 L233.72 58.22 L233.72 58.20 L233.72 58.19 L233.73 58.17 L233.73 58.16 L233.74 58.14 L233.74 58.13 L233.75 58.11 L233.75 58.10 L233.75 58.09 L233.76 58.07 L233.76 58.06 L233.76 58.05 L233.77 58.04 L233.77 58.03 L233.77 58.01 L233.78 58.00 L233.78 57.99 L233.78 57.98 L233.79 57.97 L233.79 57.96 L233.79 57.96 L233.80 57.95 L233.80 57.94 L233.80 57.93 L233.80 57.92 L233.81 57.92 L233.81 57.91 L233.81 57.90 L233.81 57.90 L233.82 57.89 L233.82 57.88 L233.82 57.88 L233.82 57.87 L233.82 57.87 L233.83 57.86 L233.83 57.86 L233.83 57.86 L233.83 57.85 L233.83 57.85 L233.83 57.85 L233.83 57.84 L233.83 57.84 L233.83 57.84 L233.83 57.84 L233.84 57.84 L233.84 57.84 L233.84 57.84 L233.84 57.84 L233.84 57.84 L233.84 57.84 L233.84 57.84 L233.83 57.84 L233.83 57.84 L233.83 57.84 L233.83 57.84 L233.83 57.85 L233.83 57.85 L233.83 57.85 L233.83 57.85 L233.83 57.86 L233.82 57.86 L233.82 57.87 L233.82 57.87 L233.82 57.88 L233.82 57.88 L233.81 57.89 L233.81 57.89 L233.81 57.90 L233.81 57.90 L233.80 57.91 L233.80 57.92 L233.80 57.93 L233.79 57.93 L233.79 57.94 L233.79 57.95 L233.78 57.96 L233.78 57.97 L233.77 57.98 L233.77 57.99 L233.76 57.99 L233.76 58.01 L233.75 58.02 L233.75 58.03 L233.74 58.04 L233.74 58.05 L233.73 58.06 L233.73 58.07 L233.72 58.08 L233.71 58.10 L233.71 58.11 L233.70 58.12 L233.69 58.14 L233.69 58.15 L233.68 58.16 L233.67 58.18 L233.67 58.19 L233.66 58.21 L233.65 58.22 L233.64 58.24 L233.63 58.25 L233.62 58.27 L233.62 58.29 L233.61 58.30 L233.60 58.32 L233.59 58.34 L233.58 58.35 L233.57 58.37 L233.56 58.39 L233.55 58.41 L233.54 58.43 L233.53 58.45 L233.52 58.47 L233.51 58.49 L233.49 58.51 L233.48 58.53 L233.47 58.55 L233.46 58.57 L233.45 58.59 L233.44 58.61 L233.42 58.63 L233.41 58.65 L233.40 58.67 L233.38 58.70 L233.37 58.72 L233.36 58.74 L233.34 58.77 L233.33 58.79 L233.31 58.81 L233.30 58.84 L233.28 58.86 L233.27 58.89 L233.25 58.91 L233.24 58.94 L233.22 58.96 L233.20 58.99 L233.19 59.01 L233.17 59.04 L233.15 59.07 L233.14 59.09 L233.12 59.12 L233.10 59.15 L233.08 59.17 L233.07 59.20 L233.05 59.23 L233.03 59.26 L233.01 59.29 L232.99 59.32 L232.97 59.35 L232.95 59.38 L232.93 59.40 L232.91 59.43 L232.89 59.47 L232.87 59.50 L232.85 59.53 L232.83 59.56 L232.80 59.59 L232.78 59.62 L232.76 59.65 L232.74 59.68 L232.71 59.72 L232.69 59.75 L232.67 59.78 L232.64 59.82 L232.62 59.85 L232.60 59.88 L232.57 59.92 L232.55 59.95 L232.52 59.98 L232.50 60.02 L232.47 60.05 L232.44 60.09 L232.42 60.12 L232.39 60.16 L232.36 60.20 L232.34 60.23 L232.31 60.27 L232.28 60.31 L232.25 60.34 L232.22 60.38 L232.19 60.42 L232.17 60.45 L232.14 60.49 L232.11 60.53 L232.08 60.57 L232.05 60.61 L232.01 60.65 L231.98 60.68 L231.95 60.72 L231.92 60.76 L231.89 60.80 L231.86 60.84 L231.82 60.88 L231.79 60.92 L231.76 60.96 L231.72 61.01 L231.69 61.05 L231.65 61.09 L231.62 61.13 L231.58 61.17 L231.55 61.21 L231.51 61.26 L231.48 61.30 L231.44 61.34 L231.40 61.38 L231.37 61.43 L231.33 61.47 L231.29 61.51 L231.25 61.56 L231.21 61.60 L231.17 61.65 L231.13 61.69 L231.10 61.74 L231.05 61.78 L231.01 61.83 L230.97 61.87 L230.93 61.92 L230.89 61.96 L230.85 62.01 L230.81 62.06 L230.76 62.10 L230.72 62.15 L230.68 62.20 L230.63 62.24 L230.59 62.29 L230.54 62.34 L230.50 62.38 L230.45 62.43 L230.41 62.48 L230.36 62.53 L230.32 62.58 L230.27 62.63 L230.22 62.68 L230.17 62.72 L230.13 62.77 L230.08 62.82 L230.03 62.87 L229.98 62.92 L229.93 62.97 L229.88 63.02 L229.83 63.07 L229.78 63.13 L229.73 63.18 L229.67 63.23 L229.62 63.28 L229.57 63.33 L229.52 63.38 L229.46 63.43 L229.41 63.49 L229.35 63.54 L229.30 63.59 L229.24 63.64 L229.19 63.70 L229.13 63.75 L229.08 63.80 L229.02 63.86 L228.96 63.91 L228.90 63.96 L228.85 64.02 L228.79 64.07 L228.73 64.13 L228.67 64.18 L228.61 64.24 L228.55 64.29 L228.49 64.35 L228.43 64.40 L228.36 64.46 L228.30 64.51 L228.24 64.57 L228.18 64.62 L228.11 64.68 L228.05 64.74 L227.98 64.79 L227.92 64.85 L227.85 64.90 L227.79 64.96 L227.72 65.02 L227.66 65.08 L227.59 65.13 L227.52 65.19 L227.45 65.25 L227.38 65.31 L227.31 65.36 L227.24 65.42 L227.17 65.48 L227.10 65.54 L227.03 65.60 L226.96 65.66 L226.89 65.72 L226.82 65.78 L226.74 65.83 L226.67 65.89 L226.60 65.95 L226.52 66.01 L226.45 66.07 L226.37 66.13 L226.29 66.19 L226.22 66.25 L226.14 66.31 L226.06 66.37 L225.98 66.43 L225.91 66.50 L225.83 66.56 L225.75 66.62 L225.67 66.68 L225.59 66.74 L225.51 66.80 L225.42 66.86 L225.34 66.92 L225.26 66.99 L225.18 67.05 L225.09 67.11 L225.01 67.17 L224.92 67.24 L224.84 67.30 L224.75 67.36 L224.66 67.42 L224.58 67.49 L224.49 67.55 L224.40 67.61 L224.31 67.68 L224.22 67.74 L224.13 67.80 L224.04 67.87 L223.95 67.93 L223.86 67.99 L223.77 68.06 L223.68 68.12 L223.58 68.18 L223.49 68.25 L223.40 68.31 L223.30 68.38 L223.21 68.44 L223.11 68.51 L223.01 68.57 L222.92 68.64 L222.82 68.70 L222.72 68.77 L222.62 68.83 L222.52 68.90 L222.42 68.96 L222.32 69.03 L222.22 69.09 L222.12 69.16 L222.02 69.22 L221.91 69.29 L221.81 69.35 L221.71 69.42 L221.60 69.49 L221.50 69.55 L221.39 69.62 L221.28 69.68 L221.18 69.75 L221.07 69.82 L220.96 69.88 L220.85 69.95 L220.74 70.02 L220.63 70.08 L220.52 70.15 L220.41 70.22 L220.30 70.28 L220.18 70.35 L220.07 70.42 L219.96 70.48 L219.84 70.55 L219.73 70.62 L219.61 70.69 L219.49 70.75 L219.38 70.82 L219.26 70.89 L219.14 70.95 L219.02 71.02 L218.90 71.09 L218.78 71.16 L218.66 71.22 L218.54 71.29 L218.42 71.36 L218.29 71.43 L218.17 71.49 L218.05 71.56 L217.92 71.63 L217.80 71.70 L217.67 71.76 L217.54 71.83 L217.41 71.90 L217.29 71.97 L217.16 72.04 L217.03 72.10 L216.90 72.17 L216.77 72.24 L216.63 72.31 L216.50 72.38 L216.37 72.44 L216.24 72.51 L216.10 72.58 L215.97 72.65 L215.83 72.72 L215.69 72.78 L215.56 72.85 L215.42 72.92 L215.28 72.99 L215.14 73.05 L215.00 73.12 L214.86 73.19 L214.72 73.26 L214.58 73.33 L214.43 73.39 L214.29 73.46 L214.15 73.53 L214.00 73.60 L213.85 73.67 L213.71 73.73 L213.56 73.80 L213.41 73.87 L213.26 73.94 L213.12 74.00 L212.97 74.07 L212.81 74.14 L212.66 74.21 L212.51 74.27 L212.36 74.34 L212.20 74.41 L212.05 74.48 L211.89 74.54 L211.74 74.61 L211.58 74.68 L211.42 74.75 L211.27 74.81 L211.11 74.88 L210.95 74.95 L210.79 75.01 L210.63 75.08 L210.46 75.15 L210.30 75.21 L210.14 75.28 L209.97 75.35 L209.81 75.41 L209.64 75.48 L209.48 75.55 L209.31 75.61 L209.14 75.68 L208.97 75.75 L208.80 75.81 L208.63 75.88 L208.46 75.94 L208.29 76.01 L208.12 76.08 L207.94 76.14 L207.77 76.21 L207.59 76.27 L207.42 76.34 L207.24 76.40 L207.06 76.47 L206.88 76.53 L206.71 76.60 L206.53 76.66 L206.35 76.73 L206.16 76.79 L205.98 76.85 L205.80 76.92 L205.62 76.98 L205.43 77.05 L205.25 77.11 L205.06 77.17 L204.87 77.24 L204.68 77.30 L204.50 77.36 L204.31 77.43 L204.12 77.49 L203.93 77.55 L203.73 77.61 L203.54 77.68 L203.35 77.74 L203.15 77.80 L202.96 77.86 L202.76 77.92 L202.57 77.98 L202.37 78.05 L202.17 78.11 L201.97 78.17 L201.77 78.23 L201.57 78.29 L201.37 78.35 L201.17 78.41 L200.97 78.47 L200.76 78.53 L200.56 78.59 L200.35 78.65 L200.15 78.71 L199.94 78.77 L199.73 78.82 L199.52 78.88 L199.31 78.94 L199.10 79.00 L198.89 79.06 L198.68 79.11 L198.47 79.17 L198.25 79.23 L198.04 79.28 L197.83 79.34 L197.61 79.40 L197.39 79.45 L197.18 79.51 L196.96 79.56 L196.74 79.62 L196.52 79.67 L196.30 79.73 L196.08 79.78 L195.86 79.84 L195.63 79.89 L195.41 79.95 L195.18 80.00 L194.96 80.05 L194.73 80.10 L194.51 80.16 L194.28 80.21 L194.05 80.26 L193.82 80.31 L193.59 80.36 L193.36 80.41 L193.13 80.46 L192.90 80.51 L192.67 80.56 L192.43 80.61 L192.20 80.66 L191.96 80.71 L191.73 80.76 L191.49 80.81 L191.25 80.86 L191.02 80.90 L190.78 80.95 L190.54 81.00 L190.30 81.05 L190.06 81.09 L189.81 81.14 L189.57 81.18 L189.33 81.23 L189.09 81.27 L188.84 81.32 L188.60 81.36 L188.35 81.40 L188.10 81.45 L187.86 81.49 L187.61 81.53 L187.36 81.57 L187.11 81.62 L186.86 81.66 L186.61 81.70 L186.36 81.74 L186.11 81.78 L185.86 81.82 L185.60 81.86 L185.35 81.90 L185.10 81.93 L184.84 81.97 L184.59 82.01 L184.33 82.05 L184.07 82.08 L183.82 82.12 L183.56 82.15 L183.30 82.19 L183.04 82.22 L182.78 82.26 L182.52 82.29 L182.26 82.33 L182.00 82.36 L181.74 82.39 L181.48 82.42 L181.22 82.46 L180.95 82.49 L180.69 82.52 L180.43 82.55 L180.16 82.58 L179.90 82.61 L179.63 82.64 L179.37 82.66 L179.10 82.69 L178.84 82.72 L178.57 82.75 L178.30 82.77 L178.03 82.80 L177.77 82.82 L177.50 82.85 L177.23 82.87 L176.96 82.90 L176.69 82.92 L176.42 82.94 L176.15 82.96 L175.88 82.99 L175.61 83.01 L175.34 83.03 L175.07 83.05 L174.80 83.07 L174.52 83.09 L174.25 83.10 L173.98 83.12 L173.71 83.14 L173.43 83.16 L173.16 83.17 L172.89 83.19 L172.62 83.21 L172.34 83.22 L172.07 83.23 L171.79 83.25 L171.52 83.26 L171.25 83.27 L170.97 83.29 L170.70 83.30 L170.42 83.31 L170.15 83.32 L169.88 83.33 L169.60 83.34 L169.33 83.35 L169.05 83.36 L168.78 83.36 L168.50 83.37 L168.23 83.38 L167.96 83.39 L167.68 83.39 L167.41 83.40 L167.13 83.40 L166.86 83.40 L166.59 83.41 L166.31 83.41 L166.04 83.41 L165.76 83.42 L165.49 83.42 L165.22 83.42 L164.95 83.42 M164.95 151.98 L165.22 151.98 L165.49 151.98 L165.76 151.98 L166.04 151.99 L166.31 151.99 L166.59 151.99 L166.86 152.00 L167.13 152.00 L167.41 152.00 L167.68 152.01 L167.96 152.01 L168.23 152.02 L168.50 152.03 L168.78 152.04 L169.05 152.04 L169.33 152.05 L169.60 152.06 L169.88 152.07 L170.15 152.08 L170.42 152.09 L170.70 152.10 L170.97 152.11 L171.25 152.13 L171.52 152.14 L171.79 152.15 L172.07 152.17 L172.34 152.18 L172.62 152.19 L172.89 152.21 L173.16 152.23 L173.43 152.24 L173.71 152.26 L173.98 152.28 L174.25 152.30 L174.52 152.31 L174.80 152.33 L175.07 152.35 L175.34 152.37 L175.61 152.39 L175.88 152.41 L176.15 152.44 L176.42 152.46 L176.69 152.48 L176.96 152.50 L177.23 152.53 L177.50 152.55 L177.77 152.58 L178.03 152.60 L178.30 152.63 L178.57 152.65 L178.84 152.68 L179.10 152.71 L179.37 152.74 L179.63 152.76 L179.90 152.79 L180.16 152.82 L180.43 152.85 L180.69 152.88 L180.95 152.91 L181.22 152.94 L181.48 152.98 L181.74 153.01 L182.00 153.04 L182.26 153.07 L182.52 153.11 L182.78 153.14 L183.04 153.18 L183.30 153.21 L183.56 153.25 L183.82 153.28 L184.07 153.32 L184.33 153.35 L184.59 153.39 L184.84 153.43 L185.10 153.47 L185.35 153.50 L185.60 153.54 L185.86 153.58 L186.11 153.62 L186.36 153.66 L186.61 153.70 L186.86 153.74 L187.11 153.78 L187.36 153.83 L187.61 153.87 L187.86 153.91 L188.10 153.95 L188.35 154.00 L188.60 154.04 L188.84 154.08 L189.09 154.13 L189.33 154.17 L189.57 154.22 L189.81 154.26 L190.06 154.31 L190.30 154.35 L190.54 154.40 L190.78 154.45 L191.02 154.50 L191.25 154.54 L191.49 154.59 L191.73 154.64 L191.96 154.69 L192.20 154.74 L192.43 154.79 L192.67 154.84 L192.90 154.89 L193.13 154.94 L193.36 154.99 L193.59 155.04 L193.82 155.09 L194.05 155.14 L194.28 155.19 L194.51 155.24 L194.73 155.30 L194.96 155.35 L195.18 155.40 L195.41 155.45 L195.63 155.51 L195.86 155.56 L196.08 155.62 L196.30 155.67 L196.52 155.73 L196.74 155.78 L196.96 155.84 L197.18 155.89 L197.39 155.95 L197.61 156.00 L197.83 156.06 L198.04 156.12 L198.25 156.17 L198.47 156.23 L198.68 156.29 L198.89 156.34 L199.10 156.40 L199.31 156.46 L199.52 156.52 L199.73 156.58 L199.94 156.63 L200.15 156.69 L200.35 156.75 L200.56 156.81 L200.76 156.87 L200.97 156.93 L201.17 156.99 L201.37 157.05 L201.57 157.11 L201.77 157.17 L201.97 157.23 L202.17 157.29 L202.37 157.35 L202.57 157.42 L202.76 157.48 L202.96 157.54 L203.15 157.60 L203.35 157.66 L203.54 157.72 L203.73 157.79 L203.93 157.85 L204.12 157.91 L204.31 157.97 L204.50 158.04 L204.68 158.10 L204.87 158.16 L205.06 158.23 L205.25 158.29 L205.43 158.35 L205.62 158.42 L205.80 158.48 L205.98 158.55 L206.16 158.61 L206.35 158.67 L206.53 158.74 L206.71 158.80 L206.88 158.87 L207.06 158.93 L207.24 159.00 L207.42 159.06 L207.59 159.13 L207.77 159.19 L207.94 159.26 L208.12 159.32 L208.29 159.39 L208.46 159.46 L208.63 159.52 L208.80 159.59 L208.97 159.65 L209.14 159.72 L209.31 159.79 L209.48 159.85 L209.64 159.92 L209.81 159.99 L209.97 160.05 L210.14 160.12 L210.30 160.19 L210.46 160.25 L210.63 160.32 L210.79 160.39 L210.95 160.45 L211.11 160.52 L211.27 160.59 L211.42 160.65 L211.58 160.72 L211.74 160.79 L211.89 160.86 L212.05 160.92 L212.20 160.99 L212.36 161.06 L212.51 161.13 L212.66 161.19 L212.81 161.26 L212.97 161.33 L213.12 161.40 L213.26 161.46 L213.41 161.53 L213.56 161.60 L213.71 161.67 L213.85 161.73 L214.00 161.80 L214.15 161.87 L214.29 161.94 L214.43 162.01 L214.58 162.07 L214.72 162.14 L214.86 162.21 L215.00 162.28 L215.14 162.35 L215.28 162.41 L215.42 162.48 L215.56 162.55 L215.69 162.62 L215.83 162.68 L215.97 162.75 L216.10 162.82 L216.24 162.89 L216.37 162.96 L216.50 163.02 L216.63 163.09 L216.77 163.16 L216.90 163.23 L217.03 163.30 L217.16 163.36 L217.29 163.43 L217.41 163.50 L217.54 163.57 L217.67 163.64 L217.80 163.70 L217.92 163.77 L218.05 163.84 L218.17 163.91 L218.29 163.97 L218.42 164.04 L218.54 164.11 L218.66 164.18 L218.78 164.24 L218.90 164.31 L219.02 164.38 L219.14 164.45 L219.26 164.51 L219.38 164.58 L219.49 164.65 L219.61 164.71 L219.73 164.78 L219.84 164.85 L219.96 164.92 L220.07 164.98 L220.18 165.05 L220.30 165.12 L220.41 165.18 L220.52 165.25 L220.63 165.32 L220.74 165.38 L220.85 165.45 L220.96 165.52 L221.07 165.58 L221.18 165.65 L221.28 165.72 L221.39 165.78 L221.50 165.85 L221.60 165.91 L221.71 165.98 L221.81 166.05 L221.91 166.11 L222.02 166.18 L222.12 166.24 L222.22 166.31 L222.32 166.37 L222.42 166.44 L222.52 166.50 L222.62 166.57 L222.72 166.63 L222.82 166.70 L222.92 166.76 L223.01 166.83 L223.11 166.89 L223.21 166.96 L223.30 167.02 L223.40 167.09 L223.49 167.15 L223.58 167.22 L223.68 167.28 L223.77 167.34 L223.86 167.41 L223.95 167.47 L224.04 167.53 L224.13 167.60 L224.22 167.66 L224.31 167.72 L224.40 167.79 L224.49 167.85 L224.58 167.91 L224.66 167.98 L224.75 168.04 L224.84 168.10 L224.92 168.16 L225.01 168.23 L225.09 168.29 L225.18 168.35 L225.26 168.41 L225.34 168.48 L225.42 168.54 L225.51 168.60 L225.59 168.66 L225.67 168.72 L225.75 168.78 L225.83 168.84 L225.91 168.90 L225.98 168.97 L226.06 169.03 L226.14 169.09 L226.22 169.15 L226.29 169.21 L226.37 169.27 L226.45 169.33 L226.52 169.39 L226.60 169.45 L226.67 169.51 L226.74 169.57 L226.82 169.62 L226.89 169.68 L226.96 169.74 L227.03 169.80 L227.10 169.86 L227.17 169.92 L227.24 169.98 L227.31 170.04 L227.38 170.09 L227.45 170.15 L227.52 170.21 L227.59 170.27 L227.66 170.32 L227.72 170.38 L227.79 170.44 L227.85 170.50 L227.92 170.55 L227.98 170.61 L228.05 170.66 L228.11 170.72 L228.18 170.78 L228.24 170.83 L228.30 170.89 L228.36 170.94 L228.43 171.00 L228.49 171.05 L228.55 171.11 L228.61 171.16 L228.67 171.22 L228.73 171.27 L228.79 171.33 L228.85 171.38 L228.90 171.44 L228.96 171.49 L229.02 171.54 L229.08 171.60 L229.13 171.65 L229.19 171.70 L229.24 171.76 L229.30 171.81 L229.35 171.86 L229.41 171.91 L229.46 171.97 L229.52 172.02 L229.57 172.07 L229.62 172.12 L229.67 172.17 L229.73 172.22 L229.78 172.27 L229.83 172.33 L229.88 172.38 L229.93 172.43 L229.98 172.48 L230.03 172.53 L230.08 172.58 L230.13 172.63 L230.17 172.68 L230.22 172.72 L230.27 172.77 L230.32 172.82 L230.36 172.87 L230.41 172.92 L230.45 172.97 L230.50 173.02 L230.54 173.06 L230.59 173.11 L230.63 173.16 L230.68 173.20 L230.72 173.25 L230.76 173.30 L230.81 173.34 L230.85 173.39 L230.89 173.44 L230.93 173.48 L230.97 173.53 L231.01 173.57 L231.05 173.62 L231.10 173.66 L231.13 173.71 L231.17 173.75 L231.21 173.80 L231.25 173.84 L231.29 173.89 L231.33 173.93 L231.37 173.97 L231.40 174.02 L231.44 174.06 L231.48 174.10 L231.51 174.14 L231.55 174.19 L231.58 174.23 L231.62 174.27 L231.65 174.31 L231.69 174.35 L231.72 174.39 L231.76 174.44 L231.79 174.48 L231.82 174.52 L231.86 174.56 L231.89 174.60 L231.92 174.64 L231.95 174.68 L231.98 174.72 L232.01 174.75 L232.05 174.79 L232.08 174.83 L232.11 174.87 L232.14 174.91 L232.17 174.95 L232.19 174.98 L232.22 175.02 L232.25 175.06 L232.28 175.09 L232.31 175.13 L232.34 175.17 L232.36 175.20 L232.39 175.24 L232.42 175.28 L232.44 175.31 L232.47 175.35 L232.50 175.38 L232.52 175.42 L232.55 175.45 L232.57 175.48 L232.60 175.52 L232.62 175.55 L232.64 175.58 L232.67 175.62 L232.69 175.65 L232.71 175.68 L232.74 175.72 L232.76 175.75 L232.78 175.78 L232.80 175.81 L232.83 175.84 L232.85 175.87 L232.87 175.90 L232.89 175.93 L232.91 175.97 L232.93 176.00 L232.95 176.02 L232.97 176.05 L232.99 176.08 L233.01 176.11 L233.03 176.14 L233.05 176.17 L233.07 176.20 L233.08 176.23 L233.10 176.25 L233.12 176.28 L233.14 176.31 L233.15 176.33 L233.17 176.36 L233.19 176.39 L233.20 176.41 L233.22 176.44 L233.24 176.46 L233.25 176.49 L233.27 176.51 L233.28 176.54 L233.30 176.56 L233.31 176.59 L233.33 176.61 L233.34 176.63 L233.36 176.66 L233.37 176.68 L233.38 176.70 L233.40 176.73 L233.41 176.75 L233.42 176.77 L233.44 176.79 L233.45 176.81 L233.46 176.83 L233.47 176.85 L233.48 176.87 L233.49 176.89 L233.51 176.91 L233.52 176.93 L233.53 176.95 L233.54 176.97 L233.55 176.99 L233.56 177.01 L233.57 177.03 L233.58 177.05 L233.59 177.06 L233.60 177.08 L233.61 177.10 L233.62 177.11 L233.62 177.13 L233.63 177.15 L233.64 177.16 L233.65 177.18 L233.66 177.19 L233.67 177.21 L233.67 177.22 L233.68 177.24 L233.69 177.25 L233.69 177.26 L233.70 177.28 L233.71 177.29 L233.71 177.30 L233.72 177.32 L233.73 177.33 L233.73 177.34 L233.74 177.35 L233.74 177.36 L233.75 177.37 L233.75 177.38 L233.76 177.39 L233.76 177.41 L233.77 177.41 L233.77 177.42 L233.78 177.43 L233.78 177.44 L233.79 177.45 L233.79 177.46 L233.79 177.47 L233.80 177.47 L233.80 177.48 L233.80 177.49 L233.81 177.50 L233.81 177.50 L233.81 177.51 L233.81 177.51 L233.82 177.52 L233.82 177.52 L233.82 177.53 L233.82 177.53 L233.82 177.54 L233.83 177.54 L233.83 177.55 L233.83 177.55 L233.83 177.55 L233.83 177.55 L233.83 177.56 L233.83 177.56 L233.83 177.56 L233.83 177.56 L233.84 177.56 L233.84 177.56 L233.84 177.56 L233.84 177.56 L233.84 177.56 L233.84 177.56 L233.84 177.56 L233.83 177.56 L233.83 177.56 L233.83 177.56 L233.83 177.56 L233.83 177.55 L233.83 177.55 L233.83 177.55 L233.83 177.54 L233.83 177.54 L233.83 177.54 L233.82 177.53 L233.82 177.53 L233.82 177.52 L233.82 177.52 L233.82 177.51 L233.81 177.50 L233.81 177.50 L233.81 177.49 L233.81 177.48 L233.80 177.48 L233.80 177.47 L233.80 177.46 L233.80 177.45 L233.79 177.44 L233.79 177.44 L233.79 177.43 L233.78 177.42 L233.78 177.41 L233.78 177.40 L233.77 177.39 L233.77 177.37 L233.77 177.36 L233.76 177.35 L233.76 177.34 L233.76 177.33 L233.75 177.31 L233.75 177.30 L233.75 177.29 L233.74 177.27 L233.74 177.26 L233.73 177.24 L233.73 177.23 L233.72 177.21 L233.72 177.20 L233.72 177.18 L233.71 177.17 L233.71 177.15 L233.70 177.13 L233.70 177.12 L233.69 177.10 L233.69 177.08 L233.68 177.06 L233.68 177.04 L233.67 177.03 L233.67 177.01 L233.66 176.99 L233.66 176.97 L233.65 176.95 L233.65 176.93 L233.64 176.91 L233.64 176.88 L233.63 176.86 L233.63 176.84 L233.62 176.82 L233.62 176.80 L233.61 176.77 L233.61 176.75 L233.60 176.73 L233.60 176.70 L233.59 176.68 L233.59 176.65 L233.58 176.63 L233.58 176.60 L233.57 176.58 L233.56 176.55 L233.56 176.52 L233.55 176.50 L233.55 176.47 L233.54 176.44 L233.54 176.41 L233.53 176.38 L233.53 176.36 L233.52 176.33 L233.52 176.30 L233.51 176.27 L233.50 176.24 L233.50 176.21 L233.49 176.18 L233.49 176.14 L233.48 176.11 L233.48 176.08 L233.47 176.05 L233.47 176.02 L233.46 175.98 L233.46 175.95 L233.45 175.92 L233.44 175.88 L233.44 175.85 L233.43 175.81 L233.43 175.78 L233.42 175.74 L233.42 175.71 L233.41 175.67 L233.41 175.63 L233.40 175.60 L233.40 175.56 L233.39 175.52 L233.39 175.48 L233.38 175.45 L233.38 175.41 L233.37 175.37 L233.37 175.33 L233.36 175.29 L233.36 175.25 L233.35 175.21 L233.35 175.17 L233.34 175.13 L233.34 175.08 L233.33 175.04 L233.33 175.00 L233.33 174.96 L233.32 174.91 L233.32 174.87 L233.31 174.83 L233.31 174.78 L233.30 174.74 L233.30 174.69 L233.30 174.65 L233.29 174.60 L233.29 174.55 L233.29 174.51 L233.28 174.46 L233.28 174.41 L233.27 174.37 L233.27 174.32 L233.27 174.27 L233.26 174.22 L233.26 174.17 L233.26 174.12 L233.25 174.07 L233.25 174.02 L233.25 173.97 L233.25 173.92 L233.24 173.87 L233.24 173.82 L233.24 173.77 L233.24 173.72 L233.23 173.66 L233.23 173.61 L233.23 173.56 L233.23 173.50 L233.23 173.45 L233.22 173.39 L233.22 173.34 L233.22 173.28 L233.22 173.23 L233.22 173.17 L233.22 173.11 L233.22 173.06 L233.21 173.00 L233.21 172.94 L233.21 172.89 L233.21 172.83 L233.21 172.77 L233.21 172.71 L233.21 172.65 L233.21 172.59 L233.21 172.53 L233.21 172.47 L233.21 172.41 L233.21 172.35 L233.21 172.29 L233.21 172.22 L233.22 172.16 L233.22 172.10 L233.22 172.04 L233.22 171.97 L233.22 171.91 L233.22 171.84 L233.22 171.78 L233.23 171.71 L233.23 171.65 L233.23 171.58 L233.23 171.52 L233.23 171.45 L233.24 171.38 L233.24 171.32 L233.24 171.25 L233.25 171.18 L233.25 171.11 L233.25 171.04 L233.26 170.97 L233.26 170.90 L233.27 170.83 L233.27 170.76 L233.27 170.69 L233.28 170.62 L233.28 170.55 L233.29 170.48 L233.29 170.41 L233.30 170.34 L233.31 170.26 L233.31 170.19 L233.32 170.12 L233.32 170.04 L233.33 169.97 L233.34 169.89 L233.34 169.82 L233.35 169.74 L233.36 169.67 L233.36 169.59 L233.37 169.51 L233.38 169.44 L233.39 169.36 L233.40 169.28 L233.40 169.20 L233.41 169.13 L233.42 169.05 L233.43 168.97 L233.44 168.89 L233.45 168.81 L233.46 168.73 L233.47 168.65 L233.48 168.57 L233.49 168.48 L233.50 168.40 L233.51 168.32 L233.52 168.24 L233.53 168.16 L233.55 168.07 L233.56 167.99 L233.57 167.91 L233.58 167.82 L233.59 167.74 L233.61 167.65 L233.62 167.57 L233.63 167.48 L233.65 167.39 L233.66 167.31 L233.67 167.22 L233.69 167.13 L233.70 167.05 L233.72 166.96 L233.73 166.87 L233.75 166.78 L233.76 166.69 L233.78 166.60 L233.80 166.51 L233.81 166.42 L233.83 166.33 L233.85 166.24 L233.86 166.15 L233.88 166.06 L233.90 165.97 L233.92 165.88 L233.94 165.78 L233.95 165.69 L233.97 165.60 L233.99 165.50 L234.01 165.41 L234.03 165.32 L234.05 165.22 L234.07 165.13 L234.09 165.03 L234.11 164.94 L234.13 164.84 L234.16 164.74 L234.18 164.65 L234.20 164.55 L234.22 164.45 L234.25 164.35 L234.27 164.26 L234.29 164.16 L234.32 164.06 L234.34 163.96 L234.36 163.86 L234.39 163.76 L234.41 163.66 L234.44 163.56 L234.46 163.46 L234.49 163.36 L234.52 163.26 L234.54 163.16 L234.57 163.05 L234.60 162.95 L234.62 162.85 L234.65 162.75 L234.68 162.64 L234.71 162.54 L234.74 162.44 L234.77 162.33 L234.80 162.23 L234.83 162.12 L234.86 162.02 L234.89 161.91 L234.92 161.80 L234.95 161.70 L234.98 161.59 L235.01 161.49 L235.05 161.38 L235.08 161.27 L235.11 161.16 L235.14 161.05 L235.18 160.95 L235.21 160.84 L235.25 160.73 L235.28 160.62 L235.32 160.51 L235.35 160.40 L235.39 160.29 L235.42 160.18 L235.46 160.07 L235.50 159.96 L235.53 159.85 L235.57 159.73 L235.61 159.62 L235.65 159.51 L235.69 159.40 L235.73 159.29 L235.77 159.17 L235.81 159.06 L235.85 158.95 L235.89 158.83 L235.93 158.72 L235.97 158.60 L236.01 158.49 L236.05 158.37 L236.10 158.26 L236.14 158.14 L236.18 158.03 L236.23 157.91 L236.27 157.79 L236.32 157.68 L236.36 157.56 L236.41 157.44 L236.45 157.33 L236.50 157.21 L236.54 157.09 L236.59 156.97 L236.64 156.86 L236.69 156.74 L236.73 156.62 L236.78 156.50 L236.83 156.38 L236.88 156.26 L236.93 156.14 L236.98 156.02 L237.03 155.90 L237.08 155.78 L237.13 155.66 L237.18 155.54 L237.24 155.42 L237.29 155.30 L237.34 155.17 L237.40 155.05 L237.45 154.93 L237.50 154.81 L237.56 154.69 L237.61 154.56 L237.67 154.44 L237.72 154.32 L237.78 154.20 L237.84 154.07 L237.89 153.95 L237.95 153.83 L238.01 153.70 L238.07 153.58 L238.13 153.45 L238.19 153.33 L238.24 153.20 L238.30 153.08 L238.37 152.96 L238.43 152.83 L238.49 152.71 L238.55 152.58 L238.61 152.45 L238.67 152.33 L238.74 152.20 L238.80 152.08 L238.86 151.95 L238.93 151.82 L238.99 151.70 L239.06 151.57 L239.12 151.45 L239.19 151.32 L239.25 151.19 L239.32 151.06 L239.39 150.94 L239.45 150.81 L239.52 150.68 L239.59 150.56 L239.66 150.43 L239.73 150.30 L239.80 150.17 L239.87 150.04 L239.94 149.92 L240.01 149.79 L240.08 149.66 L240.15 149.53 L240.22 149.40 L240.29 149.28 L240.37 149.15 L240.44 149.02 L240.51 148.89 L240.59 148.76 L240.66 148.63 L240.74 148.50 L240.81 148.37 L240.89 148.25 L240.96 148.12 L241.04 147.99 L241.12 147.86 L241.19 147.73 L241.27 147.60 L241.35 147.47 L241.43 147.34 L241.51 147.21 L241.58 147.08 L241.66 146.95 L241.74 146.83 L241.82 146.70 L241.91 146.57 L241.99 146.44 L242.07 146.31 L242.15 146.18 L242.23 146.05 L242.31 145.92 L242.40 145.79 L242.48 145.66 L242.56 145.53 L242.65 145.40 L242.73 145.28 L242.82 145.15 L242.90 145.02 L242.99 144.89 L243.08 144.76 L243.16 144.63 L243.25 144.50 L243.34 144.37 L243.42 144.24 L243.51 144.12 L243.60 143.99 L243.69 143.86 L243.78 143.73 L243.87 143.60 L243.95 143.47 L244.04 143.34 L244.13 143.22 L244.23 143.09 L244.32 142.96 L244.41 142.83 L244.50 142.71 L244.59 142.58 L244.68 142.45 L244.78 142.32 L244.87 142.20 L244.96 142.07 L245.06 141.94 L245.15 141.81 L245.24 141.69 L245.34 141.56 L245.43 141.43 L245.53 141.31 L245.62 141.18 L245.72 141.06 L245.82 140.93 L245.91 140.80 L246.01 140.68 L246.11 140.55 L246.20 140.43 L246.30 140.30 L246.40 140.18 L246.50 140.05 L246.60 139.93 L246.70 139.80 L246.79 139.68 L246.89 139.56 L246.99 139.43 L247.09 139.31 L247.19 139.19 L247.29 139.06 L247.39 138.94 L247.50 138.82 L247.60 138.69 L247.70 138.57 L247.80 138.45 L247.90 138.33 L248.00 138.21 L248.11 138.08 L248.21 137.96 L248.31 137.84 L248.42 137.72 L248.52 137.60 L248.62 137.48 L248.73 137.36 L248.83 137.24 L248.93 137.12 L249.04 137.00 L249.14 136.88 L249.25 136.77 L249.35 136.65 L249.46 136.53 L249.56 136.41 L249.67 136.29 L249.78 136.18 L249.88 136.06 L249.99 135.94 L250.10 135.83 L250.20 135.71 L250.31 135.60 L250.42 135.48 L250.52 135.36 L250.63 135.25 L250.74 135.14 L250.85 135.02 L250.95 134.91 L251.06 134.79 L251.17 134.68 L251.28 134.57 L251.39 134.45 L251.50 134.34 L251.60 134.23 L251.71 134.12 L251.82 134.01 L251.93 133.90 L252.04 133.79 L252.15 133.67 L252.26 133.56 L252.37 133.46 L252.48 133.35 L252.59 133.24 L252.70 133.13 L252.81 133.02 L252.92 132.91 L253.03 132.80 L253.14 132.70 L253.25 132.59 L253.36 132.48 L253.47 132.38 L253.58 132.27 L253.69 132.17 L253.80 132.06 L253.91 131.96 L254.03 131.85 L254.14 131.75 L254.25 131.65 L254.36 131.54 L254.47 131.44 L254.58 131.34 L254.69 131.24 L254.80 131.13 L254.92 131.03 L255.03 130.93 L255.14 130.83 L255.25 130.73 L255.36 130.63 L255.47 130.53 L255.58 130.43 L255.70 130.34 L255.81 130.24 L255.92 130.14 L256.03 130.04 L256.14 129.95 L256.25 129.85 L256.37 129.75 L256.48 129.66 L256.59 129.56 L256.70 129.47 L256.81 129.37 L256.92 129.28 L257.04 129.19 L257.15 129.09 L257.26 129.00 L257.37 128.91 L257.48 128.82 L257.59 128.72 L257.70 128.63 L257.82 128.54 L257.93 128.45 L258.04 128.36 L258.15 128.27 L258.26 128.18 L258.37 128.10 L258.48 128.01 L258.59 127.92 L258.70 127.83 L258.82 127.75 L258.93 127.66 L259.04 127.57 L259.15 127.49 L259.26 127.40 L259.37 127.32 L259.48 127.23 L259.59 127.15 L259.70 127.07 L259.81 126.98 L259.92 126.90 L260.03 126.82 L260.14 126.74 L260.25 126.66 L260.36 126.58 L260.47 126.50 L260.58 126.42 L260.69 126.34 L260.80 126.26 L260.90 126.18 L261.01 126.10 L261.12 126.02 L261.23 125.94 L261.34 125.87 L261.45 125.79 L261.56 125.71 L261.66 125.64 L261.77 125.56 L261.88 125.49 L261.99 125.41 L262.09 125.34 L262.20 125.27 L262.31 125.19 L262.42 125.12 L262.52 125.05 L262.63 124.98 L262.74 124.91 L262.84 124.83 L262.95 124.76 L263.05 124.69 L263.16 124.62 L263.27 124.56 L263.37 124.49 L263.48 124.42 L263.58 124.35 L263.69 124.28 L263.79 124.22 L263.90 124.15 L264.00 124.08 L264.10 124.02 L264.21 123.95 L264.31 123.89 L264.42 123.82 L264.52 123.76 L264.62 123.69 L264.72 123.63 L264.83 123.57 L264.93 123.51 L265.03 123.44 L265.13 123.38 L265.24 123.32 L265.34 123.26 L265.44 123.20 L265.54 123.14 L265.64 123.08 L265.74 123.02 L265.84 122.96 L265.94 122.90 L266.04 122.85 L266.14 122.79 L266.24 122.73 L266.34 122.67 L266.44 122.62 L266.54 122.56 L266.64 122.51 L266.74 122.45 L266.83 122.40 L266.93 122.34 L267.03 122.29 L267.13 122.24 L267.22 122.18 L267.32 122.13 L267.42 122.08 L267.51 122.03 L267.61 121.97 L267.70 121.92 L267.80 121.87 L267.90 121.82 L267.99 121.77 L268.08 121.72 L268.18 121.67 L268.27 121.62 L268.37 121.58 L268.46 121.53 L268.55 121.48 L268.65 121.43 L268.74 121.39 L268.83 121.34 L268.92 121.29 L269.02 121.25 L269.11 121.20 L269.20 121.16 L269.29 121.11 L269.38 121.07 L269.47 121.03 L269.56 120.98 L269.65 120.94 L269.74 120.90 L269.83 120.85 L269.92 120.81 L270.01 120.77 L270.09 120.73 L270.18 120.69 L270.27 120.65 L270.36 120.61 L270.44 120.57 L270.53 120.53 L270.62 120.49 L270.70 120.45 L270.79 120.41 L270.87 120.37 L270.96 120.34 L271.04 120.30 L271.13 120.26 L271.21 120.23 L271.29 120.19 L271.38 120.15 L271.46 120.12 L271.54 120.08 L271.63 120.05 L271.71 120.01 L271.79 119.98 L271.87 119.94 L271.95 119.91 L272.03 119.88 L272.11 119.84 L272.19 119.81 L272.27 119.78 L272.35 119.75 L272.43 119.72 L272.51 119.69 L272.59 119.65 L272.66 119.62 L272.74 119.59 L272.82 119.56 L272.90 119.53 L272.97 119.50 L273.05 119.47 L273.12 119.45 L273.20 119.42 L273.27 119.39 L273.35 119.36 L273.42 119.33 L273.50 119.31 L273.57 119.28 L273.64 119.25 L273.72 119.23 L273.79 119.20 L273.86 119.18 L273.93 119.15 L274.00 119.12 L274.08 119.10 L274.15 119.08 L274.22 119.05 L274.29 119.03 L274.36 119.00 L274.43 118.98 L274.49 118.96 L274.56 118.93 L274.63 118.91 L274.70 118.89 L274.77 118.87 L274.83 118.84 L274.90 118.82 L274.96 118.80 L275.03 118.78 L275.10 118.76 L275.16 118.74 L275.23 118.72 L275.29 118.70 L275.35 118.68 L275.42 118.66 L275.48 118.64 L275.54 118.62 L275.61 118.60 L275.67 118.59 L275.73 118.57 L275.79 118.55 L275.85 118.53 L275.91 118.51 L275.97 118.50 L276.03 118.48 L276.09 118.46 L276.15 118.45 L276.21 118.43 L276.26 118.42 L276.32 118.40 L276.38 118.38 L276.44 118.37 L276.49 118.35 L276.55 118.34 L276.60 118.32 L276.66 118.31 L276.71 118.30 L276.77 118.28 L276.82 118.27 L276.88 118.25 L276.93 118.24 L276.98 118.23 L277.03 118.22 L277.09 118.20 L277.14 118.19 L277.19 118.18 L277.24 118.17 L277.29 118.15 L277.34 118.14 L277.39 118.13 L277.44 118.12 L277.49 118.11 L277.53 118.10 L277.58 118.09 L277.63 118.08 L277.68 118.07 L277.72 118.06 L277.77 118.05 L277.81 118.04 L277.86 118.03 L277.90 118.02 L277.95 118.01 L277.99 118.00 L278.04 117.99 L278.08 117.98 L278.12 117.97 L278.16 117.97 L278.21 117.96 L278.25 117.95 L278.29 117.94 L278.33 117.93 L278.37 117.93 L278.41 117.92 L278.45 117.91 L278.49 117.91 L278.53 117.90 L278.57 117.89 L278.60 117.89 L278.64 117.88 L278.68 117.87 L278.71 117.87 L278.75 117.86 L278.79 117.85 L278.82 117.85 L278.86 117.84 L278.89 117.84 L278.92 117.83 L278.96 117.83 L278.99 117.82 L279.02 117.82 L279.05 117.81 L279.09 117.81 L279.12 117.80 L279.15 117.80 L279.18 117.80 L279.21 117.79 L279.24 117.79 L279.27 117.78 L279.30 117.78 L279.32 117.78 L279.35 117.77 L279.38 117.77 L279.41 117.77 L279.43 117.76 L279.46 117.76 L279.49 117.76 L279.51 117.75 L279.54 117.75 L279.56 117.75 L279.58 117.75 L279.61 117.74 L279.63 117.74 L279.65 117.74 L279.68 117.74 L279.70 117.73 L279.72 117.73 L279.74 117.73 L279.76 117.73 L279.78 117.73 L279.80 117.72 L279.82 117.72 L279.84 117.72 L279.86 117.72 L279.87 117.72 L279.89 117.72 L279.91 117.72 L279.92 117.71 L279.94 117.71 L279.96 117.71 L279.97 117.71 L279.99 117.71 L280.00 117.71 L280.01 117.71 L280.03 117.71 L280.04 117.71 L280.05 117.71 L280.07 117.71 L280.08 117.71 L280.09 117.70 L280.10 117.70 L280.11 117.70 L280.12 117.70 L280.13 117.70 L280.14 117.70 L280.15 117.70 L280.15 117.70 L280.16 117.70 L280.17 117.70 L280.18 117.70 L280.18 117.70 L280.19 117.70 L280.19 117.70 L280.20 117.70 L280.20 117.70 L280.21 117.70 L280.21 117.70 L280.22 117.70 L280.22 117.70 L280.22 117.70 L280.22 117.70 L280.22 117.70 L280.23 117.70 L280.23 117.70 L280.23 117.70 M164.95 83.42 L164.67 83.42 L164.40 83.42 L164.13 83.42 L163.86 83.41 L163.58 83.41 L163.31 83.41 L163.04 83.40 L162.77 83.40 L162.50 83.40 L162.23 83.39 L161.96 83.39 L161.69 83.38 L161.42 83.37 L161.15 83.37 L160.88 83.36 L160.61 83.35 L160.34 83.34 L160.08 83.33 L159.81 83.32 L159.54 83.31 L159.28 83.30 L159.01 83.29 L158.75 83.28 L158.48 83.27 L158.22 83.25 L157.95 83.24 L157.69 83.23 L157.43 83.21 L157.17 83.20 L156.90 83.18 L156.64 83.17 L156.38 83.15 L156.12 83.13 L155.86 83.11 L155.60 83.10 L155.35 83.08 L155.09 83.06 L154.83 83.04 L154.58 83.02 L154.32 83.00 L154.07 82.98 L153.81 82.96 L153.56 82.94 L153.31 82.92 L153.05 82.89 L152.80 82.87 L152.55 82.85 L152.30 82.83 L152.05 82.80 L151.81 82.78 L151.56 82.75 L151.31 82.73 L151.07 82.70 L150.82 82.68 L150.58 82.65 L150.33 82.62 L150.09 82.59 L149.85 82.57 L149.61 82.54 L149.37 82.51 L149.13 82.48 L148.89 82.45 L148.66 82.42 L148.42 82.39 L148.18 82.36 L147.95 82.33 L147.72 82.30 L147.48 82.27 L147.25 82.24 L147.02 82.21 L146.79 82.17 L146.56 82.14 L146.33 82.11 L146.11 82.08 L145.88 82.04 L145.66 82.01 L145.43 81.97 L145.21 81.94 L144.99 81.90 L144.77 81.87 L144.55 81.83 L144.33 81.80 L144.11 81.76 L143.89 81.73 L143.68 81.69 L143.46 81.65 L143.25 81.62 L143.03 81.58 L142.82 81.54 L142.61 81.50 L142.40 81.47 L142.19 81.43 L141.99 81.39 L141.78 81.35 L141.57 81.31 L141.37 81.27 L141.17 81.23 L140.97 81.19 L140.76 81.15 L140.56 81.11 L140.37 81.07 L140.17 81.03 L139.97 80.99 L139.78 80.95 L139.58 80.91 L139.39 80.87 L139.20 80.83 L139.00 80.79 L138.81 80.75 L138.63 80.70 L138.44 80.66 L138.25 80.62 L138.07 80.58 L137.88 80.54 L137.70 80.49 L137.52 80.45 L137.34 80.41 L137.16 80.37 L136.98 80.32 L136.80 80.28 L136.62 80.24 L136.45 80.19 L136.27 80.15 L136.10 80.11 L135.93 80.06 L135.76 80.02 L135.59 79.98 L135.42 79.93 L135.25 79.89 L135.09 79.85 L134.92 79.80 L134.76 79.76 L134.60 79.72 L134.43 79.67 L134.27 79.63 L134.11 79.58 L133.96 79.54 L133.80 79.50 L133.64 79.45 L133.49 79.41 L133.34 79.36 L133.18 79.32 L133.03 79.28 L132.88 79.23 L132.73 79.19 L132.59 79.14 L132.44 79.10 L132.29 79.06 L132.15 79.01 L132.01 78.97 L131.86 78.93 L131.72 78.88 L131.58 78.84 L131.45 78.79 L131.31 78.75 L131.17 78.71 L131.04 78.66 L130.90 78.62 L130.77 78.58 L130.64 78.53 L130.51 78.49 L130.38 78.45 L130.25 78.41 L130.12 78.36 L130.00 78.32 L129.87 78.28 L129.75 78.23 L129.63 78.19 L129.50 78.15 L129.38 78.11 L129.26 78.07 L129.15 78.02 L129.03 77.98 L128.91 77.94 L128.80 77.90 L128.68 77.86 L128.57 77.82 L128.46 77.77 L128.35 77.73 L128.24 77.69 L128.13 77.65 L128.02 77.61 L127.92 77.57 L127.81 77.53 L127.71 77.49 L127.61 77.45 L127.50 77.41 L127.40 77.37 L127.30 77.33 L127.20 77.29 L127.11 77.25 L127.01 77.22 L126.92 77.18 L126.82 77.14 L126.73 77.10 L126.64 77.06 L126.54 77.03 L126.45 76.99 L126.37 76.95 L126.28 76.91 L126.19 76.88 L126.10 76.84 L126.02 76.81 L125.94 76.77 L125.85 76.73 L125.77 76.70 L125.69 76.66 L125.61 76.63 L125.53 76.59 L125.45 76.56 L125.38 76.52 L125.30 76.49 L125.23 76.46 L125.15 76.42 L125.08 76.39 L125.01 76.36 L124.94 76.33 L124.87 76.29 L124.80 76.26 L124.73 76.23 L124.67 76.20 L124.60 76.17 L124.54 76.14 L124.47 76.11 L124.41 76.08 L124.35 76.05 L124.29 76.02 L124.23 75.99 L124.17 75.96 L124.11 75.93 L124.05 75.90 L124.00 75.87 L123.94 75.85 L123.89 75.82 L123.84 75.79 L123.78 75.77 L123.73 75.74 L123.68 75.71 L123.63 75.69 L123.58 75.66 L123.54 75.64 L123.49 75.61 L123.44 75.59 L123.40 75.57 L123.36 75.54 L123.31 75.52 L123.27 75.50 L123.23 75.48 L123.19 75.45 L123.15 75.43 L123.11 75.41 L123.07 75.39 L123.04 75.37 L123.00 75.35 L122.96 75.33 L122.93 75.31 L122.90 75.29 L122.86 75.27 L122.83 75.26 L122.80 75.24 L122.77 75.22 L122.74 75.20 L122.71 75.19 L122.69 75.17 L122.66 75.16 L122.63 75.14 L122.61 75.13 L122.59 75.11 L122.56 75.10 L122.54 75.08 L122.52 75.07 L122.50 75.06 L122.48 75.05 L122.46 75.03 L122.44 75.02 L122.42 75.01 L122.40 75.00 L122.39 74.99 L122.37 74.98 L122.36 74.97 L122.34 74.96 L122.33 74.96 L122.32 74.95 L122.31 74.94 L122.30 74.93 L122.29 74.93 L122.28 74.92 L122.27 74.92 L122.26 74.91 L122.25 74.91 L122.25 74.90 L122.24 74.90 L122.24 74.89 L122.23 74.89 L122.23 74.89 L122.23 74.89 L122.22 74.89 L122.22 74.89 L122.22 74.88 L122.22 74.88 L122.22 74.89 L122.22 74.89 L122.23 74.89 L122.23 74.89 L122.23 74.89 L122.24 74.89 L122.24 74.90 L122.25 74.90 L122.25 74.91 L122.26 74.91 L122.27 74.92 L122.27 74.92 L122.28 74.93 L122.29 74.93 L122.30 74.94 L122.31 74.95 L122.32 74.96 L122.33 74.97 L122.35 74.97 L122.36 74.98 L122.37 74.99 L122.39 75.01 L122.40 75.02 L122.42 75.03 L122.43 75.04 L122.45 75.05 L122.46 75.07 L122.48 75.08 L122.50 75.09 L122.52 75.11 L122.54 75.12 L122.56 75.14 L122.58 75.15 L122.60 75.17 L122.62 75.19 L122.64 75.21 L122.66 75.22 L122.69 75.24 L122.71 75.26 L122.73 75.28 L122.76 75.30 L122.78 75.32 L122.81 75.34 L122.84 75.36 L122.86 75.38 L122.89 75.41 L122.92 75.43 L122.94 75.45 L122.97 75.48 L123.00 75.50 L123.03 75.53 L123.06 75.55 L123.09 75.58 L123.12 75.61 L123.15 75.63 L123.18 75.66 L123.22 75.69 L123.25 75.72 L123.28 75.74 L123.31 75.77 L123.35 75.80 L123.38 75.83 L123.42 75.87 L123.45 75.90 L123.49 75.93 L123.52 75.96 L123.56 75.99 L123.59 76.03 L123.63 76.06 L123.67 76.09 L123.71 76.13 L123.74 76.16 L123.78 76.20 L123.82 76.24 L123.86 76.27 L123.90 76.31 L123.94 76.35 L123.98 76.39 L124.02 76.43 L124.06 76.46 L124.10 76.50 L124.14 76.54 L124.18 76.58 L124.22 76.63 L124.27 76.67 L124.31 76.71 L124.35 76.75 L124.39 76.79 L124.44 76.84 L124.48 76.88 L124.52 76.92 L124.57 76.97 L124.61 77.01 L124.66 77.06 L124.70 77.11 L124.75 77.15 L124.79 77.20 L124.84 77.25 L124.88 77.29 L124.93 77.34 L124.98 77.39 L125.02 77.44 L125.07 77.49 L125.12 77.54 L125.16 77.59 L125.21 77.64 L125.26 77.69 L125.31 77.74 L125.35 77.80 L125.40 77.85 L125.45 77.90 L125.50 77.96 L125.55 78.01 L125.60 78.06 L125.65 78.12 L125.69 78.17 L125.74 78.23 L125.79 78.28 L125.84 78.34 L125.89 78.40 L125.94 78.45 L125.99 78.51 L126.04 78.57 L126.09 78.63 L126.14 78.69 L126.19 78.74 L126.24 78.80 L126.29 78.86 L126.34 78.92 L126.40 78.98 L126.45 79.04 L126.50 79.11 L126.55 79.17 L126.60 79.23 L126.65 79.29 L126.70 79.35 L126.75 79.42 L126.80 79.48 L126.86 79.54 L126.91 79.61 L126.96 79.67 L127.01 79.74 L127.06 79.80 L127.11 79.87 L127.17 79.93 L127.22 80.00 L127.27 80.07 L127.32 80.13 L127.37 80.20 L127.42 80.27 L127.48 80.33 L127.53 80.40 L127.58 80.47 L127.63 80.54 L127.68 80.61 L127.74 80.68 L127.79 80.75 L127.84 80.82 L127.89 80.89 L127.94 80.96 L127.99 81.03 L128.05 81.10 L128.10 81.17 L128.15 81.24 L128.20 81.31 L128.25 81.38 L128.30 81.45 L128.36 81.53 L128.41 81.60 L128.46 81.67 L128.51 81.75 L128.56 81.82 L128.61 81.89 L128.66 81.97 L128.71 82.04 L128.77 82.12 L128.82 82.19 L128.87 82.26 L128.92 82.34 L128.97 82.41 L129.02 82.49 L129.07 82.57 L129.12 82.64 L129.17 82.72 L129.22 82.79 L129.27 82.87 L129.32 82.95 L129.37 83.02 L129.42 83.10 L129.47 83.18 L129.52 83.26 L129.57 83.33 L129.62 83.41 L129.67 83.49 L129.72 83.57 L129.76 83.65 L129.81 83.72 L129.86 83.80 L129.91 83.88 L129.96 83.96 L130.01 84.04 L130.05 84.12 L130.10 84.20 L130.15 84.28 L130.20 84.36 L130.25 84.44 L130.29 84.52 L130.34 84.60 L130.39 84.68 L130.43 84.76 L130.48 84.84 L130.53 84.92 L130.57 85.00 L130.62 85.08 L130.66 85.16 L130.71 85.24 L130.76 85.32 L130.80 85.40 L130.85 85.48 L130.89 85.56 L130.94 85.65 L130.98 85.73 L131.03 85.81 L131.07 85.89 L131.11 85.97 L131.16 86.05 L131.20 86.14 L131.25 86.22 L131.29 86.30 L131.33 86.38 L131.38 86.46 L131.42 86.55 L131.46 86.63 L131.50 86.71 L131.55 86.79 L131.59 86.88 L131.63 86.96 L131.67 87.04 L131.71 87.12 L131.75 87.21 L131.80 87.29 L131.84 87.37 L131.88 87.45 L131.92 87.54 L131.96 87.62 L132.00 87.70 L132.04 87.79 L132.08 87.87 L132.12 87.95 L132.15 88.03 L132.19 88.12 L132.23 88.20 L132.27 88.28 L132.31 88.37 L132.35 88.45 L132.39 88.53 L132.42 88.61 L132.46 88.70 L132.50 88.78 L132.53 88.86 L132.57 88.94 L132.61 89.03 L132.64 89.11 L132.68 89.19 L132.72 89.28 L132.75 89.36 L132.79 89.44 L132.82 89.52 L132.86 89.61 L132.89 89.69 L132.93 89.77 L132.96 89.85 L132.99 89.94 L133.03 90.02 L133.06 90.10 L133.09 90.18 L133.13 90.27 L133.16 90.35 L133.19 90.43 L133.23 90.51 L133.26 90.60 L133.29 90.68 L133.32 90.76 L133.35 90.84 L133.38 90.92 L133.42 91.00 L133.45 91.09 L133.48 91.17 L133.51 91.25 L133.54 91.33 L133.57 91.41 L133.60 91.49 L133.63 91.58 L133.66 91.66 L133.69 91.74 L133.71 91.82 L133.74 91.90 L133.77 91.98 L133.80 92.06 L133.83 92.14 L133.85 92.22 L133.88 92.30 L133.91 92.39 L133.94 92.47 L133.96 92.55 L133.99 92.63 L134.02 92.71 L134.04 92.79 L134.07 92.87 L134.09 92.95 L134.12 93.03 L134.14 93.11 L134.17 93.19 L134.19 93.27 L134.22 93.34 L134.24 93.42 L134.27 93.50 L134.29 93.58 L134.31 93.66 L134.34 93.74 L134.36 93.82 L134.38 93.90 L134.41 93.98 L134.43 94.05 L134.45 94.13 L134.47 94.21 L134.50 94.29 L134.52 94.37 L134.54 94.45 L134.56 94.52 L134.58 94.60 L134.60 94.68 L134.62 94.76 L134.64 94.83 L134.66 94.91 L134.68 94.99 L134.70 95.06 L134.72 95.14 L134.74 95.22 L134.76 95.29 L134.78 95.37 L134.80 95.45 L134.82 95.52 L134.83 95.60 L134.85 95.67 L134.87 95.75 L134.89 95.83 L134.90 95.90 L134.92 95.98 L134.94 96.05 L134.96 96.13 L134.97 96.20 L134.99 96.28 L135.01 96.35 L135.02 96.43 L135.04 96.50 L135.05 96.57 L135.07 96.65 L135.08 96.72 L135.10 96.80 L135.11 96.87 L135.13 96.94 L135.14 97.02 L135.16 97.09 L135.17 97.16 L135.18 97.24 L135.20 97.31 L135.21 97.38 L135.22 97.45 L135.24 97.53 L135.25 97.60 L135.26 97.67 L135.28 97.74 L135.29 97.82 L135.30 97.89 L135.31 97.96 L135.32 98.03 L135.33 98.10 L135.35 98.17 L135.36 98.24 L135.37 98.31 L135.38 98.38 L135.39 98.46 L135.40 98.53 L135.41 98.60 L135.42 98.67 L135.43 98.74 L135.44 98.81 L135.45 98.87 L135.46 98.94 L135.47 99.01 L135.48 99.08 L135.49 99.15 L135.49 99.22 L135.50 99.29 L135.51 99.36 L135.52 99.43 L135.53 99.49 L135.54 99.56 L135.54 99.63 L135.55 99.70 L135.56 99.77 L135.56 99.83 L135.57 99.90 L135.58 99.97 L135.59 100.03 L135.59 100.10 L135.60 100.17 L135.60 100.23 L135.61 100.30 L135.62 100.37 L135.62 100.43 L135.63 100.50 L135.63 100.56 L135.64 100.63 L135.64 100.70 L135.65 100.76 L135.65 100.83 L135.66 100.89 L135.66 100.96 L135.67 101.02 L135.67 101.08 L135.67 101.15 L135.68 101.21 L135.68 101.28 L135.68 101.34 L135.69 101.40 L135.69 101.47 L135.69 101.53 L135.70 101.59 L135.70 101.66 L135.70 101.72 L135.70 101.78 L135.71 101.85 L135.71 101.91 L135.71 101.97 L135.71 102.03 L135.71 102.09 L135.72 102.16 L135.72 102.22 L135.72 102.28 L135.72 102.34 L135.72 102.40 L135.72 102.46 L135.72 102.52 L135.72 102.58 L135.72 102.65 L135.72 102.71 L135.72 102.77 L135.72 102.83 L135.72 102.89 L135.72 102.95 L135.72 103.01 L135.72 103.06 L135.72 103.12 L135.72 103.18 L135.72 103.24 L135.72 103.30 L135.72 103.36 L135.72 103.42 L135.72 103.48 L135.71 103.53 L135.71 103.59 L135.71 103.65 L135.71 103.71 L135.71 103.77 L135.71 103.82 L135.70 103.88 L135.70 103.94 L135.70 103.99 L135.70 104.05 L135.69 104.11 L135.69 104.16 L135.69 104.22 L135.68 104.28 L135.68 104.33 L135.68 104.39 L135.67 104.44 L135.67 104.50 L135.67 104.55 L135.66 104.61 L135.66 104.67 L135.66 104.72 L135.65 104.77 L135.65 104.83 L135.64 104.88 L135.64 104.94 L135.63 104.99 L135.63 105.05 L135.62 105.10 L135.62 105.15 L135.61 105.21 L135.61 105.26 L135.60 105.31 L135.60 105.37 L135.59 105.42 L135.59 105.47 L135.58 105.53 L135.58 105.58 L135.57 105.63 L135.57 105.68 L135.56 105.73 L135.55 105.79 L135.55 105.84 L135.54 105.89 L135.54 105.94 L135.53 105.99 L135.52 106.04 L135.52 106.09 L135.51 106.15 L135.50 106.20 L135.50 106.25 L135.49 106.30 L135.48 106.35 L135.47 106.40 L135.47 106.45 L135.46 106.50 L135.45 106.55 L135.44 106.60 L135.44 106.65 L135.43 106.69 L135.42 106.74 L135.41 106.79 L135.40 106.84 L135.40 106.89 L135.39 106.94 L135.38 106.99 L135.37 107.03 L135.36 107.08 L135.36 107.13 L135.35 107.18 L135.34 107.23 L135.33 107.27 L135.32 107.32 L135.31 107.37 L135.30 107.41 L135.29 107.46 L135.28 107.51 L135.27 107.55 L135.27 107.60 L135.26 107.65 L135.25 107.69 L135.24 107.74 L135.23 107.79 L135.22 107.83 L135.21 107.88 L135.20 107.92 L135.19 107.97 L135.18 108.01 L135.17 108.06 L135.16 108.10 L135.15 108.15 L135.14 108.19 L135.13 108.24 L135.12 108.28 L135.11 108.32 L135.10 108.37 L135.09 108.41 L135.07 108.46 L135.06 108.50 L135.05 108.54 L135.04 108.59 L135.03 108.63 L135.02 108.67 L135.01 108.72 L135.00 108.76 L134.99 108.80 L134.98 108.84 L134.96 108.89 L134.95 108.93 L134.94 108.97 L134.93 109.01 L134.92 109.05 L134.91 109.10 L134.89 109.14 L134.88 109.18 L134.87 109.22 L134.86 109.26 L134.85 109.30 L134.83 109.34 L134.82 109.38 L134.81 109.42 L134.80 109.46 L134.79 109.50 L134.77 109.54 L134.76 109.58 L134.75 109.62 L134.74 109.66 L134.72 109.70 L134.71 109.74 L134.70 109.78 L134.69 109.82 L134.67 109.86 L134.66 109.90 L134.65 109.94 L134.63 109.98 L134.62 110.02 L134.61 110.05 L134.60 110.09 L134.58 110.13 L134.57 110.17 L134.56 110.21 L134.54 110.24 L134.53 110.28 L134.52 110.32 L134.50 110.36 L134.49 110.39 L134.48 110.43 L134.46 110.47 L134.45 110.51 L134.44 110.54 L134.42 110.58 L134.41 110.62 L134.39 110.65 L134.38 110.69 L134.37 110.72 L134.35 110.76 L134.34 110.80 L134.33 110.83 L134.31 110.87 L134.30 110.90 L134.28 110.94 L134.27 110.97 L134.26 111.01 L134.24 111.04 L134.23 111.08 L134.21 111.11 L134.20 111.15 L134.18 111.18 L134.17 111.22 L134.16 111.25 L134.14 111.29 L134.13 111.32 L134.11 111.35 L134.10 111.39 L134.08 111.42 L134.07 111.46 L134.05 111.49 L134.04 111.52 L134.02 111.56 L134.01 111.59 L133.99 111.62 L133.98 111.65 L133.96 111.69 L133.95 111.72 L133.93 111.75 L133.92 111.78 L133.91 111.82 L133.89 111.85 L133.88 111.88 L133.86 111.91 L133.84 111.94 L133.83 111.98 L133.81 112.01 L133.80 112.04 L133.78 112.07 L133.77 112.10 L133.75 112.13 L133.74 112.16 L133.72 112.19 L133.71 112.22 L133.69 112.25 L133.68 112.29 L133.66 112.32 L133.65 112.35 L133.63 112.38 L133.62 112.41 L133.60 112.44 L133.58 112.47 L133.57 112.50 L133.55 112.52 L133.54 112.55 L133.52 112.58 L133.51 112.61 L133.49 112.64 L133.48 112.67 L133.46 112.70 L133.44 112.73 L133.43 112.76 L133.41 112.79 L133.40 112.81 L133.38 112.84 L133.36 112.87 L133.35 112.90 L133.33 112.93 L133.32 112.95 L133.30 112.98 L133.29 113.01 L133.27 113.04 L133.25 113.07 L133.24 113.09 L133.22 113.12 L133.21 113.15 L133.19 113.17 L133.17 113.20 L133.16 113.23 L133.14 113.25 L133.13 113.28 L133.11 113.31 L133.09 113.33 L133.08 113.36 L133.06 113.39 L133.05 113.41 L133.03 113.44 L133.01 113.46 L133.00 113.49 L132.98 113.52 L132.96 113.54 L132.95 113.57 L132.93 113.59 L132.92 113.62 L132.90 113.64 L132.88 113.67 L132.87 113.69 L132.85 113.72 L132.84 113.74 L132.82 113.77 L132.80 113.79 L132.79 113.81 L132.77 113.84 L132.75 113.86 L132.74 113.89 L132.72 113.91 L132.71 113.93 L132.69 113.96 L132.67 113.98 L132.66 114.01 L132.64 114.03 L132.62 114.05 L132.61 114.08 L132.59 114.10 L132.57 114.12 L132.56 114.14 L132.54 114.17 L132.53 114.19 L132.51 114.21 L132.49 114.24 L132.48 114.26 L132.46 114.28 L132.44 114.30 L132.43 114.33 L132.41 114.35 L132.40 114.37 L132.38 114.39 L132.36 114.41 L132.35 114.43 L132.33 114.46 L132.31 114.48 L132.30 114.50 L132.28 114.52 L132.26 114.54 L132.25 114.56 L132.23 114.58 L132.22 114.60 L132.20 114.63 L132.18 114.65 L132.17 114.67 L132.15 114.69 L132.13 114.71 L132.12 114.73 L132.10 114.75 L132.08 114.77 L132.07 114.79 L132.05 114.81 L132.04 114.83 L132.02 114.85 L132.00 114.87 L131.99 114.89 L131.97 114.91 L131.95 114.93 L131.94 114.95 L131.92 114.97 L131.91 114.98 L131.89 115.00 L131.87 115.02 L131.86 115.04 L131.84 115.06 L131.82 115.08 L131.81 115.10 L131.79 115.12 L131.78 115.13 L131.76 115.15 L131.74 115.17 L131.73 115.19 L131.71 115.21 L131.70 115.23 L131.68 115.24 L131.66 115.26 L131.65 115.28 L131.63 115.30 L131.61 115.31 L131.60 115.33 L131.58 115.35 L131.57 115.37 L131.55 115.38 L131.53 115.40 L131.52 115.42 L131.50 115.43 L131.49 115.45 L131.47 115.47 L131.45 115.49 L131.44 115.50 L131.42 115.52 L131.41 115.53 L131.39 115.55 L131.37 115.57 L131.36 115.58 L131.34 115.60 L131.33 115.62 L131.31 115.63 L131.30 115.65 L131.28 115.66 L131.26 115.68 L131.25 115.70 L131.23 115.71 L131.22 115.73 L131.20 115.74 L131.19 115.76 L131.17 115.77 L131.15 115.79 L131.14 115.80 L131.12 115.82 L131.11 115.83 L131.09 115.85 L131.08 115.86 L131.06 115.88 L131.04 115.89 L131.03 115.91 L131.01 115.92 L131.00 115.93 L130.98 115.95 L130.97 115.96 L130.95 115.98 L130.94 115.99 L130.92 116.01 L130.91 116.02 L130.89 116.03 L130.87 116.05 L130.86 116.06 L130.84 116.07 L130.83 116.09 L130.81 116.10 L130.80 116.11 L130.78 116.13 L130.77 116.14 L130.75 116.15 L130.74 116.17 L130.72 116.18 L130.71 116.19 L130.69 116.21 L130.68 116.22 L130.66 116.23 L130.65 116.24 L130.63 116.26 L130.62 116.27 L130.60 116.28 L130.59 116.29 L130.57 116.31 L130.56 116.32 L130.54 116.33 L130.53 116.34 L130.51 116.35 L130.50 116.37 L130.48 116.38 L130.47 116.39 L130.45 116.40 L130.44 116.41 L130.43 116.42 L130.41 116.44 L130.40 116.45 L130.38 116.46 L130.37 116.47 L130.35 116.48 L130.34 116.49 L130.32 116.50 L130.31 116.51 L130.29 116.53 L130.28 116.54 L130.27 116.55 L130.25 116.56 L130.24 116.57 L130.22 116.58 L130.21 116.59 L130.19 116.60 L130.18 116.61 L130.17 116.62 L130.15 116.63 L130.14 116.64 L130.12 116.65 L130.11 116.66 L130.10 116.67 L130.08 116.68 L130.07 116.69 L130.05 116.70 L130.04 116.71 L130.03 116.72 L130.01 116.73 L130.00 116.74 L129.99 116.75 L129.97 116.76 L129.96 116.77 L129.94 116.78 L129.93 116.79 L129.92 116.80 L129.90 116.81 L129.89 116.81 L129.88 116.82 L129.86 116.83 L129.85 116.84 L129.84 116.85 L129.82 116.86 L129.81 116.87 L129.80 116.88 L129.78 116.89 L129.77 116.89 L129.76 116.90 L129.74 116.91 L129.73 116.92 L129.72 116.93 L129.70 116.94 L129.69 116.94 L129.68 116.95 L129.66 116.96 L129.65 116.97 L129.64 116.98 L129.63 116.98 L129.61 116.99 L129.60 117.00 L129.59 117.01 L129.58 117.01 L129.56 117.02 L129.55 117.03 L129.54 117.04 L129.52 117.04 L129.51 117.05 L129.50 117.06 L129.49 117.07 L129.47 117.07 L129.46 117.08 L129.45 117.09 L129.44 117.09 L129.43 117.10 L129.41 117.11 L129.40 117.12 L129.39 117.12 L129.38 117.13 L129.36 117.14 L129.35 117.14 L129.34 117.15 L129.33 117.16 L129.32 117.16 L129.30 117.17 L129.29 117.18 L129.28 117.18 L129.27 117.19 L129.26 117.19 L129.25 117.20 L129.23 117.21 L129.22 117.21 L129.21 117.22 L129.20 117.22 L129.19 117.23 L129.18 117.24 L129.16 117.24 L129.15 117.25 L129.14 117.25 L129.13 117.26 L129.12 117.27 L129.11 117.27 L129.10 117.28 L129.09 117.28 L129.07 117.29 L129.06 117.29 L129.05 117.30 L129.04 117.30 L129.03 117.31 L129.02 117.31 L129.01 117.32 L129.00 117.32 L128.99 117.33 L128.98 117.33 L128.97 117.34 L128.95 117.34 L128.94 117.35 L128.93 117.35 L128.92 117.36 L128.91 117.36 L128.90 117.37 L128.89 117.37 L128.88 117.38 L128.87 117.38 L128.86 117.39 L128.85 117.39 L128.84 117.40 L128.83 117.40 L128.82 117.40 L128.81 117.41 L128.80 117.41 L128.79 117.42 L128.78 117.42 L128.77 117.43 L128.76 117.43 L128.75 117.43 L128.74 117.44 L128.73 117.44 L128.72 117.45 L128.71 117.45 L128.70 117.45 L128.69 117.46 L128.68 117.46 L128.67 117.46 L128.66 117.47 L128.65 117.47 L128.64 117.48 L128.64 117.48 L128.63 117.48 L128.62 117.49 L128.61 117.49 L128.60 117.49 L128.59 117.50 L128.58 117.50 L128.57 117.50 L128.56 117.51 L128.55 117.51 L128.54 117.51 L128.54 117.52 L128.53 117.52 L128.52 117.52 L128.51 117.53 L128.50 117.53 L128.49 117.53 L128.48 117.53 L128.48 117.54 L128.47 117.54 L128.46 117.54 L128.45 117.55 L128.44 117.55 L128.43 117.55 L128.43 117.55 L128.42 117.56 L128.41 117.56 L128.40 117.56 L128.39 117.57 L128.39 117.57 L128.38 117.57 L128.37 117.57 L128.36 117.58 L128.35 117.58 L128.35 117.58 L128.34 117.58 L128.33 117.58 L128.32 117.59 L128.32 117.59 L128.31 117.59 L128.30 117.59 L128.29 117.60 L128.29 117.60 L128.28 117.60 L128.27 117.60 L128.26 117.60 L128.26 117.61 L128.25 117.61 L128.24 117.61 L128.24 117.61 L128.23 117.61 L128.22 117.62 L128.22 117.62 L128.21 117.62 L128.20 117.62 L128.20 117.62 L128.19 117.63 L128.18 117.63 L128.18 117.63 L128.17 117.63 L128.16 117.63 L128.16 117.63 L128.15 117.64 L128.14 117.64 L128.14 117.64 L128.13 117.64 L128.12 117.64 L128.12 117.64 L128.11 117.64 L128.11 117.65 L128.10 117.65 L128.09 117.65 L128.09 117.65 L128.08 117.65 L128.08 117.65 L128.07 117.65 L128.07 117.65 L128.06 117.66 L128.05 117.66 L128.05 117.66 L128.04 117.66 L128.04 117.66 L128.03 117.66 L128.03 117.66 L128.02 117.66 L128.02 117.67 L128.01 117.67 L128.01 117.67 L128.00 117.67 L128.00 117.67 L127.99 117.67 L127.99 117.67 L127.98 117.67 L127.98 117.67 L127.97 117.67 L127.97 117.67 L127.96 117.68 L127.96 117.68 L127.95 117.68 L127.95 117.68 L127.94 117.68 L127.94 117.68 L127.94 117.68 L127.93 117.68 L127.93 117.68 L127.92 117.68 L127.92 117.68 L127.91 117.68 L127.91 117.68 L127.91 117.68 L127.90 117.69 L127.90 117.69 L127.89 117.69 L127.89 117.69 L127.89 117.69 L127.88 117.69 L127.88 117.69 L127.88 117.69 L127.87 117.69 L127.87 117.69 L127.87 117.69 L127.86 117.69 L127.86 117.69 L127.86 117.69 L127.85 117.69 L127.85 117.69 L127.85 117.69 L127.84 117.69 L127.84 117.69 L127.84 117.69 L127.83 117.69 L127.83 117.69 L127.83 117.69 L127.83 117.70 L127.82 117.70 L127.82 117.70 L127.82 117.70 L127.82 117.70 L127.81 117.70 L127.81 117.70 L127.81 117.70 L127.81 117.70 L127.80 117.70 L127.80 117.70 L127.80 117.70 L127.80 117.70 L127.79 117.70 L127.79 117.70 L127.79 117.70 L127.79 117.70 L127.79 117.70 L127.79 117.70 L127.78 117.70 L127.78 117.70 L127.78 117.70 L127.78 117.70 L127.78 117.70 L127.78 117.70 L127.77 117.70 L127.77 117.70 L127.77 117.70 L127.77 117.70 L127.77 117.70 L127.77 117.70 L127.77 117.70 L127.77 117.70 L127.76 117.70 L127.76 117.70 L127.76 117.70 L127.76 117.70 L127.76 117.70 L127.76 117.70 L127.76 117.70 L127.76 117.70 L127.76 117.70 L127.76 117.70 L127.76 117.70 L127.76 117.70 L127.76 117.70 L127.76 117.70 L127.76 117.70 L127.76 117.70 L127.75 117.70 L127.75 117.70 L127.75 117.70 L127.75 117.70 " fill="none" stroke="#333333" stroke-width="0.95" stroke-linejoin="round"/>
<circle cx="120.9" cy="117.7" r="1.6" fill="#111"/><circle cx="119.4" cy="117.6" r="1.6" fill="#8f8f8f"/><circle cx="335.5" cy="118" r="1.6" fill="#111"/><circle cx="339.8" cy="117.6" r="1.6" fill="#8f8f8f"/>
<polygon points="252.9,67.6 262.3,58.1 266.6,65.9" fill="#0000ff"/><polygon points="311.5,81.6 322.3,74.7 325.2,82.5" fill="#ff0000"/>
</g>
<path d="M32 0 V236 M31 235.3 H350 M30 0.4 H350 M349.3 0 V236" fill="none" stroke="#888" stroke-width="1"/><path d="M35.24 235.3 V233.30 M35.24 0.5 V2.50 M52.72 235.3 V233.30 M52.72 0.5 V2.50 M70.20 235.3 V231.30 M70.20 0.5 V4.50 M87.68 235.3 V233.30 M87.68 0.5 V2.50 M105.16 235.3 V233.30 M105.16 0.5 V2.50 M122.64 235.3 V233.30 M122.64 0.5 V2.50 M140.12 235.3 V233.30 M140.12 0.5 V2.50 M157.60 235.3 V231.30 M157.60 0.5 V4.50 M175.08 235.3 V233.30 M175.08 0.5 V2.50 M192.56 235.3 V233.30 M192.56 0.5 V2.50 M210.04 235.3 V233.30 M210.04 0.5 V2.50 M227.52 235.3 V233.30 M227.52 0.5 V2.50 M245.00 235.3 V231.30 M245.00 0.5 V4.50 M262.48 235.3 V233.30 M262.48 0.5 V2.50 M279.96 235.3 V233.30 M279.96 0.5 V2.50 M297.44 235.3 V233.30 M297.44 0.5 V2.50 M314.92 235.3 V233.30 M314.92 0.5 V2.50 M332.40 235.3 V231.30 M332.40 0.5 V4.50 M31.7 230.04 H33.70 M349.5 230.04 H347.50 M31.7 223.43 H33.70 M349.5 223.43 H347.50 M31.7 216.82 H35.70 M349.5 216.82 H345.50 M31.7 210.21 H33.70 M349.5 210.21 H347.50 M31.7 203.60 H33.70 M349.5 203.60 H347.50 M31.7 197.00 H33.70 M349.5 197.00 H347.50 M31.7 190.39 H33.70 M349.5 190.39 H347.50 M31.7 183.78 H35.70 M349.5 183.78 H345.50 M31.7 177.17 H33.70 M349.5 177.17 H347.50 M31.7 170.56 H33.70 M349.5 170.56 H347.50 M31.7 163.96 H33.70 M349.5 163.96 H347.50 M31.7 157.35 H33.70 M349.5 157.35 H347.50 M31.7 150.74 H35.70 M349.5 150.74 H345.50 M31.7 144.13 H33.70 M349.5 144.13 H347.50 M31.7 137.52 H33.70 M349.5 137.52 H347.50 M31.7 130.92 H33.70 M349.5 130.92 H347.50 M31.7 124.31 H33.70 M349.5 124.31 H347.50 M31.7 117.70 H35.70 M349.5 117.70 H345.50 M31.7 111.09 H33.70 M349.5 111.09 H347.50 M31.7 104.48 H33.70 M349.5 104.48 H347.50 M31.7 97.88 H33.70 M349.5 97.88 H347.50 M31.7 91.27 H33.70 M349.5 91.27 H347.50 M31.7 84.66 H35.70 M349.5 84.66 H345.50 M31.7 78.05 H33.70 M349.5 78.05 H347.50 M31.7 71.44 H33.70 M349.5 71.44 H347.50 M31.7 64.84 H33.70 M349.5 64.84 H347.50 M31.7 58.23 H33.70 M349.5 58.23 H347.50 M31.7 51.62 H35.70 M349.5 51.62 H345.50 M31.7 45.01 H33.70 M349.5 45.01 H347.50 M31.7 38.40 H33.70 M349.5 38.40 H347.50 M31.7 31.80 H33.70 M349.5 31.80 H347.50 M31.7 25.19 H33.70 M349.5 25.19 H347.50 M31.7 18.58 H35.70 M349.5 18.58 H345.50 M31.7 11.97 H33.70 M349.5 11.97 H347.50" stroke="#333" stroke-width="0.8" fill="none"/>
<text x="70.80" y="244" text-anchor="middle" class="tl">−0.5</text><text x="158.20" y="244" text-anchor="middle" class="tl">0.0</text><text x="245.60" y="244" text-anchor="middle" class="tl">0.5</text><text x="333.00" y="244" text-anchor="middle" class="tl">1.0</text><text x="31.5" y="219.77" text-anchor="end" class="tl">−0.6</text><text x="31.5" y="186.73" text-anchor="end" class="tl">−0.4</text><text x="31.5" y="153.69" text-anchor="end" class="tl">−0.2</text><text x="31.5" y="120.65" text-anchor="end" class="tl">0.0</text><text x="31.5" y="87.61" text-anchor="end" class="tl">0.2</text><text x="31.5" y="54.57" text-anchor="end" class="tl">0.4</text><text x="31.5" y="21.53" text-anchor="end" class="tl">0.6</text>
<text x="245" y="52" class="lg" fill="#0000ff" stroke="#0000ff">Ground</text>
<text x="297.3" y="101.3" class="lg" fill="#ff0000" stroke="#ff0000">Spitzer</text>
<text x="254.4" y="151.4" class="hj" fill="#000" stroke="#000">HJD'=7115.8</text>
<text x="254.4" y="167.9" class="hj" fill="#444" stroke="#444">HJD'=7158.6</text>
<text x="254.4" y="184.4" class="hj" fill="#888" stroke="#888">HJD'=7165.6</text>
<text x="185.2" y="256.2" class="ax" font-size="12.5px">x</text>
<text transform="translate(5.4,122.4) rotate(-90)" class="ax" font-size="11px">y<tspan font-size="8px" dy="1.8">s</tspan></text>
</svg>
</body></html>
